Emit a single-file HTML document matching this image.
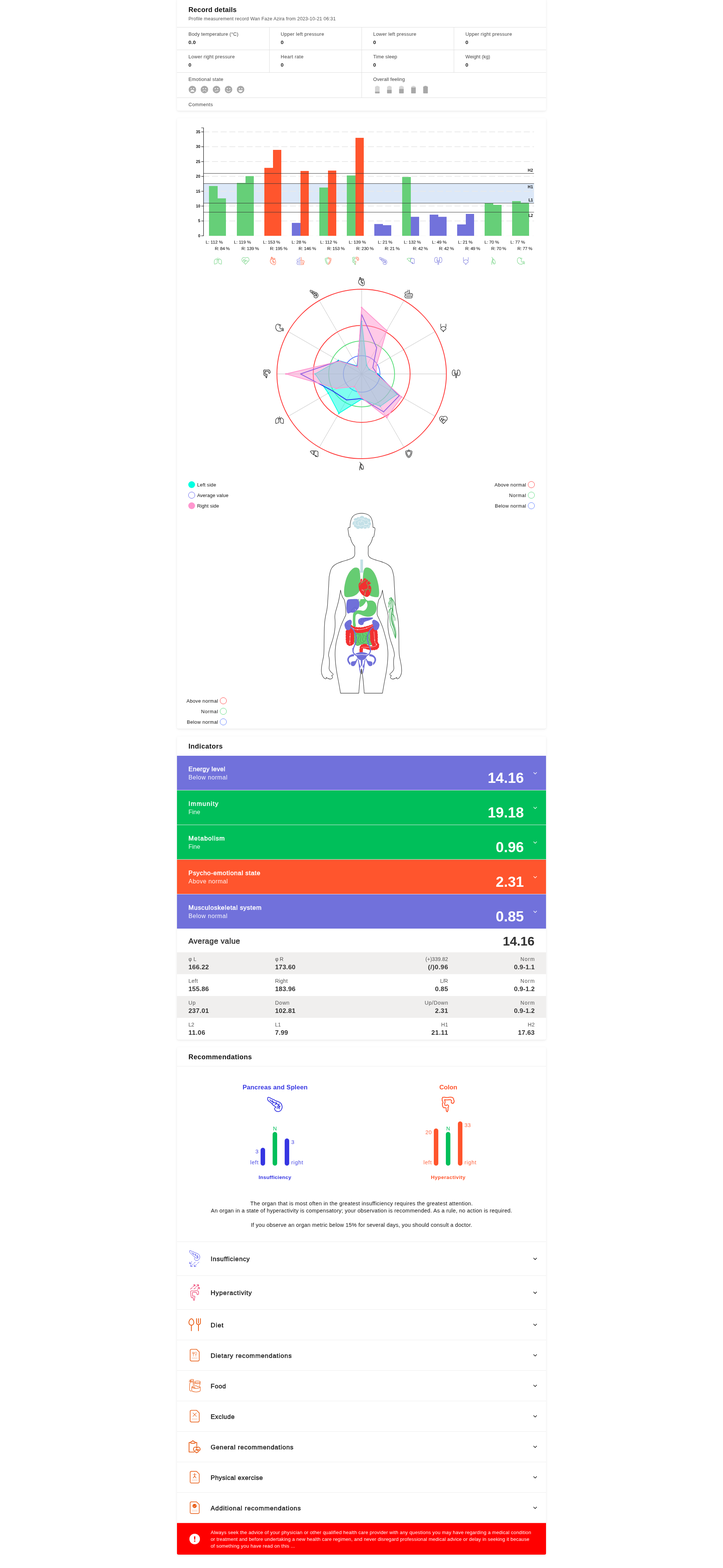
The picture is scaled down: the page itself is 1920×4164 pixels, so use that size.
<!DOCTYPE html>
<html lang="en"><head><meta charset="utf-8"><title>Record details</title>
<style>

html,body{margin:0;padding:0;background:#fff}
#page{position:relative;width:1920px;height:4164px;overflow:hidden;background:#fff;font-family:'Liberation Sans',sans-serif;color:#222}
.t{position:absolute;white-space:nowrap;line-height:1;margin:0;padding:0}
.card{position:absolute;left:470px;width:980px;background:#fff;border-radius:4px;box-shadow:0 1px 2px rgba(0,0,0,.05),0 2px 7px rgba(0,0,0,.07)}
.hl{position:absolute;left:470px;width:980px;height:1px;background:#dcdcdc}
.vl{position:absolute;width:1px;background:#dcdcdc}
.b{position:absolute}
svg{position:absolute;overflow:visible}

</style></head>
<body>
<div id="page">
<div class="card" style="top:-3px;height:296.7px"></div>
<div class="card" style="top:313.7px;height:1621.8px"></div>
<div class="card" style="top:1955.6px;height:805.1px;overflow:hidden"></div>
<div class="card" style="top:2780.6px;height:1347.9px"></div>
<div class="t" style="top:17.00px;font-size:18px;color:#111;font-weight:700;letter-spacing:0.290px;left:500.50px;">Record details</div>
<div class="t" style="top:44.00px;font-size:12.5px;color:#555;letter-spacing:0.240px;left:500.50px;">Profile measurement record Wan Faze Azira from 2023-10-21 06:31</div>
<div class="hl" style="top:72px"></div>
<div class="hl" style="top:132px"></div>
<div class="hl" style="top:192px"></div>
<div class="hl" style="top:259px"></div>
<div class="vl" style="left:714.5px;top:72px;height:120px"></div>
<div class="vl" style="left:959.5px;top:72px;height:187px"></div>
<div class="vl" style="left:1204.5px;top:72px;height:120px"></div>
<div class="t" style="top:85.00px;font-size:12.8px;color:#454545;letter-spacing:0.220px;left:500.50px;">Body temperature (°C)</div>
<div class="t" style="top:106.00px;font-size:13.6px;color:#1c1c1c;font-weight:700;letter-spacing:0.258px;left:500.50px;">0.0</div>
<div class="t" style="top:85.00px;font-size:12.8px;color:#454545;letter-spacing:0.346px;left:745.50px;">Upper left pressure</div>
<div class="t" style="top:106.00px;font-size:13.6px;color:#1c1c1c;font-weight:700;left:745.50px;">0</div>
<div class="t" style="top:85.00px;font-size:12.8px;color:#454545;letter-spacing:0.308px;left:991.00px;">Lower left pressure</div>
<div class="t" style="top:106.00px;font-size:13.6px;color:#1c1c1c;font-weight:700;left:991.00px;">0</div>
<div class="t" style="top:85.00px;font-size:12.8px;color:#454545;letter-spacing:0.361px;left:1236.00px;">Upper right pressure</div>
<div class="t" style="top:106.00px;font-size:13.6px;color:#1c1c1c;font-weight:700;left:1236.00px;">0</div>
<div class="t" style="top:145.00px;font-size:12.8px;color:#454545;letter-spacing:0.325px;left:500.50px;">Lower right pressure</div>
<div class="t" style="top:166.00px;font-size:13.6px;color:#1c1c1c;font-weight:700;left:500.50px;">0</div>
<div class="t" style="top:145.00px;font-size:12.8px;color:#454545;letter-spacing:0.391px;left:745.50px;">Heart rate</div>
<div class="t" style="top:166.00px;font-size:13.6px;color:#1c1c1c;font-weight:700;left:745.50px;">0</div>
<div class="t" style="top:145.00px;font-size:12.8px;color:#454545;letter-spacing:0.167px;left:991.00px;">Time sleep</div>
<div class="t" style="top:166.00px;font-size:13.6px;color:#1c1c1c;font-weight:700;left:991.00px;">0</div>
<div class="t" style="top:145.00px;font-size:12.8px;color:#454545;letter-spacing:0.037px;left:1236.00px;">Weight (kg)</div>
<div class="t" style="top:166.00px;font-size:13.6px;color:#1c1c1c;font-weight:700;left:1236.00px;">0</div>
<div class="t" style="top:205.00px;font-size:12.8px;color:#454545;letter-spacing:0.298px;left:500.50px;">Emotional state</div>
<div class="t" style="top:205.00px;font-size:12.8px;color:#454545;letter-spacing:0.173px;left:991.00px;">Overall feeling</div>
<div class="t" style="top:272.00px;font-size:12.8px;color:#454545;letter-spacing:0.388px;left:500.50px;">Comments</div>
<svg style="left:0;top:0" width="1920" height="300" viewBox="0 0 1920 300"><g transform="translate(510.9 237.8)"><circle r="9.9" fill="#a8a8a8"/><circle cx="-3.2" cy="-2.6" r="1.5" fill="#fff"/><circle cx="3.2" cy="-2.6" r="1.5" fill="#fff"/><path d="M-5.6 5.6C-4.6 2.2-2.4.9 0 .9S4.6 2.2 5.6 5.6Z" fill="#fff"/></g><g transform="translate(542.9 237.8)"><circle r="9.9" fill="#a8a8a8"/><circle cx="-3.2" cy="-2.6" r="1.5" fill="#fff"/><circle cx="3.2" cy="-2.6" r="1.5" fill="#fff"/><path d="M-4.6 5.3C-3.4 3.2-1.8 2.4 0 2.4S3.4 3.2 4.6 5.3" fill="none" stroke="#fff" stroke-width="1.1" stroke-linecap="round"/></g><g transform="translate(574.9 237.8)"><circle r="9.9" fill="#a8a8a8"/><circle cx="-3.2" cy="-2.6" r="1.5" fill="#fff"/><circle cx="3.2" cy="-2.6" r="1.5" fill="#fff"/><path d="M-4.2 4.6L4.6 2.6" fill="none" stroke="#fff" stroke-width="1.1" stroke-linecap="round"/></g><g transform="translate(606.9 237.8)"><circle r="9.9" fill="#a8a8a8"/><circle cx="-3.2" cy="-2.6" r="1.5" fill="#fff"/><circle cx="3.2" cy="-2.6" r="1.5" fill="#fff"/><path d="M-4.8 2.3C-3.4 4.7-1.8 5.5 0 5.5S3.4 4.7 4.8 2.3" fill="none" stroke="#fff" stroke-width="1.2" stroke-linecap="round"/></g><g transform="translate(638.9 237.8)"><circle r="9.9" fill="#a8a8a8"/><circle cx="-3.2" cy="-2.6" r="1.5" fill="#fff"/><circle cx="3.2" cy="-2.6" r="1.5" fill="#fff"/><path d="M-5.7 1.6H5.7C5 5 2.6 6.6 0 6.6S-5 5-5.7 1.6Z" fill="#fff"/></g><path d="M999 228h6v1.7h-6z" fill="#d6d6d6"/><rect x="995.9" y="229.6" width="12.2" height="18.400000000000006" rx="1.6" fill="#d6d6d6"/><path d="M995.9 243.4h12.2V246.4a1.6 1.6 0 0 1-1.6 1.6h-9a1.6 1.6 0 0 1-1.6-1.6z" fill="#a8a8a8"/><path d="M1031 228h6v1.7h-6z" fill="#d6d6d6"/><rect x="1027.9" y="229.6" width="12.2" height="18.400000000000006" rx="1.6" fill="#d6d6d6"/><path d="M1027.9 238.8h12.2V246.4a1.6 1.6 0 0 1-1.6 1.6h-9a1.6 1.6 0 0 1-1.6-1.6z" fill="#a8a8a8"/><path d="M1063 228h6v1.7h-6z" fill="#d6d6d6"/><rect x="1059.9" y="229.6" width="12.2" height="18.400000000000006" rx="1.6" fill="#d6d6d6"/><path d="M1059.9 236.2h12.2V246.4a1.6 1.6 0 0 1-1.6 1.6h-9a1.6 1.6 0 0 1-1.6-1.6z" fill="#a8a8a8"/><path d="M1095 228h6v1.7h-6z" fill="#d6d6d6"/><rect x="1091.9" y="229.6" width="12.2" height="18.400000000000006" rx="1.6" fill="#d6d6d6"/><path d="M1091.9 232.4h12.2V246.4a1.6 1.6 0 0 1-1.6 1.6h-9a1.6 1.6 0 0 1-1.6-1.6z" fill="#a8a8a8"/><path d="M1127 228h6v1.7h-6z" fill="#a8a8a8"/><rect x="1123.9" y="229.6" width="12.2" height="18.400000000000006" rx="1.6" fill="#d6d6d6"/><rect x="1123.9" y="229.6" width="12.2" height="18.400000000000006" rx="1.6" fill="#a8a8a8"/></svg>
<svg style="left:0;top:320px" width="1920" height="400" viewBox="0 320 1920 400"><rect x="541" y="487.2" width="877.2" height="51.8" fill="#dce8f8"/><path d="M540 626.2H1418.2" stroke="#fafafa" stroke-width="2" stroke-dasharray="16 7" fill="none"/><path d="M540 586.8H1418.2" stroke="#e9e9e9" stroke-width="2" stroke-dasharray="16 7" fill="none"/><path d="M540 547.3H1418.2" stroke="#e9e9e9" stroke-width="2" stroke-dasharray="16 7" fill="none"/><path d="M540 507.9H1418.2" stroke="#e9e9e9" stroke-width="2" stroke-dasharray="16 7" fill="none"/><path d="M540 468.5H1418.2" stroke="#e9e9e9" stroke-width="2" stroke-dasharray="16 7" fill="none"/><path d="M540 429.1H1418.2" stroke="#e9e9e9" stroke-width="2" stroke-dasharray="16 7" fill="none"/><path d="M540 389.6H1418.2" stroke="#e9e9e9" stroke-width="2" stroke-dasharray="16 7" fill="none"/><path d="M540 350.2H1418.2" stroke="#e9e9e9" stroke-width="2" stroke-dasharray="16 7" fill="none"/><path d="M555 626.2V493.9h23V626.2z" fill="#66cf78"/><path d="M578 626.2V526.8h22V626.2z" fill="#66cf78"/><path d="M629 626.2V485.8h23V626.2z" fill="#66cf78"/><path d="M652 626.2V467.8h22V626.2z" fill="#66cf78"/><path d="M702 626.2V445.8h23V626.2z" fill="#ff552d"/><path d="M725 626.2V398.0h22V626.2z" fill="#ff552d"/><path d="M775 626.2V591.9h23V626.2z" fill="#7272db"/><path d="M798 626.2V454.1h22V626.2z" fill="#ff552d"/><path d="M848 626.2V498.0h23V626.2z" fill="#66cf78"/><path d="M871 626.2V453.1h22V626.2z" fill="#ff552d"/><path d="M921 626.2V466.1h23V626.2z" fill="#66cf78"/><path d="M944 626.2V366.0h22V626.2z" fill="#ff552d"/><path d="M994 626.2V594.9h23V626.2z" fill="#7272db"/><path d="M1017 626.2V598.0h22V626.2z" fill="#7272db"/><path d="M1068 626.2V469.9h23V626.2z" fill="#66cf78"/><path d="M1091 626.2V575.7h22V626.2z" fill="#7272db"/><path d="M1141 626.2V569.9h23V626.2z" fill="#7272db"/><path d="M1164 626.2V575.7h22V626.2z" fill="#7272db"/><path d="M1214 626.2V596.0h23V626.2z" fill="#7272db"/><path d="M1237 626.2V567.9h22V626.2z" fill="#7272db"/><path d="M1287 626.2V539.6h23V626.2z" fill="#66cf78"/><path d="M1310 626.2V544.0h22V626.2z" fill="#66cf78"/><path d="M1360 626.2V533.9h23V626.2z" fill="#66cf78"/><path d="M1383 626.2V538.4h22V626.2z" fill="#66cf78"/><path d="M541 460.5H1418.2" stroke="#333" stroke-width="1" fill="none"/><path d="M541 487.5H1418.2" stroke="#333" stroke-width="1" fill="none"/><path d="M541 539.5H1418.2" stroke="#333" stroke-width="1" fill="none"/><path d="M541 563.5H1418.2" stroke="#333" stroke-width="1" fill="none"/><path d="M534.5 339.5H540.5V626.5" stroke="#111" stroke-width="1.2" fill="none"/><path d="M534.5 626.2H540.5" stroke="#111" stroke-width="1.2" fill="none"/><path d="M534.5 586.8H540.5" stroke="#111" stroke-width="1.2" fill="none"/><path d="M534.5 547.3H540.5" stroke="#111" stroke-width="1.2" fill="none"/><path d="M534.5 507.9H540.5" stroke="#111" stroke-width="1.2" fill="none"/><path d="M534.5 468.5H540.5" stroke="#111" stroke-width="1.2" fill="none"/><path d="M534.5 429.1H540.5" stroke="#111" stroke-width="1.2" fill="none"/><path d="M534.5 389.6H540.5" stroke="#111" stroke-width="1.2" fill="none"/><path d="M534.5 350.2H540.5" stroke="#111" stroke-width="1.2" fill="none"/><path transform="translate(578.7 692.9) scale(0.930)" d="M-4.2 -6.1C-3.6 -6.2 -2.9 -6.1 -2.7 -5.5C-2.5 -4.9 -3 -3.4 -2.9 -2.7C-2.8 -1.9 -2.1 -1.9 -2 -0.8C-1.8 0.4 -1.8 2.9 -1.9 4.2C-2 5.4 -2.3 6.2 -2.7 6.8C-3.1 7.4 -3.5 7.8 -4.2 8C-4.9 8.1 -6.3 7.8 -6.9 8C-7.5 8.1 -7.6 8.9 -8 9.1C-8.5 9.3 -9.2 9.3 -9.5 9.1C-9.9 8.8 -10.2 9.1 -10.3 7.6C-10.4 6.1 -10.6 1.8 -10.3 0C-10.1 -1.8 -9.4 -2.2 -8.8 -3C-8.2 -3.9 -7.3 -4.4 -6.5 -4.9C-5.8 -5.4 -4.9 -6 -4.2 -6.1ZM4.2 -6.1C3.6 -6.2 2.9 -6.1 2.7 -5.5C2.5 -4.9 3 -3.4 2.9 -2.7C2.8 -1.9 2.1 -1.9 2 -0.8C1.8 0.4 1.8 2.9 1.9 4.2C2 5.4 2.3 6.2 2.7 6.8C3.1 7.4 3.5 7.8 4.2 8C4.9 8.1 6.3 7.8 6.9 8C7.5 8.1 7.6 8.9 8 9.1C8.5 9.3 9.2 9.3 9.5 9.1C9.9 8.8 10.2 9.1 10.3 7.6C10.4 6.1 10.6 1.8 10.3 0C10.1 -1.8 9.4 -2.2 8.8 -3C8.2 -3.9 7.3 -4.4 6.5 -4.9C5.8 -5.4 4.9 -6 4.2 -6.1ZM0 -9.3L0 -4.5M-1.8 -2.7C-1.6 -2.8 -0.9 -3.1 -0.6 -3.4C-0.3 -3.7 -0.2 -4.5 0 -4.5C0.2 -4.5 0.4 -3.7 0.7 -3.4C1 -3.1 1.6 -2.8 1.8 -2.7" stroke="#66cf78" fill="none" stroke-width="1.08" stroke-linecap="round" stroke-linejoin="round"/><path transform="translate(651.8 692.9) scale(0.930)" d="M-9.9 -1.7C-10 -2.1 -10.4 -3.3 -10.1 -4.4C-9.9 -5.4 -9.3 -7.2 -8.4 -8.1C-7.5 -9.1 -5.8 -9.9 -4.6 -10C-3.4 -10.2 -2 -9.3 -1.2 -8.9C-0.4 -8.5 -0.3 -7.6 0.1 -7.6C0.6 -7.6 0.7 -8.5 1.4 -8.9C2.2 -9.3 3.6 -10.2 4.8 -10C6 -9.9 7.7 -9.1 8.6 -8.1C9.6 -7.2 10.2 -5.6 10.3 -4.4C10.5 -3.1 9.9 -1.2 9.8 -0.6L0.1 9.7L-7.8 1.9M-10.3 0.2L-6.1 0.2L-3.9 -5.7L-1.8 4.2L0.7 -3.4L2.2 0.2L6.4 0.2" stroke="#66cf78" fill="none" stroke-width="1.08" stroke-linecap="round" stroke-linejoin="round"/><path transform="translate(725.0 692.9) scale(0.930)" d="M-5.8 -4.7C-6.8 -4.1 -7.3 -2.8 -7.6 -1.7C-7.9 -0.5 -7.9 1.1 -7.6 2.4C-7.3 3.6 -6.8 4.8 -5.8 5.9C-4.8 7 -3.2 8.1 -1.8 8.9C-0.3 9.8 1.6 10.7 2.8 11C4 11.2 4.5 10.9 5.3 10.2C6.1 9.5 6.9 8.2 7.3 6.9C7.7 5.6 7.7 3.9 7.6 2.4C7.4 0.9 6.9 -1 6.3 -2.2C5.8 -3.3 5.1 -4.3 4.3 -4.6C3.5 -4.9 2.3 -4 1.3 -4.1C0.3 -4.2 -0.6 -5.1 -1.8 -5.2C-2.9 -5.3 -4.8 -5.3 -5.8 -4.7ZM-6.1 -4.4C-5.9 -5.4 -5.3 -9.2 -4.8 -10.3C-4.3 -11.3 -3.4 -10.9 -2.8 -10.8C-2.2 -10.6 -1.5 -9.9 -1.2 -9.1C-0.9 -8.4 -1 -6.9 -1 -6.5M-3.8 -9.7C-3.6 -9.3 -2.9 -7.4 -2.8 -7M0.3 -7C0.8 -7.1 2.9 -7.9 3.8 -7.7C4.7 -7.6 5.6 -6.7 5.8 -6.2C6 -5.7 5 -4.9 4.8 -4.6M2.3 -4.1C1.8 -3.6 -0.5 -2.1 -0.8 -1.2C-1 -0.3 0.2 0.6 0.8 1.4C1.3 2.1 2.5 2.4 2.8 3.4C3 4.4 2.4 6.8 2.3 7.4M-0.5 -0.4L-1.7 0.5M0.9 2.4L-1 4.4M2.8 2.9L4.8 4" stroke="#ff552d" fill="none" stroke-width="1.08" stroke-linecap="round" stroke-linejoin="round"/><clipPath id="ci3l"><rect x="778.125" y="672.9" width="20" height="40"/></clipPath><clipPath id="ci3r"><rect x="798.125" y="672.9" width="20" height="40"/></clipPath><g clip-path="url(#ci3l)"><path transform="translate(798.1 692.9) scale(0.930)" d="M-2 -10.7C-2 -10.2 -1.8 -7.4 -2 -6.7C-2.1 -6 -2.5 -5.7 -3.1 -5.6C-3.8 -5.4 -5.8 -5.6 -6.7 -5.4C-7.5 -5.2 -9 -4.4 -9.4 -3.9C-9.9 -3.4 -10 -2.1 -9.9 -1.4C-9.9 -0.7 -9.4 0.9 -9.2 1.4C-9 1.9 -8.3 2.3 -8.2 2.4M1.9 -10.7C1.9 -9.9 2.1 -5.8 1.9 -4.6C1.8 -3.5 1.2 -2.8 0.9 -2.4C0.6 -1.9 0.4 -1.5 -0.6 -1.4C-1.6 -1.2 -5.6 -1.3 -6.4 -1.3M-0.6 -1.4C0.4 -1.4 5.6 -1.5 7 -1.4C8.3 -1.2 9 -0.6 9.5 -0.1C10 0.4 10.4 1.7 10.4 2.4C10.4 3.1 9.9 4.7 9.5 5.2C9.1 5.7 9.6 6.3 7.5 6.5C5.4 6.6 -4.6 6.6 -6.4 6.6M-8.2 2.5L7 2.5M-8.2 2.5C-8.4 2.7 -9.4 3.4 -9.7 3.9C-10 4.5 -10.2 5.8 -10.2 6.5C-10.2 7.1 -9.8 8.5 -9.4 9C-9.1 9.5 -9.6 10.1 -7.4 10.3C-5.2 10.4 4.8 10.5 7 10.4C9.1 10.3 8.2 9.8 8.5 9.5C8.8 9.1 9 8.1 9 7.7C9 7.3 8.3 6.6 8.2 6.5" stroke="#7272db" fill="none" stroke-width="1.08" stroke-linecap="round" stroke-linejoin="round"/></g><g clip-path="url(#ci3r)"><path transform="translate(798.1 692.9) scale(0.930)" d="M-2 -10.7C-2 -10.2 -1.8 -7.4 -2 -6.7C-2.1 -6 -2.5 -5.7 -3.1 -5.6C-3.8 -5.4 -5.8 -5.6 -6.7 -5.4C-7.5 -5.2 -9 -4.4 -9.4 -3.9C-9.9 -3.4 -10 -2.1 -9.9 -1.4C-9.9 -0.7 -9.4 0.9 -9.2 1.4C-9 1.9 -8.3 2.3 -8.2 2.4M1.9 -10.7C1.9 -9.9 2.1 -5.8 1.9 -4.6C1.8 -3.5 1.2 -2.8 0.9 -2.4C0.6 -1.9 0.4 -1.5 -0.6 -1.4C-1.6 -1.2 -5.6 -1.3 -6.4 -1.3M-0.6 -1.4C0.4 -1.4 5.6 -1.5 7 -1.4C8.3 -1.2 9 -0.6 9.5 -0.1C10 0.4 10.4 1.7 10.4 2.4C10.4 3.1 9.9 4.7 9.5 5.2C9.1 5.7 9.6 6.3 7.5 6.5C5.4 6.6 -4.6 6.6 -6.4 6.6M-8.2 2.5L7 2.5M-8.2 2.5C-8.4 2.7 -9.4 3.4 -9.7 3.9C-10 4.5 -10.2 5.8 -10.2 6.5C-10.2 7.1 -9.8 8.5 -9.4 9C-9.1 9.5 -9.6 10.1 -7.4 10.3C-5.2 10.4 4.8 10.5 7 10.4C9.1 10.3 8.2 9.8 8.5 9.5C8.8 9.1 9 8.1 9 7.7C9 7.3 8.3 6.6 8.2 6.5" stroke="#ff552d" fill="none" stroke-width="1.08" stroke-linecap="round" stroke-linejoin="round"/></g><clipPath id="ci4l"><rect x="851.2750000000001" y="672.9" width="20" height="40"/></clipPath><clipPath id="ci4r"><rect x="871.2750000000001" y="672.9" width="20" height="40"/></clipPath><g clip-path="url(#ci4l)"><path transform="translate(871.3 692.9) scale(0.930)" d="M0 -10.6C0.4 -10.6 1.1 -9.4 1.6 -9.1C2.1 -8.7 3 -8.2 3.9 -8C4.8 -7.7 7.5 -7.9 8.1 -7.2C8.6 -6.5 8.5 -4.1 8.3 -2.7C8.1 -1.2 7.2 2 6.6 3.4C5.9 4.8 4.4 7 3.5 8C2.6 8.9 0.9 10.4 0 10.4C-0.9 10.4 -2.6 8.9 -3.5 8C-4.4 7 -5.9 4.8 -6.5 3.4C-7.1 2 -8 -1.2 -8.2 -2.7C-8.4 -4.1 -8.6 -6.5 -8 -7.2C-7.4 -7.9 -4.7 -7.7 -3.9 -8C-3 -8.2 -2.1 -8.7 -1.6 -9.1C-1.1 -9.4 -0.4 -10.6 0 -10.6ZM0 -7.4C0.4 -7.4 0.9 -6.4 1.6 -6.1C2.4 -5.7 5.1 -5.2 5.6 -4.5C6.1 -3.9 5.5 -2.1 5.2 -1.1C4.9 -0.1 4.2 1.9 3.5 3C2.8 4.2 0.9 7.4 0 7.4C-0.9 7.4 -2.8 4.2 -3.5 3C-4.2 1.9 -4.9 -0.1 -5.2 -1.1C-5.5 -2.1 -6 -3.9 -5.6 -4.5C-5.1 -5.2 -2.3 -5.7 -1.6 -6.1C-0.8 -6.4 -0.4 -7.4 0 -7.4Z" stroke="#66cf78" fill="none" stroke-width="1.08" stroke-linecap="round" stroke-linejoin="round"/></g><g clip-path="url(#ci4r)"><path transform="translate(871.3 692.9) scale(0.930)" d="M0 -10.6C0.4 -10.6 1.1 -9.4 1.6 -9.1C2.1 -8.7 3 -8.2 3.9 -8C4.8 -7.7 7.5 -7.9 8.1 -7.2C8.6 -6.5 8.5 -4.1 8.3 -2.7C8.1 -1.2 7.2 2 6.6 3.4C5.9 4.8 4.4 7 3.5 8C2.6 8.9 0.9 10.4 0 10.4C-0.9 10.4 -2.6 8.9 -3.5 8C-4.4 7 -5.9 4.8 -6.5 3.4C-7.1 2 -8 -1.2 -8.2 -2.7C-8.4 -4.1 -8.6 -6.5 -8 -7.2C-7.4 -7.9 -4.7 -7.7 -3.9 -8C-3 -8.2 -2.1 -8.7 -1.6 -9.1C-1.1 -9.4 -0.4 -10.6 0 -10.6ZM0 -7.4C0.4 -7.4 0.9 -6.4 1.6 -6.1C2.4 -5.7 5.1 -5.2 5.6 -4.5C6.1 -3.9 5.5 -2.1 5.2 -1.1C4.9 -0.1 4.2 1.9 3.5 3C2.8 4.2 0.9 7.4 0 7.4C-0.9 7.4 -2.8 4.2 -3.5 3C-4.2 1.9 -4.9 -0.1 -5.2 -1.1C-5.5 -2.1 -6 -3.9 -5.6 -4.5C-5.1 -5.2 -2.3 -5.7 -1.6 -6.1C-0.8 -6.4 -0.4 -7.4 0 -7.4Z" stroke="#ff552d" fill="none" stroke-width="1.08" stroke-linecap="round" stroke-linejoin="round"/></g><clipPath id="ci5l"><rect x="924.4250000000001" y="672.9" width="20" height="40"/></clipPath><clipPath id="ci5r"><rect x="944.4250000000001" y="672.9" width="20" height="40"/></clipPath><g clip-path="url(#ci5l)"><path transform="translate(944.4 692.9) scale(0.930)" d="M-8.1 -9.2C-8 -9.4 -8.3 -9.7 -8.2 -9.9C-8.2 -10.1 -8 -10.4 -7.8 -10.5C-7.6 -10.5 -7.3 -10.5 -7.1 -10.5C-6.9 -10.4 -6.7 -10.1 -6.5 -10.1C-6.3 -10.1 -6.1 -10.5 -5.9 -10.6C-5.7 -10.7 -5.5 -10.7 -5.3 -10.7C-5.1 -10.7 -4.9 -10.6 -4.7 -10.4C-4.5 -10.3 -4.4 -9.9 -4.2 -9.9C-4 -9.9 -3.7 -10.2 -3.5 -10.3C-3.3 -10.3 -3.1 -10.4 -2.9 -10.4C-2.7 -10.3 -2.6 -10.2 -2.4 -10.1C-2.2 -10 -2 -9.6 -1.8 -9.6C-1.6 -9.6 -1.4 -10 -1.2 -10.1C-1 -10.2 -0.8 -10.3 -0.6 -10.3C-0.4 -10.4 -0.2 -10.3 -0 -10.2C0.2 -10.2 0.4 -9.8 0.6 -9.9C0.8 -9.9 1 -10.3 1.2 -10.4C1.3 -10.6 1.5 -10.7 1.7 -10.7C1.9 -10.7 2.1 -10.7 2.3 -10.6C2.5 -10.5 2.8 -10.2 3 -10.2C3.2 -10.2 3.3 -10.6 3.5 -10.7C3.7 -10.8 4 -10.8 4.2 -10.8C4.4 -10.8 4.6 -10.7 4.7 -10.6C4.9 -10.4 5 -10 5.2 -10C5.4 -10 5.7 -10.2 5.9 -10.3C6.1 -10.3 6.4 -10.3 6.6 -10.2C6.8 -10.1 6.9 -9.9 7 -9.7C7.1 -9.5 7 -9.2 7.1 -9C7.2 -8.8 7.6 -8.8 7.7 -8.7C7.9 -8.6 8 -8.3 8.1 -8.1C8.1 -8 8.1 -7.7 8 -7.5C7.9 -7.3 7.6 -7 7.7 -6.8C7.7 -6.7 8.1 -6.6 8.3 -6.4C8.5 -6.3 8.6 -6.2 8.7 -6C8.8 -5.8 8.9 -5.6 8.8 -5.3C8.8 -5.1 8.5 -4.9 8.5 -4.7C8.5 -4.5 8.8 -4.3 8.9 -4.1C8.9 -3.9 8.9 -3.6 8.8 -3.4C8.7 -3.3 8.5 -3.1 8.3 -3C8.1 -2.9 7.7 -2.9 7.6 -2.8C7.5 -2.6 7.7 -2.2 7.6 -2C7.5 -1.8 7.4 -1.6 7.3 -1.4C7.1 -1.3 6.7 -1.3 6.5 -1.4C6.3 -1.5 6.3 -1.9 6.1 -2C5.9 -2.1 5.6 -1.8 5.4 -1.9C5.1 -1.9 4.9 -2 4.8 -2.2C4.6 -2.3 4.5 -2.6 4.5 -2.8C4.6 -3 4.9 -3.2 4.9 -3.4C4.9 -3.6 4.7 -3.9 4.6 -4.1C4.5 -4.3 4.5 -4.5 4.5 -4.7C4.6 -4.9 4.7 -5 4.7 -5.2C4.8 -5.4 5 -5.7 5 -5.9C4.9 -6.1 4.5 -6.1 4.3 -6.2C4.1 -6.3 3.9 -6.3 3.8 -6.4C3.6 -6.5 3.5 -6.7 3.4 -6.9C3.2 -7 3 -7.4 2.8 -7.4C2.7 -7.4 2.5 -7 2.3 -6.9C2.1 -6.8 1.9 -6.7 1.7 -6.6C1.5 -6.6 1.3 -6.6 1.1 -6.7C0.9 -6.8 0.6 -7.1 0.4 -7.1C0.2 -7 0.1 -6.7 -0.1 -6.6C-0.3 -6.5 -0.5 -6.4 -0.7 -6.4C-0.9 -6.4 -1.1 -6.5 -1.3 -6.6C-1.5 -6.7 -1.7 -7 -1.9 -7C-2.1 -7 -2.3 -6.7 -2.5 -6.6C-2.7 -6.5 -2.9 -6.4 -3.1 -6.5C-3.3 -6.5 -3.5 -6.5 -3.7 -6.7C-3.9 -6.8 -4 -7.1 -4.2 -7.2C-4.4 -7.3 -4.7 -7 -4.9 -7C-5 -7 -5 -7.1 -5 -7C-5 -6.9 -5 -6.8 -5.1 -6.6C-5.1 -6.4 -5.4 -6 -5.3 -5.8C-5.2 -5.7 -4.8 -5.6 -4.7 -5.5C-4.5 -5.3 -4.4 -5.1 -4.3 -4.9C-4.2 -4.7 -4.3 -4.5 -4.3 -4.3C-4.4 -4.1 -4.7 -3.9 -4.8 -3.7C-4.8 -3.5 -4.5 -3.3 -4.4 -3.1C-4.4 -2.8 -4.4 -2.6 -4.4 -2.4C-4.5 -2.2 -4.6 -2.1 -4.8 -1.9C-4.9 -1.8 -5.3 -1.6 -5.4 -1.4C-5.4 -1.2 -5 -1 -4.9 -0.8C-4.8 -0.6 -4.7 -0.4 -4.7 -0.2C-4.6 -0.1 -4.7 0.1 -4.7 0.4C-4.8 0.6 -5 0.9 -4.9 1.1C-4.9 1.2 -4.4 1.3 -4.2 1.3C-4 1.4 -4 1.3 -3.8 1.3C-3.6 1.3 -3.4 1.4 -3.2 1.4C-3 1.5 -2.7 1.7 -2.5 1.7C-2.3 1.6 -2.2 1.2 -2.1 1.1C-2 0.9 -1.9 0.7 -1.7 0.6C-1.6 0.5 -1.3 0.4 -1.1 0.4C-0.9 0.5 -0.9 0.8 -0.7 0.9C-0.5 1 -0.2 0.9 0 1C0.2 1 0.5 1.2 0.6 1.3C0.7 1.5 0.8 1.7 0.7 2C0.7 2.2 0.5 2.4 0.5 2.6C0.6 2.9 0.8 3 0.8 3.2C0.8 3.4 0.7 3.6 0.6 3.8C0.4 3.9 0.3 4 0.1 4.1C-0 4.3 -0.4 4.4 -0.4 4.6C-0.5 4.8 -0.1 5 -0 5.2C0.1 5.4 0.2 5.6 0.2 5.8C0.2 6 0.1 6.2 -0 6.4C-0.1 6.6 -0.5 6.8 -0.5 7C-0.5 7.2 -0.1 7.4 -0 7.6C0.1 7.8 0.1 8 0.1 8.2C0.1 8.5 -0.1 8.7 -0.2 8.8C-0.4 9 -0.8 9 -0.8 9.2C-0.9 9.4 -0.7 9.7 -0.7 9.9C-0.7 10.2 -0.8 10.4 -1 10.6C-1.1 10.7 -1.6 10.8 -1.7 10.7C-1.9 10.6 -1.7 10.2 -1.8 10C-1.9 9.8 -2.3 9.8 -2.4 9.7C-2.6 9.5 -2.7 9.3 -2.8 9.1C-2.9 8.9 -2.8 8.7 -2.8 8.5C-2.7 8.3 -2.4 8 -2.4 7.8C-2.4 7.6 -2.8 7.5 -2.9 7.3C-3 7.1 -3.1 6.9 -3.1 6.7C-3.1 6.5 -3.1 6.3 -3 6.1C-2.9 5.9 -2.6 5.6 -2.7 5.4C-2.7 5.3 -3.1 5.1 -3.3 5C-3.5 4.9 -3.6 4.9 -3.7 4.8C-3.9 4.8 -4 4.7 -4.1 4.6C-4.3 4.5 -4.6 4.3 -4.8 4.3C-5 4.3 -5.1 4.7 -5.3 4.9C-5.5 5 -5.7 5.1 -5.9 5.1C-6.1 5.1 -6.4 4.9 -6.5 4.7C-6.7 4.5 -6.5 4.1 -6.7 4C-6.8 3.8 -7.2 3.9 -7.4 3.8C-7.6 3.7 -7.7 3.5 -7.8 3.3C-7.9 3.1 -7.9 2.9 -7.9 2.6C-7.8 2.4 -7.5 2.2 -7.6 2C-7.6 1.8 -8 1.7 -8.1 1.5C-8.3 1.3 -8.4 1.1 -8.4 0.9C-8.4 0.7 -8.4 0.5 -8.3 0.3C-8.2 0.1 -7.9 -0.1 -7.9 -0.3C-7.9 -0.5 -8.3 -0.7 -8.4 -0.9C-8.4 -1.1 -8.5 -1.4 -8.4 -1.6C-8.3 -1.8 -8.1 -2 -7.9 -2.1C-7.7 -2.2 -7.3 -2.2 -7.2 -2.4C-7.1 -2.5 -7.3 -2.9 -7.4 -3.1C-7.5 -3.3 -7.6 -3.4 -7.7 -3.5C-7.7 -3.7 -7.8 -3.9 -7.8 -4.1C-7.8 -4.3 -7.7 -4.6 -7.8 -4.8C-7.9 -5 -8.3 -5 -8.4 -5.1C-8.6 -5.3 -8.7 -5.5 -8.8 -5.7C-8.8 -5.9 -8.7 -6.1 -8.7 -6.3C-8.6 -6.5 -8.2 -6.7 -8.3 -6.9C-8.3 -7.1 -8.6 -7.3 -8.7 -7.5C-8.8 -7.7 -8.9 -7.9 -8.9 -8.1C-8.9 -8.3 -8.8 -8.5 -8.7 -8.7C-8.5 -8.9 -8.2 -9 -8.1 -9.2Z" stroke="#66cf78" fill="none" stroke-width="1.08" stroke-linecap="round" stroke-linejoin="round"/></g><g clip-path="url(#ci5r)"><path transform="translate(944.4 692.9) scale(0.930)" d="M-8.1 -9.2C-8 -9.4 -8.3 -9.7 -8.2 -9.9C-8.2 -10.1 -8 -10.4 -7.8 -10.5C-7.6 -10.5 -7.3 -10.5 -7.1 -10.5C-6.9 -10.4 -6.7 -10.1 -6.5 -10.1C-6.3 -10.1 -6.1 -10.5 -5.9 -10.6C-5.7 -10.7 -5.5 -10.7 -5.3 -10.7C-5.1 -10.7 -4.9 -10.6 -4.7 -10.4C-4.5 -10.3 -4.4 -9.9 -4.2 -9.9C-4 -9.9 -3.7 -10.2 -3.5 -10.3C-3.3 -10.3 -3.1 -10.4 -2.9 -10.4C-2.7 -10.3 -2.6 -10.2 -2.4 -10.1C-2.2 -10 -2 -9.6 -1.8 -9.6C-1.6 -9.6 -1.4 -10 -1.2 -10.1C-1 -10.2 -0.8 -10.3 -0.6 -10.3C-0.4 -10.4 -0.2 -10.3 -0 -10.2C0.2 -10.2 0.4 -9.8 0.6 -9.9C0.8 -9.9 1 -10.3 1.2 -10.4C1.3 -10.6 1.5 -10.7 1.7 -10.7C1.9 -10.7 2.1 -10.7 2.3 -10.6C2.5 -10.5 2.8 -10.2 3 -10.2C3.2 -10.2 3.3 -10.6 3.5 -10.7C3.7 -10.8 4 -10.8 4.2 -10.8C4.4 -10.8 4.6 -10.7 4.7 -10.6C4.9 -10.4 5 -10 5.2 -10C5.4 -10 5.7 -10.2 5.9 -10.3C6.1 -10.3 6.4 -10.3 6.6 -10.2C6.8 -10.1 6.9 -9.9 7 -9.7C7.1 -9.5 7 -9.2 7.1 -9C7.2 -8.8 7.6 -8.8 7.7 -8.7C7.9 -8.6 8 -8.3 8.1 -8.1C8.1 -8 8.1 -7.7 8 -7.5C7.9 -7.3 7.6 -7 7.7 -6.8C7.7 -6.7 8.1 -6.6 8.3 -6.4C8.5 -6.3 8.6 -6.2 8.7 -6C8.8 -5.8 8.9 -5.6 8.8 -5.3C8.8 -5.1 8.5 -4.9 8.5 -4.7C8.5 -4.5 8.8 -4.3 8.9 -4.1C8.9 -3.9 8.9 -3.6 8.8 -3.4C8.7 -3.3 8.5 -3.1 8.3 -3C8.1 -2.9 7.7 -2.9 7.6 -2.8C7.5 -2.6 7.7 -2.2 7.6 -2C7.5 -1.8 7.4 -1.6 7.3 -1.4C7.1 -1.3 6.7 -1.3 6.5 -1.4C6.3 -1.5 6.3 -1.9 6.1 -2C5.9 -2.1 5.6 -1.8 5.4 -1.9C5.1 -1.9 4.9 -2 4.8 -2.2C4.6 -2.3 4.5 -2.6 4.5 -2.8C4.6 -3 4.9 -3.2 4.9 -3.4C4.9 -3.6 4.7 -3.9 4.6 -4.1C4.5 -4.3 4.5 -4.5 4.5 -4.7C4.6 -4.9 4.7 -5 4.7 -5.2C4.8 -5.4 5 -5.7 5 -5.9C4.9 -6.1 4.5 -6.1 4.3 -6.2C4.1 -6.3 3.9 -6.3 3.8 -6.4C3.6 -6.5 3.5 -6.7 3.4 -6.9C3.2 -7 3 -7.4 2.8 -7.4C2.7 -7.4 2.5 -7 2.3 -6.9C2.1 -6.8 1.9 -6.7 1.7 -6.6C1.5 -6.6 1.3 -6.6 1.1 -6.7C0.9 -6.8 0.6 -7.1 0.4 -7.1C0.2 -7 0.1 -6.7 -0.1 -6.6C-0.3 -6.5 -0.5 -6.4 -0.7 -6.4C-0.9 -6.4 -1.1 -6.5 -1.3 -6.6C-1.5 -6.7 -1.7 -7 -1.9 -7C-2.1 -7 -2.3 -6.7 -2.5 -6.6C-2.7 -6.5 -2.9 -6.4 -3.1 -6.5C-3.3 -6.5 -3.5 -6.5 -3.7 -6.7C-3.9 -6.8 -4 -7.1 -4.2 -7.2C-4.4 -7.3 -4.7 -7 -4.9 -7C-5 -7 -5 -7.1 -5 -7C-5 -6.9 -5 -6.8 -5.1 -6.6C-5.1 -6.4 -5.4 -6 -5.3 -5.8C-5.2 -5.7 -4.8 -5.6 -4.7 -5.5C-4.5 -5.3 -4.4 -5.1 -4.3 -4.9C-4.2 -4.7 -4.3 -4.5 -4.3 -4.3C-4.4 -4.1 -4.7 -3.9 -4.8 -3.7C-4.8 -3.5 -4.5 -3.3 -4.4 -3.1C-4.4 -2.8 -4.4 -2.6 -4.4 -2.4C-4.5 -2.2 -4.6 -2.1 -4.8 -1.9C-4.9 -1.8 -5.3 -1.6 -5.4 -1.4C-5.4 -1.2 -5 -1 -4.9 -0.8C-4.8 -0.6 -4.7 -0.4 -4.7 -0.2C-4.6 -0.1 -4.7 0.1 -4.7 0.4C-4.8 0.6 -5 0.9 -4.9 1.1C-4.9 1.2 -4.4 1.3 -4.2 1.3C-4 1.4 -4 1.3 -3.8 1.3C-3.6 1.3 -3.4 1.4 -3.2 1.4C-3 1.5 -2.7 1.7 -2.5 1.7C-2.3 1.6 -2.2 1.2 -2.1 1.1C-2 0.9 -1.9 0.7 -1.7 0.6C-1.6 0.5 -1.3 0.4 -1.1 0.4C-0.9 0.5 -0.9 0.8 -0.7 0.9C-0.5 1 -0.2 0.9 0 1C0.2 1 0.5 1.2 0.6 1.3C0.7 1.5 0.8 1.7 0.7 2C0.7 2.2 0.5 2.4 0.5 2.6C0.6 2.9 0.8 3 0.8 3.2C0.8 3.4 0.7 3.6 0.6 3.8C0.4 3.9 0.3 4 0.1 4.1C-0 4.3 -0.4 4.4 -0.4 4.6C-0.5 4.8 -0.1 5 -0 5.2C0.1 5.4 0.2 5.6 0.2 5.8C0.2 6 0.1 6.2 -0 6.4C-0.1 6.6 -0.5 6.8 -0.5 7C-0.5 7.2 -0.1 7.4 -0 7.6C0.1 7.8 0.1 8 0.1 8.2C0.1 8.5 -0.1 8.7 -0.2 8.8C-0.4 9 -0.8 9 -0.8 9.2C-0.9 9.4 -0.7 9.7 -0.7 9.9C-0.7 10.2 -0.8 10.4 -1 10.6C-1.1 10.7 -1.6 10.8 -1.7 10.7C-1.9 10.6 -1.7 10.2 -1.8 10C-1.9 9.8 -2.3 9.8 -2.4 9.7C-2.6 9.5 -2.7 9.3 -2.8 9.1C-2.9 8.9 -2.8 8.7 -2.8 8.5C-2.7 8.3 -2.4 8 -2.4 7.8C-2.4 7.6 -2.8 7.5 -2.9 7.3C-3 7.1 -3.1 6.9 -3.1 6.7C-3.1 6.5 -3.1 6.3 -3 6.1C-2.9 5.9 -2.6 5.6 -2.7 5.4C-2.7 5.3 -3.1 5.1 -3.3 5C-3.5 4.9 -3.6 4.9 -3.7 4.8C-3.9 4.8 -4 4.7 -4.1 4.6C-4.3 4.5 -4.6 4.3 -4.8 4.3C-5 4.3 -5.1 4.7 -5.3 4.9C-5.5 5 -5.7 5.1 -5.9 5.1C-6.1 5.1 -6.4 4.9 -6.5 4.7C-6.7 4.5 -6.5 4.1 -6.7 4C-6.8 3.8 -7.2 3.9 -7.4 3.8C-7.6 3.7 -7.7 3.5 -7.8 3.3C-7.9 3.1 -7.9 2.9 -7.9 2.6C-7.8 2.4 -7.5 2.2 -7.6 2C-7.6 1.8 -8 1.7 -8.1 1.5C-8.3 1.3 -8.4 1.1 -8.4 0.9C-8.4 0.7 -8.4 0.5 -8.3 0.3C-8.2 0.1 -7.9 -0.1 -7.9 -0.3C-7.9 -0.5 -8.3 -0.7 -8.4 -0.9C-8.4 -1.1 -8.5 -1.4 -8.4 -1.6C-8.3 -1.8 -8.1 -2 -7.9 -2.1C-7.7 -2.2 -7.3 -2.2 -7.2 -2.4C-7.1 -2.5 -7.3 -2.9 -7.4 -3.1C-7.5 -3.3 -7.6 -3.4 -7.7 -3.5C-7.7 -3.7 -7.8 -3.9 -7.8 -4.1C-7.8 -4.3 -7.7 -4.6 -7.8 -4.8C-7.9 -5 -8.3 -5 -8.4 -5.1C-8.6 -5.3 -8.7 -5.5 -8.8 -5.7C-8.8 -5.9 -8.7 -6.1 -8.7 -6.3C-8.6 -6.5 -8.2 -6.7 -8.3 -6.9C-8.3 -7.1 -8.6 -7.3 -8.7 -7.5C-8.8 -7.7 -8.9 -7.9 -8.9 -8.1C-8.9 -8.3 -8.8 -8.5 -8.7 -8.7C-8.5 -8.9 -8.2 -9 -8.1 -9.2Z" stroke="#ff552d" fill="none" stroke-width="1.08" stroke-linecap="round" stroke-linejoin="round"/></g><path transform="translate(1017.6 692.9) scale(0.930)" d="M-9.7 -10.4C-9.2 -10.4 -8.5 -10.3 -7.6 -9.9C-6.6 -9.4 -5 -8.4 -4 -7.9C-3 -7.4 -2.4 -7.4 -1.5 -7C-0.6 -6.5 0.5 -5.6 1.5 -5.2C2.5 -4.7 3.6 -4.6 4.6 -4.2C5.5 -3.8 6.5 -3.4 7.3 -2.8C8.1 -2.3 8.8 -1.6 9.2 -0.9C9.7 -0.1 10 0.8 10.2 1.6C10.4 2.4 10.7 3.3 10.6 4.1C10.6 4.9 10.2 5.8 9.8 6.6C9.4 7.4 9 8.2 8.4 8.8C7.8 9.4 6.9 9.8 6.2 10C5.5 10.3 4.7 10.4 4 10.3C3.3 10.2 2.4 10 1.8 9.6C1.1 9.2 0.5 8.5 0.1 7.9C-0.2 7.4 -0.4 6.8 -0.4 6.3C-0.4 5.7 -0 5 0.3 4.6C0.6 4.2 1.6 4.3 1.5 3.9C1.4 3.6 0.2 2.9 -0.4 2.4C-1 2 -1.5 1.8 -2.1 1.3C-2.6 0.9 -3.1 0.3 -3.7 -0.3C-4.3 -1 -4.9 -1.8 -5.7 -2.5C-6.4 -3.2 -7.7 -3.9 -8.4 -4.5C-9.2 -5.1 -9.7 -5.5 -10.1 -6.1C-10.4 -6.8 -10.6 -7.7 -10.6 -8.3C-10.7 -9 -10.5 -9.5 -10.3 -9.9C-10.2 -10.2 -10.1 -10.4 -9.7 -10.4ZM-7.3 -6.8C-7 -6.5 -6.1 -5.5 -5.4 -5C-4.6 -4.5 -3.7 -4.2 -2.9 -3.8C-2.1 -3.4 -1.3 -2.9 -0.4 -2.5C0.5 -2.2 1.6 -2.1 2.3 -1.7C3.1 -1.3 3.4 -0.5 4 -0.1C4.6 0.4 5.3 0.5 5.7 1C6 1.6 6.1 2.6 6.2 3.5C6.3 4.5 6.3 6.1 6.3 6.6M-3.6 -5.7L-2.9 -3.9M-3.2 -1.7L-2.3 -3.1M1.8 -3L2.6 -1.3M0.1 0.2L2.3 -0.9M6.2 -1L5.8 1M3.4 3L5.7 1.9M7.6 2.4L6.3 4.4M2.9 5.3L5.9 4.4" stroke="#7272db" fill="none" stroke-width="1.08" stroke-linecap="round" stroke-linejoin="round"/><clipPath id="ci7l"><rect x="1070.7250000000001" y="672.9" width="20" height="40"/></clipPath><clipPath id="ci7r"><rect x="1090.7250000000001" y="672.9" width="20" height="40"/></clipPath><g clip-path="url(#ci7l)"><path transform="translate(1090.7 692.9) scale(0.930)" d="M-9.8 -6.4C-9.5 -6.8 -9.1 -7.5 -8 -7.7C-6.8 -7.9 -3.7 -7.7 -1.9 -7.8C-0.1 -7.8 2.6 -7.9 4.2 -7.8C5.8 -7.6 7.8 -7.1 8.7 -6.6C9.6 -6.1 10 -5.9 10.2 -4.5C10.4 -3.2 10.1 1 10.1 2.7C10.1 4.3 10.4 5.7 10.2 6.4C10.1 7.2 9.6 7.6 9.1 7.8C8.6 7.9 7.6 7.8 6.8 7.4C6.1 6.9 5 5.3 4.2 4.7C3.3 4.2 1.9 4.2 1.1 3.8C0.3 3.4 -0.2 2.8 -1.1 2.3C-2.1 1.7 -4.3 0.9 -5.3 0C-6.3 -0.9 -6.9 -2.7 -7.6 -3.4C-8.3 -4.1 -9.7 -4.5 -10 -4.9C-10.4 -5.4 -10.2 -6 -9.8 -6.4ZM-2.1 -7.6C-1.9 -6.9 -1.3 -5.1 -1.1 -3.4C-1 -1.8 -1.1 1.3 -1.1 2.3M3.4 -7.6C2.9 -7 1 -5.8 0.4 -4.2C-0.3 -2.5 -0.4 1.2 -0.6 2.3M3.4 6.1C3.4 5.7 4.3 5.1 4.7 5.1C5.2 5.1 6.1 5.8 6.1 6.2C6.1 6.7 5.2 7.6 4.7 7.6C4.3 7.5 3.4 6.5 3.4 6.1Z" stroke="#66cf78" fill="none" stroke-width="1.08" stroke-linecap="round" stroke-linejoin="round"/></g><g clip-path="url(#ci7r)"><path transform="translate(1090.7 692.9) scale(0.930)" d="M-9.8 -6.4C-9.5 -6.8 -9.1 -7.5 -8 -7.7C-6.8 -7.9 -3.7 -7.7 -1.9 -7.8C-0.1 -7.8 2.6 -7.9 4.2 -7.8C5.8 -7.6 7.8 -7.1 8.7 -6.6C9.6 -6.1 10 -5.9 10.2 -4.5C10.4 -3.2 10.1 1 10.1 2.7C10.1 4.3 10.4 5.7 10.2 6.4C10.1 7.2 9.6 7.6 9.1 7.8C8.6 7.9 7.6 7.8 6.8 7.4C6.1 6.9 5 5.3 4.2 4.7C3.3 4.2 1.9 4.2 1.1 3.8C0.3 3.4 -0.2 2.8 -1.1 2.3C-2.1 1.7 -4.3 0.9 -5.3 0C-6.3 -0.9 -6.9 -2.7 -7.6 -3.4C-8.3 -4.1 -9.7 -4.5 -10 -4.9C-10.4 -5.4 -10.2 -6 -9.8 -6.4ZM-2.1 -7.6C-1.9 -6.9 -1.3 -5.1 -1.1 -3.4C-1 -1.8 -1.1 1.3 -1.1 2.3M3.4 -7.6C2.9 -7 1 -5.8 0.4 -4.2C-0.3 -2.5 -0.4 1.2 -0.6 2.3M3.4 6.1C3.4 5.7 4.3 5.1 4.7 5.1C5.2 5.1 6.1 5.8 6.1 6.2C6.1 6.7 5.2 7.6 4.7 7.6C4.3 7.5 3.4 6.5 3.4 6.1Z" stroke="#7272db" fill="none" stroke-width="1.08" stroke-linecap="round" stroke-linejoin="round"/></g><path transform="translate(1163.9 692.9) scale(0.930)" d="M-6 -10.4C-5.2 -10.4 -3.9 -9.8 -3.3 -9.1C-2.8 -8.4 -2.6 -7.3 -2.8 -6.4C-2.9 -5.6 -4 -4.8 -4.1 -4.2C-4.2 -3.5 -3.3 -3.2 -3.3 -2.7C-3.3 -2.1 -4.2 -1.5 -4.1 -0.8C-4 -0.1 -3 0.8 -3 1.5C-2.9 2.3 -3.2 3.2 -3.7 3.8C-4.2 4.4 -5.2 4.9 -6 4.9C-6.8 4.9 -7.9 4.5 -8.6 3.8C-9.3 3.1 -9.8 1.9 -10.2 0.8C-10.5 -0.4 -10.6 -1.7 -10.5 -3C-10.5 -4.4 -10.2 -6.1 -9.8 -7.2C-9.4 -8.3 -8.9 -8.9 -8.3 -9.5C-7.6 -10 -6.8 -10.5 -6 -10.4ZM6 -10.4C5.2 -10.4 3.9 -9.8 3.3 -9.1C2.8 -8.4 2.6 -7.3 2.8 -6.4C2.9 -5.6 4 -4.8 4.1 -4.2C4.2 -3.5 3.3 -3.2 3.3 -2.7C3.3 -2.1 4.2 -1.5 4.1 -0.8C4 -0.1 3 0.8 3 1.5C2.9 2.3 3.2 3.2 3.7 3.8C4.2 4.4 5.2 4.9 6 4.9C6.8 4.9 7.9 4.5 8.6 3.8C9.3 3.1 9.8 1.9 10.2 0.8C10.5 -0.4 10.6 -1.7 10.5 -3C10.5 -4.4 10.2 -6.1 9.8 -7.2C9.4 -8.3 8.9 -8.9 8.3 -9.5C7.6 -10 6.8 -10.5 6 -10.4ZM-3.3 -2.7C-3 -2.5 -2 -2.3 -1.6 -1.5C-1.2 -0.8 -1.1 -0.1 -1 1.9C-0.9 3.9 -1.2 9.2 -1.2 10.6M3.3 -2.7C3 -2.5 2 -2.3 1.6 -1.5C1.2 -0.8 1.1 -0.1 1 1.9C0.9 3.9 1.2 9.2 1.2 10.6" stroke="#7272db" fill="none" stroke-width="1.08" stroke-linecap="round" stroke-linejoin="round"/><path transform="translate(1237.0 692.9) scale(0.930)" d="M-6.8 -10.2C-6.9 -9.4 -7.1 -6.6 -7.1 -5.3C-7 -4 -6.8 -3 -6.5 -2.3C-6.3 -1.5 -5.7 -1 -5.6 -0.8M6.8 -10.2C6.9 -9.4 7.1 -6.6 7.1 -5.3C7 -4 6.8 -3 6.5 -2.3C6.3 -1.5 5.7 -1 5.6 -0.8M-5.6 -0.8C-4.9 -1.5 -3.6 -2.5 -2.7 -2.8C-1.9 -3.2 -0.8 -3.1 0 -3.1C0.8 -3.1 1.9 -3.2 2.8 -2.8C3.6 -2.5 5 -1.5 5.6 -0.8C6.2 -0 6.9 1.1 6.9 1.9C7 2.7 6.5 3.9 6 4.5C5.5 5.2 4.4 5.7 3.7 6.1C3 6.4 1.7 6.6 1.4 7.1C1 7.7 1.4 9.4 1.2 9.8C1 10.3 0.4 10.3 0 10.3C-0.4 10.3 -1 10.3 -1.2 9.8C-1.4 9.4 -1 7.7 -1.4 7.1C-1.7 6.6 -3 6.4 -3.7 6.1C-4.4 5.7 -5.5 5.2 -5.9 4.5C-6.4 3.9 -7 2.7 -6.9 1.9C-6.8 1.1 -6.2 -0 -5.6 -0.8Z" stroke="#7272db" fill="none" stroke-width="1.08" stroke-linecap="round" stroke-linejoin="round"/><path transform="translate(1310.2 692.9) scale(0.930)" d="M-4.7 -10.6C-4.4 -10.3 -2.8 -9.6 -2.5 -8.5C-2.1 -7.4 -2.2 -5.6 -2.5 -4C-2.7 -2.4 -3.5 -0.8 -4 0.9C-4.5 2.7 -5.2 5 -5.3 6.6C-5.4 8.2 -4.5 9.9 -4.4 10.6M-2.3 -7C-1.7 -6.6 0.3 -5.4 1.3 -4.4C2.4 -3.3 3.3 -2.5 4 -0.9C4.7 0.6 5.4 3.2 5.5 4.7C5.6 6.3 5.2 7.4 4.7 8.1C4.2 8.8 3.3 9 2.5 8.9C1.6 8.8 0.2 8.1 -0.6 7.4C-1.4 6.6 -2.1 5.5 -2.3 4.4C-2.5 3.2 -2.1 1.9 -1.7 0.6C-1.4 -0.8 -0.4 -2.9 -0.2 -3.6M-0.9 2.5C-0.8 2.9 -0.4 4.4 0.2 5.1C0.8 5.8 2.4 6.4 2.8 6.6M-2.3 -3.6C-1.9 -3.5 -0.5 -3.3 -0.2 -3.2" stroke="#66cf78" fill="none" stroke-width="1.08" stroke-linecap="round" stroke-linejoin="round"/><path transform="translate(1383.3 692.9) scale(0.930)" d="M1.1 -8.6C0.9 -8.3 0.8 -7.5 0.3 -7.1C-0.2 -6.6 -1.6 -6 -2 -5.8M-0.1 -6.9C-0.4 -7.2 -1.1 -8.3 -2 -8.8C-2.8 -9.2 -4 -9.7 -5 -9.5C-6 -9.4 -7.2 -8.9 -8 -8C-8.9 -7.1 -9.7 -5.8 -10 -4.2C-10.3 -2.7 -10.4 -0.6 -10.1 1.1C-9.8 2.7 -8.9 4.3 -8 5.6C-7.1 6.9 -5.9 8 -4.6 8.6C-3.4 9.3 -1.8 9.5 -0.5 9.6C0.9 9.6 2.6 9.6 3.7 9C4.8 8.5 5.4 7.2 6 6.4C6.6 5.5 7.2 4.1 7.5 4.1C7.8 4.1 8 5.5 8.1 6.4C8.1 7.2 7.9 8.6 7.9 9M3.3 -7.8C3.1 -7.4 2.2 -6.1 1.8 -5C1.4 -3.9 0.9 -2.5 0.9 -1.2C0.9 0.1 1.3 1.8 1.8 2.6C2.3 3.4 3.1 3.6 3.7 3.5C4.3 3.5 5 2.6 5.6 2.2C6.2 1.8 6.9 1.1 7.5 1.1C8.1 1 8.9 1.4 9.4 2C9.9 2.6 10.2 3.4 10.3 4.5C10.5 5.6 10.2 7.9 10.2 8.6" stroke="#66cf78" fill="none" stroke-width="1.08" stroke-linecap="round" stroke-linejoin="round"/></svg>
<div class="t" style="top:622.00px;font-size:10px;color:#111;font-weight:700;right:1388.20px;">0</div>
<div class="t" style="top:582.00px;font-size:10px;color:#111;font-weight:700;right:1388.20px;">5</div>
<div class="t" style="top:543.00px;font-size:10px;color:#111;font-weight:700;letter-spacing:0.312px;right:1387.89px;">10</div>
<div class="t" style="top:504.00px;font-size:10px;color:#111;font-weight:700;letter-spacing:0.312px;right:1387.89px;">15</div>
<div class="t" style="top:464.00px;font-size:10px;color:#111;font-weight:700;letter-spacing:0.312px;right:1387.89px;">20</div>
<div class="t" style="top:425.00px;font-size:10px;color:#111;font-weight:700;letter-spacing:0.312px;right:1387.89px;">25</div>
<div class="t" style="top:385.00px;font-size:10px;color:#111;font-weight:700;letter-spacing:0.312px;right:1387.89px;">30</div>
<div class="t" style="top:346.00px;font-size:10px;color:#111;font-weight:700;letter-spacing:0.312px;right:1387.89px;">35</div>
<div class="t" style="top:448.00px;font-size:10.4px;color:#111;font-weight:700;letter-spacing:0.609px;right:504.09px;">H2</div>
<div class="t" style="top:492.00px;font-size:10.4px;color:#111;font-weight:700;letter-spacing:0.609px;right:504.09px;">H1</div>
<div class="t" style="top:527.00px;font-size:10.4px;color:#111;font-weight:700;letter-spacing:-0.328px;right:505.03px;">L1</div>
<div class="t" style="top:568.00px;font-size:10.4px;color:#111;font-weight:700;letter-spacing:-0.328px;right:505.03px;">L2</div>
<div class="t" style="top:638.00px;font-size:11.8px;color:#000;letter-spacing:-0.047px;left:546.30px;">L: 112 %</div>
<div class="t" style="top:655.00px;font-size:11.8px;color:#000;letter-spacing:-0.367px;right:1310.07px;">R: 84 %</div>
<div class="t" style="top:638.00px;font-size:11.8px;color:#000;letter-spacing:-0.047px;left:621.20px;">L: 119 %</div>
<div class="t" style="top:655.00px;font-size:11.8px;color:#000;letter-spacing:-0.290px;right:1232.59px;">R: 139 %</div>
<div class="t" style="top:638.00px;font-size:11.8px;color:#000;letter-spacing:-0.172px;left:698.60px;">L: 153 %</div>
<div class="t" style="top:655.00px;font-size:11.8px;color:#000;letter-spacing:-0.290px;right:1156.79px;">R: 195 %</div>
<div class="t" style="top:638.00px;font-size:11.8px;color:#000;letter-spacing:-0.229px;left:774.40px;">L: 28 %</div>
<div class="t" style="top:655.00px;font-size:11.8px;color:#000;letter-spacing:-0.290px;right:1080.69px;">R: 146 %</div>
<div class="t" style="top:638.00px;font-size:11.8px;color:#000;letter-spacing:-0.047px;left:850.20px;">L: 112 %</div>
<div class="t" style="top:655.00px;font-size:11.8px;color:#000;letter-spacing:-0.290px;right:1004.89px;">R: 153 %</div>
<div class="t" style="top:638.00px;font-size:11.8px;color:#000;letter-spacing:-0.172px;left:926.30px;">L: 139 %</div>
<div class="t" style="top:655.00px;font-size:11.8px;color:#000;letter-spacing:-0.290px;right:927.89px;">R: 230 %</div>
<div class="t" style="top:638.00px;font-size:11.8px;color:#000;letter-spacing:-0.229px;left:1003.40px;">L: 21 %</div>
<div class="t" style="top:655.00px;font-size:11.8px;color:#000;letter-spacing:-0.367px;right:858.97px;">R: 21 %</div>
<div class="t" style="top:638.00px;font-size:11.8px;color:#000;letter-spacing:-0.172px;left:1072.40px;">L: 132 %</div>
<div class="t" style="top:655.00px;font-size:11.8px;color:#000;letter-spacing:-0.367px;right:784.07px;">R: 42 %</div>
<div class="t" style="top:638.00px;font-size:11.8px;color:#000;letter-spacing:-0.229px;left:1147.30px;">L: 49 %</div>
<div class="t" style="top:655.00px;font-size:11.8px;color:#000;letter-spacing:-0.367px;right:714.97px;">R: 42 %</div>
<div class="t" style="top:638.00px;font-size:11.8px;color:#000;letter-spacing:-0.229px;left:1216.30px;">L: 21 %</div>
<div class="t" style="top:655.00px;font-size:11.8px;color:#000;letter-spacing:-0.367px;right:645.17px;">R: 49 %</div>
<div class="t" style="top:638.00px;font-size:11.8px;color:#000;letter-spacing:-0.229px;left:1286.60px;">L: 70 %</div>
<div class="t" style="top:655.00px;font-size:11.8px;color:#000;letter-spacing:-0.367px;right:576.07px;">R: 70 %</div>
<div class="t" style="top:638.00px;font-size:11.8px;color:#000;letter-spacing:-0.229px;left:1355.60px;">L: 77 %</div>
<div class="t" style="top:655.00px;font-size:11.8px;color:#000;letter-spacing:-0.367px;right:506.67px;">R: 77 %</div>
<svg style="left:0;top:730px" width="1920" height="1220" viewBox="0 730 1920 1220"><path d="M960.4 993.0L960.4 768.0" stroke="#dcdcdc" stroke-width="2" fill="none"/><path d="M960.4 993.0L1072.9 798.1" stroke="#b4b4b4" stroke-width="0.9" fill="none"/><path d="M960.4 993.0L1155.3 880.5" stroke="#b4b4b4" stroke-width="0.9" fill="none"/><path d="M960.4 993.0L1185.4 993.0" stroke="#dcdcdc" stroke-width="2" fill="none"/><path d="M960.4 993.0L1155.3 1105.5" stroke="#b4b4b4" stroke-width="0.9" fill="none"/><path d="M960.4 993.0L1072.9 1187.9" stroke="#b4b4b4" stroke-width="0.9" fill="none"/><path d="M960.4 993.0L960.4 1218.0" stroke="#dcdcdc" stroke-width="2" fill="none"/><path d="M960.4 993.0L847.9 1187.9" stroke="#b4b4b4" stroke-width="0.9" fill="none"/><path d="M960.4 993.0L765.5 1105.5" stroke="#b4b4b4" stroke-width="0.9" fill="none"/><path d="M960.4 993.0L735.4 993.0" stroke="#dcdcdc" stroke-width="2" fill="none"/><path d="M960.4 993.0L765.5 880.5" stroke="#b4b4b4" stroke-width="0.9" fill="none"/><path d="M960.4 993.0L847.9 798.1" stroke="#b4b4b4" stroke-width="0.9" fill="none"/><circle cx="960.4" cy="993.0" r="48.5" fill="none" stroke="#5577ff" stroke-width="2"/><circle cx="960.4" cy="993.0" r="87.4" fill="none" stroke="#55dd77" stroke-width="2"/><circle cx="960.4" cy="993.0" r="128.7" fill="none" stroke="#ff3333" stroke-width="2"/><circle cx="960.4" cy="993.0" r="225" fill="none" stroke="#ff3333" stroke-width="2"/><path d="M960.4 853.6L973.7 970.0L980.6 981.3L1003.9 993.0L1054.4 1047.2L1010.0 1078.8L960.4 1059.9L900.0 1097.6L871.8 1044.1L836.7 993.0L898.6 957.3L948.3 972.0Z" fill="rgba(0,255,225,.5)" stroke="#00ffe1" stroke-width="2" stroke-linejoin="round"/><circle cx="960.4" cy="853.6" r="2.2" fill="#00ffe1"/><circle cx="973.7" cy="970.0" r="2.2" fill="#00ffe1"/><circle cx="980.6" cy="981.3" r="2.2" fill="#00ffe1"/><circle cx="1003.9" cy="993.0" r="2.2" fill="#00ffe1"/><circle cx="1054.4" cy="1047.2" r="2.2" fill="#00ffe1"/><circle cx="1010.0" cy="1078.8" r="2.2" fill="#00ffe1"/><circle cx="960.4" cy="1059.9" r="2.2" fill="#00ffe1"/><circle cx="900.0" cy="1097.6" r="2.2" fill="#00ffe1"/><circle cx="871.8" cy="1044.1" r="2.2" fill="#00ffe1"/><circle cx="836.7" cy="993.0" r="2.2" fill="#00ffe1"/><circle cx="898.6" cy="957.3" r="2.2" fill="#00ffe1"/><circle cx="948.3" cy="972.0" r="2.2" fill="#00ffe1"/><path d="M960.4 835.1L1000.3 923.9L990.0 975.9L1001.7 993.0L1060.4 1050.7L1018.6 1093.8L960.4 1058.2L920.4 1062.2L882.9 1037.8L798.0 993.0L900.1 958.2L948.9 973.1Z" fill="none" stroke="#2323f0" stroke-width="2" stroke-linejoin="round"/><path d="M960.4 816.6L1026.9 877.8L999.4 970.5L999.4 993.0L1066.4 1054.2L1027.3 1108.9L960.4 1056.5L940.9 1026.8L893.9 1031.4L759.3 993.0L901.7 959.1L949.5 974.1Z" fill="rgba(255,150,207,.5)" stroke="#ff96cf" stroke-width="2" stroke-linejoin="round"/><circle cx="960.4" cy="816.6" r="2.2" fill="#ff96cf"/><circle cx="1026.9" cy="877.8" r="2.2" fill="#ff96cf"/><circle cx="999.4" cy="970.5" r="2.2" fill="#ff96cf"/><circle cx="999.4" cy="993.0" r="2.2" fill="#ff96cf"/><circle cx="1066.4" cy="1054.2" r="2.2" fill="#ff96cf"/><circle cx="1027.3" cy="1108.9" r="2.2" fill="#ff96cf"/><circle cx="960.4" cy="1056.5" r="2.2" fill="#ff96cf"/><circle cx="940.9" cy="1026.8" r="2.2" fill="#ff96cf"/><circle cx="893.9" cy="1031.4" r="2.2" fill="#ff96cf"/><circle cx="759.3" cy="993.0" r="2.2" fill="#ff96cf"/><circle cx="901.7" cy="959.1" r="2.2" fill="#ff96cf"/><circle cx="949.5" cy="974.1" r="2.2" fill="#ff96cf"/><path transform="translate(960.0 747.9) scale(1.000)" d="M-5.8 -4.7C-6.8 -4.1 -7.3 -2.8 -7.6 -1.7C-7.9 -0.5 -7.9 1.1 -7.6 2.4C-7.3 3.6 -6.8 4.8 -5.8 5.9C-4.8 7 -3.2 8.1 -1.8 8.9C-0.3 9.8 1.6 10.7 2.8 11C4 11.2 4.5 10.9 5.3 10.2C6.1 9.5 6.9 8.2 7.3 6.9C7.7 5.6 7.7 3.9 7.6 2.4C7.4 0.9 6.9 -1 6.3 -2.2C5.8 -3.3 5.1 -4.3 4.3 -4.6C3.5 -4.9 2.3 -4 1.3 -4.1C0.3 -4.2 -0.6 -5.1 -1.8 -5.2C-2.9 -5.3 -4.8 -5.3 -5.8 -4.7ZM-6.1 -4.4C-5.9 -5.4 -5.3 -9.2 -4.8 -10.3C-4.3 -11.3 -3.4 -10.9 -2.8 -10.8C-2.2 -10.6 -1.5 -9.9 -1.2 -9.1C-0.9 -8.4 -1 -6.9 -1 -6.5M-3.8 -9.7C-3.6 -9.3 -2.9 -7.4 -2.8 -7M0.3 -7C0.8 -7.1 2.9 -7.9 3.8 -7.7C4.7 -7.6 5.6 -6.7 5.8 -6.2C6 -5.7 5 -4.9 4.8 -4.6M2.3 -4.1C1.8 -3.6 -0.5 -2.1 -0.8 -1.2C-1 -0.3 0.2 0.6 0.8 1.4C1.3 2.1 2.5 2.4 2.8 3.4C3 4.4 2.4 6.8 2.3 7.4M-0.5 -0.4L-1.7 0.5M0.9 2.4L-1 4.4M2.8 2.9L4.8 4" stroke="#000" fill="none" stroke-width="1.15" stroke-linecap="round" stroke-linejoin="round"/><path transform="translate(1085.4 780.8) scale(1.000)" d="M-2 -10.7C-2 -10.2 -1.8 -7.4 -2 -6.7C-2.1 -6 -2.5 -5.7 -3.1 -5.6C-3.8 -5.4 -5.8 -5.6 -6.7 -5.4C-7.5 -5.2 -9 -4.4 -9.4 -3.9C-9.9 -3.4 -10 -2.1 -9.9 -1.4C-9.9 -0.7 -9.4 0.9 -9.2 1.4C-9 1.9 -8.3 2.3 -8.2 2.4M1.9 -10.7C1.9 -9.9 2.1 -5.8 1.9 -4.6C1.8 -3.5 1.2 -2.8 0.9 -2.4C0.6 -1.9 0.4 -1.5 -0.6 -1.4C-1.6 -1.2 -5.6 -1.3 -6.4 -1.3M-0.6 -1.4C0.4 -1.4 5.6 -1.5 7 -1.4C8.3 -1.2 9 -0.6 9.5 -0.1C10 0.4 10.4 1.7 10.4 2.4C10.4 3.1 9.9 4.7 9.5 5.2C9.1 5.7 9.6 6.3 7.5 6.5C5.4 6.6 -4.6 6.6 -6.4 6.6M-8.2 2.5L7 2.5M-8.2 2.5C-8.4 2.7 -9.4 3.4 -9.7 3.9C-10 4.5 -10.2 5.8 -10.2 6.5C-10.2 7.1 -9.8 8.5 -9.4 9C-9.1 9.5 -9.6 10.1 -7.4 10.3C-5.2 10.4 4.8 10.5 7 10.4C9.1 10.3 8.2 9.8 8.5 9.5C8.8 9.1 9 8.1 9 7.7C9 7.3 8.3 6.6 8.2 6.5" stroke="#000" fill="none" stroke-width="1.15" stroke-linecap="round" stroke-linejoin="round"/><path transform="translate(1177.4 870.5) scale(1.000)" d="M-6.8 -10.2C-6.9 -9.4 -7.1 -6.6 -7.1 -5.3C-7 -4 -6.8 -3 -6.5 -2.3C-6.3 -1.5 -5.7 -1 -5.6 -0.8M6.8 -10.2C6.9 -9.4 7.1 -6.6 7.1 -5.3C7 -4 6.8 -3 6.5 -2.3C6.3 -1.5 5.7 -1 5.6 -0.8M-5.6 -0.8C-4.9 -1.5 -3.6 -2.5 -2.7 -2.8C-1.9 -3.2 -0.8 -3.1 0 -3.1C0.8 -3.1 1.9 -3.2 2.8 -2.8C3.6 -2.5 5 -1.5 5.6 -0.8C6.2 -0 6.9 1.1 6.9 1.9C7 2.7 6.5 3.9 6 4.5C5.5 5.2 4.4 5.7 3.7 6.1C3 6.4 1.7 6.6 1.4 7.1C1 7.7 1.4 9.4 1.2 9.8C1 10.3 0.4 10.3 0 10.3C-0.4 10.3 -1 10.3 -1.2 9.8C-1.4 9.4 -1 7.7 -1.4 7.1C-1.7 6.6 -3 6.4 -3.7 6.1C-4.4 5.7 -5.5 5.2 -5.9 4.5C-6.4 3.9 -7 2.7 -6.9 1.9C-6.8 1.1 -6.2 -0 -5.6 -0.8Z" stroke="#000" fill="none" stroke-width="1.15" stroke-linecap="round" stroke-linejoin="round"/><path transform="translate(1211.3 992.8) scale(1.000)" d="M-6 -10.4C-5.2 -10.4 -3.9 -9.8 -3.3 -9.1C-2.8 -8.4 -2.6 -7.3 -2.8 -6.4C-2.9 -5.6 -4 -4.8 -4.1 -4.2C-4.2 -3.5 -3.3 -3.2 -3.3 -2.7C-3.3 -2.1 -4.2 -1.5 -4.1 -0.8C-4 -0.1 -3 0.8 -3 1.5C-2.9 2.3 -3.2 3.2 -3.7 3.8C-4.2 4.4 -5.2 4.9 -6 4.9C-6.8 4.9 -7.9 4.5 -8.6 3.8C-9.3 3.1 -9.8 1.9 -10.2 0.8C-10.5 -0.4 -10.6 -1.7 -10.5 -3C-10.5 -4.4 -10.2 -6.1 -9.8 -7.2C-9.4 -8.3 -8.9 -8.9 -8.3 -9.5C-7.6 -10 -6.8 -10.5 -6 -10.4ZM6 -10.4C5.2 -10.4 3.9 -9.8 3.3 -9.1C2.8 -8.4 2.6 -7.3 2.8 -6.4C2.9 -5.6 4 -4.8 4.1 -4.2C4.2 -3.5 3.3 -3.2 3.3 -2.7C3.3 -2.1 4.2 -1.5 4.1 -0.8C4 -0.1 3 0.8 3 1.5C2.9 2.3 3.2 3.2 3.7 3.8C4.2 4.4 5.2 4.9 6 4.9C6.8 4.9 7.9 4.5 8.6 3.8C9.3 3.1 9.8 1.9 10.2 0.8C10.5 -0.4 10.6 -1.7 10.5 -3C10.5 -4.4 10.2 -6.1 9.8 -7.2C9.4 -8.3 8.9 -8.9 8.3 -9.5C7.6 -10 6.8 -10.5 6 -10.4ZM-3.3 -2.7C-3 -2.5 -2 -2.3 -1.6 -1.5C-1.2 -0.8 -1.1 -0.1 -1 1.9C-0.9 3.9 -1.2 9.2 -1.2 10.6M3.3 -2.7C3 -2.5 2 -2.3 1.6 -1.5C1.2 -0.8 1.1 -0.1 1 1.9C0.9 3.9 1.2 9.2 1.2 10.6" stroke="#000" fill="none" stroke-width="1.15" stroke-linecap="round" stroke-linejoin="round"/><path transform="translate(1177.4 1115.3) scale(1.000)" d="M-9.9 -1.7C-10 -2.1 -10.4 -3.3 -10.1 -4.4C-9.9 -5.4 -9.3 -7.2 -8.4 -8.1C-7.5 -9.1 -5.8 -9.9 -4.6 -10C-3.4 -10.2 -2 -9.3 -1.2 -8.9C-0.4 -8.5 -0.3 -7.6 0.1 -7.6C0.6 -7.6 0.7 -8.5 1.4 -8.9C2.2 -9.3 3.6 -10.2 4.8 -10C6 -9.9 7.7 -9.1 8.6 -8.1C9.6 -7.2 10.2 -5.6 10.3 -4.4C10.5 -3.1 9.9 -1.2 9.8 -0.6L0.1 9.7L-7.8 1.9M-10.3 0.2L-6.1 0.2L-3.9 -5.7L-1.8 4.2L0.7 -3.4L2.2 0.2L6.4 0.2" stroke="#000" fill="none" stroke-width="1.15" stroke-linecap="round" stroke-linejoin="round"/><path transform="translate(1085.6 1205.1) scale(1.000)" d="M0 -10.6C0.4 -10.6 1.1 -9.4 1.6 -9.1C2.1 -8.7 3 -8.2 3.9 -8C4.8 -7.7 7.5 -7.9 8.1 -7.2C8.6 -6.5 8.5 -4.1 8.3 -2.7C8.1 -1.2 7.2 2 6.6 3.4C5.9 4.8 4.4 7 3.5 8C2.6 8.9 0.9 10.4 0 10.4C-0.9 10.4 -2.6 8.9 -3.5 8C-4.4 7 -5.9 4.8 -6.5 3.4C-7.1 2 -8 -1.2 -8.2 -2.7C-8.4 -4.1 -8.6 -6.5 -8 -7.2C-7.4 -7.9 -4.7 -7.7 -3.9 -8C-3 -8.2 -2.1 -8.7 -1.6 -9.1C-1.1 -9.4 -0.4 -10.6 0 -10.6ZM0 -7.4C0.4 -7.4 0.9 -6.4 1.6 -6.1C2.4 -5.7 5.1 -5.2 5.6 -4.5C6.1 -3.9 5.5 -2.1 5.2 -1.1C4.9 -0.1 4.2 1.9 3.5 3C2.8 4.2 0.9 7.4 0 7.4C-0.9 7.4 -2.8 4.2 -3.5 3C-4.2 1.9 -4.9 -0.1 -5.2 -1.1C-5.5 -2.1 -6 -3.9 -5.6 -4.5C-5.1 -5.2 -2.3 -5.7 -1.6 -6.1C-0.8 -6.4 -0.4 -7.4 0 -7.4Z" stroke="#000" fill="none" stroke-width="1.15" stroke-linecap="round" stroke-linejoin="round"/><path transform="translate(959.9 1237.9) scale(1.000)" d="M-4.7 -10.6C-4.4 -10.3 -2.8 -9.6 -2.5 -8.5C-2.1 -7.4 -2.2 -5.6 -2.5 -4C-2.7 -2.4 -3.5 -0.8 -4 0.9C-4.5 2.7 -5.2 5 -5.3 6.6C-5.4 8.2 -4.5 9.9 -4.4 10.6M-2.3 -7C-1.7 -6.6 0.3 -5.4 1.3 -4.4C2.4 -3.3 3.3 -2.5 4 -0.9C4.7 0.6 5.4 3.2 5.5 4.7C5.6 6.3 5.2 7.4 4.7 8.1C4.2 8.8 3.3 9 2.5 8.9C1.6 8.8 0.2 8.1 -0.6 7.4C-1.4 6.6 -2.1 5.5 -2.3 4.4C-2.5 3.2 -2.1 1.9 -1.7 0.6C-1.4 -0.8 -0.4 -2.9 -0.2 -3.6M-0.9 2.5C-0.8 2.9 -0.4 4.4 0.2 5.1C0.8 5.8 2.4 6.4 2.8 6.6M-2.3 -3.6C-1.9 -3.5 -0.5 -3.3 -0.2 -3.2" stroke="#000" fill="none" stroke-width="1.15" stroke-linecap="round" stroke-linejoin="round"/><path transform="translate(834.3 1205.1) scale(1.000)" d="M-9.8 -6.4C-9.5 -6.8 -9.1 -7.5 -8 -7.7C-6.8 -7.9 -3.7 -7.7 -1.9 -7.8C-0.1 -7.8 2.6 -7.9 4.2 -7.8C5.8 -7.6 7.8 -7.1 8.7 -6.6C9.6 -6.1 10 -5.9 10.2 -4.5C10.4 -3.2 10.1 1 10.1 2.7C10.1 4.3 10.4 5.7 10.2 6.4C10.1 7.2 9.6 7.6 9.1 7.8C8.6 7.9 7.6 7.8 6.8 7.4C6.1 6.9 5 5.3 4.2 4.7C3.3 4.2 1.9 4.2 1.1 3.8C0.3 3.4 -0.2 2.8 -1.1 2.3C-2.1 1.7 -4.3 0.9 -5.3 0C-6.3 -0.9 -6.9 -2.7 -7.6 -3.4C-8.3 -4.1 -9.7 -4.5 -10 -4.9C-10.4 -5.4 -10.2 -6 -9.8 -6.4ZM-2.1 -7.6C-1.9 -6.9 -1.3 -5.1 -1.1 -3.4C-1 -1.8 -1.1 1.3 -1.1 2.3M3.4 -7.6C2.9 -7 1 -5.8 0.4 -4.2C-0.3 -2.5 -0.4 1.2 -0.6 2.3M3.4 6.1C3.4 5.7 4.3 5.1 4.7 5.1C5.2 5.1 6.1 5.8 6.1 6.2C6.1 6.7 5.2 7.6 4.7 7.6C4.3 7.5 3.4 6.5 3.4 6.1Z" stroke="#000" fill="none" stroke-width="1.15" stroke-linecap="round" stroke-linejoin="round"/><path transform="translate(742.4 1115.5) scale(1.000)" d="M-4.2 -6.1C-3.6 -6.2 -2.9 -6.1 -2.7 -5.5C-2.5 -4.9 -3 -3.4 -2.9 -2.7C-2.8 -1.9 -2.1 -1.9 -2 -0.8C-1.8 0.4 -1.8 2.9 -1.9 4.2C-2 5.4 -2.3 6.2 -2.7 6.8C-3.1 7.4 -3.5 7.8 -4.2 8C-4.9 8.1 -6.3 7.8 -6.9 8C-7.5 8.1 -7.6 8.9 -8 9.1C-8.5 9.3 -9.2 9.3 -9.5 9.1C-9.9 8.8 -10.2 9.1 -10.3 7.6C-10.4 6.1 -10.6 1.8 -10.3 0C-10.1 -1.8 -9.4 -2.2 -8.8 -3C-8.2 -3.9 -7.3 -4.4 -6.5 -4.9C-5.8 -5.4 -4.9 -6 -4.2 -6.1ZM4.2 -6.1C3.6 -6.2 2.9 -6.1 2.7 -5.5C2.5 -4.9 3 -3.4 2.9 -2.7C2.8 -1.9 2.1 -1.9 2 -0.8C1.8 0.4 1.8 2.9 1.9 4.2C2 5.4 2.3 6.2 2.7 6.8C3.1 7.4 3.5 7.8 4.2 8C4.9 8.1 6.3 7.8 6.9 8C7.5 8.1 7.6 8.9 8 9.1C8.5 9.3 9.2 9.3 9.5 9.1C9.9 8.8 10.2 9.1 10.3 7.6C10.4 6.1 10.6 1.8 10.3 0C10.1 -1.8 9.4 -2.2 8.8 -3C8.2 -3.9 7.3 -4.4 6.5 -4.9C5.8 -5.4 4.9 -6 4.2 -6.1ZM0 -9.3L0 -4.5M-1.8 -2.7C-1.6 -2.8 -0.9 -3.1 -0.6 -3.4C-0.3 -3.7 -0.2 -4.5 0 -4.5C0.2 -4.5 0.4 -3.7 0.7 -3.4C1 -3.1 1.6 -2.8 1.8 -2.7" stroke="#000" fill="none" stroke-width="1.15" stroke-linecap="round" stroke-linejoin="round"/><path transform="translate(708.8 992.9) scale(1.000)" d="M-8.1 -9.2C-8 -9.4 -8.3 -9.7 -8.2 -9.9C-8.2 -10.1 -8 -10.4 -7.8 -10.5C-7.6 -10.5 -7.3 -10.5 -7.1 -10.5C-6.9 -10.4 -6.7 -10.1 -6.5 -10.1C-6.3 -10.1 -6.1 -10.5 -5.9 -10.6C-5.7 -10.7 -5.5 -10.7 -5.3 -10.7C-5.1 -10.7 -4.9 -10.6 -4.7 -10.4C-4.5 -10.3 -4.4 -9.9 -4.2 -9.9C-4 -9.9 -3.7 -10.2 -3.5 -10.3C-3.3 -10.3 -3.1 -10.4 -2.9 -10.4C-2.7 -10.3 -2.6 -10.2 -2.4 -10.1C-2.2 -10 -2 -9.6 -1.8 -9.6C-1.6 -9.6 -1.4 -10 -1.2 -10.1C-1 -10.2 -0.8 -10.3 -0.6 -10.3C-0.4 -10.4 -0.2 -10.3 -0 -10.2C0.2 -10.2 0.4 -9.8 0.6 -9.9C0.8 -9.9 1 -10.3 1.2 -10.4C1.3 -10.6 1.5 -10.7 1.7 -10.7C1.9 -10.7 2.1 -10.7 2.3 -10.6C2.5 -10.5 2.8 -10.2 3 -10.2C3.2 -10.2 3.3 -10.6 3.5 -10.7C3.7 -10.8 4 -10.8 4.2 -10.8C4.4 -10.8 4.6 -10.7 4.7 -10.6C4.9 -10.4 5 -10 5.2 -10C5.4 -10 5.7 -10.2 5.9 -10.3C6.1 -10.3 6.4 -10.3 6.6 -10.2C6.8 -10.1 6.9 -9.9 7 -9.7C7.1 -9.5 7 -9.2 7.1 -9C7.2 -8.8 7.6 -8.8 7.7 -8.7C7.9 -8.6 8 -8.3 8.1 -8.1C8.1 -8 8.1 -7.7 8 -7.5C7.9 -7.3 7.6 -7 7.7 -6.8C7.7 -6.7 8.1 -6.6 8.3 -6.4C8.5 -6.3 8.6 -6.2 8.7 -6C8.8 -5.8 8.9 -5.6 8.8 -5.3C8.8 -5.1 8.5 -4.9 8.5 -4.7C8.5 -4.5 8.8 -4.3 8.9 -4.1C8.9 -3.9 8.9 -3.6 8.8 -3.4C8.7 -3.3 8.5 -3.1 8.3 -3C8.1 -2.9 7.7 -2.9 7.6 -2.8C7.5 -2.6 7.7 -2.2 7.6 -2C7.5 -1.8 7.4 -1.6 7.3 -1.4C7.1 -1.3 6.7 -1.3 6.5 -1.4C6.3 -1.5 6.3 -1.9 6.1 -2C5.9 -2.1 5.6 -1.8 5.4 -1.9C5.1 -1.9 4.9 -2 4.8 -2.2C4.6 -2.3 4.5 -2.6 4.5 -2.8C4.6 -3 4.9 -3.2 4.9 -3.4C4.9 -3.6 4.7 -3.9 4.6 -4.1C4.5 -4.3 4.5 -4.5 4.5 -4.7C4.6 -4.9 4.7 -5 4.7 -5.2C4.8 -5.4 5 -5.7 5 -5.9C4.9 -6.1 4.5 -6.1 4.3 -6.2C4.1 -6.3 3.9 -6.3 3.8 -6.4C3.6 -6.5 3.5 -6.7 3.4 -6.9C3.2 -7 3 -7.4 2.8 -7.4C2.7 -7.4 2.5 -7 2.3 -6.9C2.1 -6.8 1.9 -6.7 1.7 -6.6C1.5 -6.6 1.3 -6.6 1.1 -6.7C0.9 -6.8 0.6 -7.1 0.4 -7.1C0.2 -7 0.1 -6.7 -0.1 -6.6C-0.3 -6.5 -0.5 -6.4 -0.7 -6.4C-0.9 -6.4 -1.1 -6.5 -1.3 -6.6C-1.5 -6.7 -1.7 -7 -1.9 -7C-2.1 -7 -2.3 -6.7 -2.5 -6.6C-2.7 -6.5 -2.9 -6.4 -3.1 -6.5C-3.3 -6.5 -3.5 -6.5 -3.7 -6.7C-3.9 -6.8 -4 -7.1 -4.2 -7.2C-4.4 -7.3 -4.7 -7 -4.9 -7C-5 -7 -5 -7.1 -5 -7C-5 -6.9 -5 -6.8 -5.1 -6.6C-5.1 -6.4 -5.4 -6 -5.3 -5.8C-5.2 -5.7 -4.8 -5.6 -4.7 -5.5C-4.5 -5.3 -4.4 -5.1 -4.3 -4.9C-4.2 -4.7 -4.3 -4.5 -4.3 -4.3C-4.4 -4.1 -4.7 -3.9 -4.8 -3.7C-4.8 -3.5 -4.5 -3.3 -4.4 -3.1C-4.4 -2.8 -4.4 -2.6 -4.4 -2.4C-4.5 -2.2 -4.6 -2.1 -4.8 -1.9C-4.9 -1.8 -5.3 -1.6 -5.4 -1.4C-5.4 -1.2 -5 -1 -4.9 -0.8C-4.8 -0.6 -4.7 -0.4 -4.7 -0.2C-4.6 -0.1 -4.7 0.1 -4.7 0.4C-4.8 0.6 -5 0.9 -4.9 1.1C-4.9 1.2 -4.4 1.3 -4.2 1.3C-4 1.4 -4 1.3 -3.8 1.3C-3.6 1.3 -3.4 1.4 -3.2 1.4C-3 1.5 -2.7 1.7 -2.5 1.7C-2.3 1.6 -2.2 1.2 -2.1 1.1C-2 0.9 -1.9 0.7 -1.7 0.6C-1.6 0.5 -1.3 0.4 -1.1 0.4C-0.9 0.5 -0.9 0.8 -0.7 0.9C-0.5 1 -0.2 0.9 0 1C0.2 1 0.5 1.2 0.6 1.3C0.7 1.5 0.8 1.7 0.7 2C0.7 2.2 0.5 2.4 0.5 2.6C0.6 2.9 0.8 3 0.8 3.2C0.8 3.4 0.7 3.6 0.6 3.8C0.4 3.9 0.3 4 0.1 4.1C-0 4.3 -0.4 4.4 -0.4 4.6C-0.5 4.8 -0.1 5 -0 5.2C0.1 5.4 0.2 5.6 0.2 5.8C0.2 6 0.1 6.2 -0 6.4C-0.1 6.6 -0.5 6.8 -0.5 7C-0.5 7.2 -0.1 7.4 -0 7.6C0.1 7.8 0.1 8 0.1 8.2C0.1 8.5 -0.1 8.7 -0.2 8.8C-0.4 9 -0.8 9 -0.8 9.2C-0.9 9.4 -0.7 9.7 -0.7 9.9C-0.7 10.2 -0.8 10.4 -1 10.6C-1.1 10.7 -1.6 10.8 -1.7 10.7C-1.9 10.6 -1.7 10.2 -1.8 10C-1.9 9.8 -2.3 9.8 -2.4 9.7C-2.6 9.5 -2.7 9.3 -2.8 9.1C-2.9 8.9 -2.8 8.7 -2.8 8.5C-2.7 8.3 -2.4 8 -2.4 7.8C-2.4 7.6 -2.8 7.5 -2.9 7.3C-3 7.1 -3.1 6.9 -3.1 6.7C-3.1 6.5 -3.1 6.3 -3 6.1C-2.9 5.9 -2.6 5.6 -2.7 5.4C-2.7 5.3 -3.1 5.1 -3.3 5C-3.5 4.9 -3.6 4.9 -3.7 4.8C-3.9 4.8 -4 4.7 -4.1 4.6C-4.3 4.5 -4.6 4.3 -4.8 4.3C-5 4.3 -5.1 4.7 -5.3 4.9C-5.5 5 -5.7 5.1 -5.9 5.1C-6.1 5.1 -6.4 4.9 -6.5 4.7C-6.7 4.5 -6.5 4.1 -6.7 4C-6.8 3.8 -7.2 3.9 -7.4 3.8C-7.6 3.7 -7.7 3.5 -7.8 3.3C-7.9 3.1 -7.9 2.9 -7.9 2.6C-7.8 2.4 -7.5 2.2 -7.6 2C-7.6 1.8 -8 1.7 -8.1 1.5C-8.3 1.3 -8.4 1.1 -8.4 0.9C-8.4 0.7 -8.4 0.5 -8.3 0.3C-8.2 0.1 -7.9 -0.1 -7.9 -0.3C-7.9 -0.5 -8.3 -0.7 -8.4 -0.9C-8.4 -1.1 -8.5 -1.4 -8.4 -1.6C-8.3 -1.8 -8.1 -2 -7.9 -2.1C-7.7 -2.2 -7.3 -2.2 -7.2 -2.4C-7.1 -2.5 -7.3 -2.9 -7.4 -3.1C-7.5 -3.3 -7.6 -3.4 -7.7 -3.5C-7.7 -3.7 -7.8 -3.9 -7.8 -4.1C-7.8 -4.3 -7.7 -4.6 -7.8 -4.8C-7.9 -5 -8.3 -5 -8.4 -5.1C-8.6 -5.3 -8.7 -5.5 -8.8 -5.7C-8.8 -5.9 -8.7 -6.1 -8.7 -6.3C-8.6 -6.5 -8.2 -6.7 -8.3 -6.9C-8.3 -7.1 -8.6 -7.3 -8.7 -7.5C-8.8 -7.7 -8.9 -7.9 -8.9 -8.1C-8.9 -8.3 -8.8 -8.5 -8.7 -8.7C-8.5 -8.9 -8.2 -9 -8.1 -9.2Z" stroke="#000" fill="none" stroke-width="1.15" stroke-linecap="round" stroke-linejoin="round"/><path transform="translate(742.4 870.2) scale(1.000)" d="M1.1 -8.6C0.9 -8.3 0.8 -7.5 0.3 -7.1C-0.2 -6.6 -1.6 -6 -2 -5.8M-0.1 -6.9C-0.4 -7.2 -1.1 -8.3 -2 -8.8C-2.8 -9.2 -4 -9.7 -5 -9.5C-6 -9.4 -7.2 -8.9 -8 -8C-8.9 -7.1 -9.7 -5.8 -10 -4.2C-10.3 -2.7 -10.4 -0.6 -10.1 1.1C-9.8 2.7 -8.9 4.3 -8 5.6C-7.1 6.9 -5.9 8 -4.6 8.6C-3.4 9.3 -1.8 9.5 -0.5 9.6C0.9 9.6 2.6 9.6 3.7 9C4.8 8.5 5.4 7.2 6 6.4C6.6 5.5 7.2 4.1 7.5 4.1C7.8 4.1 8 5.5 8.1 6.4C8.1 7.2 7.9 8.6 7.9 9M3.3 -7.8C3.1 -7.4 2.2 -6.1 1.8 -5C1.4 -3.9 0.9 -2.5 0.9 -1.2C0.9 0.1 1.3 1.8 1.8 2.6C2.3 3.4 3.1 3.6 3.7 3.5C4.3 3.5 5 2.6 5.6 2.2C6.2 1.8 6.9 1.1 7.5 1.1C8.1 1 8.9 1.4 9.4 2C9.9 2.6 10.2 3.4 10.3 4.5C10.5 5.6 10.2 7.9 10.2 8.6" stroke="#000" fill="none" stroke-width="1.15" stroke-linecap="round" stroke-linejoin="round"/><path transform="translate(834.1 780.9) scale(1.000)" d="M-9.7 -10.4C-9.2 -10.4 -8.5 -10.3 -7.6 -9.9C-6.6 -9.4 -5 -8.4 -4 -7.9C-3 -7.4 -2.4 -7.4 -1.5 -7C-0.6 -6.5 0.5 -5.6 1.5 -5.2C2.5 -4.7 3.6 -4.6 4.6 -4.2C5.5 -3.8 6.5 -3.4 7.3 -2.8C8.1 -2.3 8.8 -1.6 9.2 -0.9C9.7 -0.1 10 0.8 10.2 1.6C10.4 2.4 10.7 3.3 10.6 4.1C10.6 4.9 10.2 5.8 9.8 6.6C9.4 7.4 9 8.2 8.4 8.8C7.8 9.4 6.9 9.8 6.2 10C5.5 10.3 4.7 10.4 4 10.3C3.3 10.2 2.4 10 1.8 9.6C1.1 9.2 0.5 8.5 0.1 7.9C-0.2 7.4 -0.4 6.8 -0.4 6.3C-0.4 5.7 -0 5 0.3 4.6C0.6 4.2 1.6 4.3 1.5 3.9C1.4 3.6 0.2 2.9 -0.4 2.4C-1 2 -1.5 1.8 -2.1 1.3C-2.6 0.9 -3.1 0.3 -3.7 -0.3C-4.3 -1 -4.9 -1.8 -5.7 -2.5C-6.4 -3.2 -7.7 -3.9 -8.4 -4.5C-9.2 -5.1 -9.7 -5.5 -10.1 -6.1C-10.4 -6.8 -10.6 -7.7 -10.6 -8.3C-10.7 -9 -10.5 -9.5 -10.3 -9.9C-10.2 -10.2 -10.1 -10.4 -9.7 -10.4ZM-7.3 -6.8C-7 -6.5 -6.1 -5.5 -5.4 -5C-4.6 -4.5 -3.7 -4.2 -2.9 -3.8C-2.1 -3.4 -1.3 -2.9 -0.4 -2.5C0.5 -2.2 1.6 -2.1 2.3 -1.7C3.1 -1.3 3.4 -0.5 4 -0.1C4.6 0.4 5.3 0.5 5.7 1C6 1.6 6.1 2.6 6.2 3.5C6.3 4.5 6.3 6.1 6.3 6.6M-3.6 -5.7L-2.9 -3.9M-3.2 -1.7L-2.3 -3.1M1.8 -3L2.6 -1.3M0.1 0.2L2.3 -0.9M6.2 -1L5.8 1M3.4 3L5.7 1.9M7.6 2.4L6.3 4.4M2.9 5.3L5.9 4.4" stroke="#000" fill="none" stroke-width="1.15" stroke-linecap="round" stroke-linejoin="round"/><circle cx="509" cy="1287" r="9" fill="#00ffe1"/><circle cx="509" cy="1315" r="8.5" fill="#fff" stroke="#5555ee" stroke-width="1"/><circle cx="509" cy="1343" r="9" fill="#ff96cf"/><circle cx="1411" cy="1287" r="8.5" fill="#fff" stroke="#ff3b3b" stroke-width="1"/><circle cx="593" cy="1861" r="8.5" fill="#fff" stroke="#ff3b3b" stroke-width="1"/><circle cx="1411" cy="1315" r="8.5" fill="#fff" stroke="#55d97a" stroke-width="1"/><circle cx="593" cy="1889" r="8.5" fill="#fff" stroke="#55d97a" stroke-width="1"/><circle cx="1411" cy="1343" r="8.5" fill="#fff" stroke="#5577ff" stroke-width="1"/><circle cx="593" cy="1917" r="8.5" fill="#fff" stroke="#5577ff" stroke-width="1"/></svg>
<div class="t" style="top:1282.00px;font-size:12.8px;color:#111;letter-spacing:0.252px;left:523.40px;">Left side</div>
<div class="t" style="top:1310.00px;font-size:12.8px;color:#111;letter-spacing:0.138px;left:523.40px;">Average value</div>
<div class="t" style="top:1338.00px;font-size:12.8px;color:#111;letter-spacing:0.139px;left:523.40px;">Right side</div>
<div class="t" style="top:1282.00px;font-size:12.8px;color:#111;letter-spacing:0.412px;right:522.79px;">Above normal</div>
<div class="t" style="top:1856.00px;font-size:12.8px;color:#111;letter-spacing:0.412px;right:1340.79px;">Above normal</div>
<div class="t" style="top:1310.00px;font-size:12.8px;color:#111;letter-spacing:0.703px;right:522.50px;">Normal</div>
<div class="t" style="top:1884.00px;font-size:12.8px;color:#111;letter-spacing:0.703px;right:1340.50px;">Normal</div>
<div class="t" style="top:1338.00px;font-size:12.8px;color:#111;letter-spacing:0.460px;right:522.74px;">Below normal</div>
<div class="t" style="top:1912.00px;font-size:12.8px;color:#111;letter-spacing:0.460px;right:1340.74px;">Below normal</div>
<svg style="left:0;top:1340px" width="1920" height="520" viewBox="0 1340 1920 520"><path d="M960 1363C961.7 1363.2 966.8 1363.4 970 1364.2C973.2 1365 976.8 1366.3 979.4 1368.1C982 1369.9 984 1372.5 985.5 1375C987 1377.5 987.8 1380.5 988.5 1383.3C989.2 1386.1 989.7 1389.1 990 1392C990.3 1394.9 990.4 1399.1 990.5 1400.5M990.5 1400.5C991.2 1400.6 993.6 1400.6 994.5 1401.3C995.4 1402 995.9 1403 996 1404.5C996.1 1406 995.5 1408.2 995.3 1410C995 1411.8 994.8 1413.8 994.5 1415.6C994.2 1417.4 993.9 1419.3 993.5 1421C993.1 1422.7 993 1424.5 992.3 1425.5C991.6 1426.5 990 1426.5 989.5 1426.7M989.5 1426.7C989.3 1427.7 988.8 1430.7 988.3 1432.5C987.8 1434.3 987.2 1436.1 986.5 1437.8C985.8 1439.5 985.1 1441 984.2 1442.5C983.4 1444 982.5 1445.4 981.4 1446.9C980.3 1448.4 978.4 1450.8 977.8 1451.6M977.8 1451.6C977.8 1453.2 977.9 1457.7 977.9 1461C977.9 1464.3 977.5 1468.5 977.8 1471.2C978 1473.9 978.4 1475.5 979.4 1477.2C980.4 1478.9 981.8 1480 983.5 1481.2C985.2 1482.4 986.8 1483.2 989.5 1484.3C992.2 1485.4 996.3 1486.6 1000 1487.8C1003.7 1489 1008.1 1490.2 1011.7 1491.4C1015.3 1492.6 1018.5 1493.7 1021.5 1495C1024.5 1496.3 1027.7 1498 1029.9 1499.4C1032.2 1500.8 1033.5 1502 1035 1503.5C1036.5 1505 1037.8 1506.6 1039 1508.5C1040.2 1510.4 1041.2 1512.6 1042 1515C1042.8 1517.4 1043.5 1520.4 1044 1522.7C1044.5 1525 1045 1527 1045.3 1529C1045.6 1531 1045.6 1526.6 1046.1 1534.8C1046.6 1543 1047.9 1568.4 1048.5 1578.2C1049.1 1587.9 1049.2 1588.3 1049.5 1593.3C1049.8 1598.4 1050 1603.6 1050.5 1608.5C1051 1613.4 1051.7 1617.9 1052.5 1622.6C1053.4 1627.3 1054.7 1632.1 1055.6 1636.8C1056.4 1641.5 1057.1 1646 1057.6 1650.9C1058.1 1655.8 1058.3 1660.2 1058.6 1666.1C1058.8 1672 1059 1679.5 1059.1 1686.3C1059.2 1693 1059.3 1699.7 1059.4 1706.5C1059.5 1713.2 1059.4 1720.8 1059.6 1726.7C1059.8 1732.6 1059.9 1736.8 1060.6 1741.8C1061.3 1746.9 1062.7 1751.9 1063.6 1757C1064.6 1762 1065.7 1767.6 1066.2 1772.1C1066.6 1776.7 1066.7 1780.9 1066.5 1784.2C1066.2 1787.6 1065.6 1789.8 1064.6 1792.3C1063.7 1794.8 1062 1797.7 1060.6 1799.4C1059.3 1801.1 1057.7 1802.1 1056.6 1802.6C1055.5 1803.1 1054.5 1802.5 1054 1802.4M1054 1802.4C1054 1802.2 1053.5 1801.5 1053.5 1800.9C1053.5 1800.3 1054 1799.2 1054 1798.9M1054 1798.9C1053.1 1799.4 1050.3 1801.2 1048.5 1801.9C1046.7 1802.7 1045 1803.4 1043.4 1803.4C1041.8 1803.4 1040 1802.6 1038.9 1801.9C1037.8 1801.2 1037.1 1800.2 1036.9 1799.4C1036.6 1798.6 1037 1797.7 1037.4 1796.9C1037.8 1796 1039.1 1794.8 1039.4 1794.3M1039.4 1794.3C1038.8 1794 1036.5 1793.1 1035.9 1792.3C1035.2 1791.6 1035.4 1790.2 1035.4 1789.8M1035.4 1789.8C1036.2 1789 1038.9 1786.9 1040.4 1785.3C1041.9 1783.7 1043.5 1781.9 1044.4 1780.2C1045.4 1778.5 1045.8 1777.3 1046 1775.2C1046.1 1773 1045.6 1770.1 1045.5 1767.1C1045.3 1764 1045.1 1760.3 1045.2 1757C1045.2 1753.6 1045.6 1749.6 1046 1746.9C1046.3 1744.2 1047.4 1743.3 1047.5 1740.8C1047.6 1738.3 1047.1 1735.3 1046.5 1731.7C1045.8 1728.2 1044.6 1723.6 1043.4 1719.6C1042.3 1715.6 1040.7 1711.7 1039.4 1707.5C1038 1703.3 1036.5 1698.7 1035.4 1694.3C1034.2 1690 1033.2 1685.9 1032.3 1681.2C1031.5 1676.5 1030.7 1671.1 1030.3 1666.1C1029.9 1661 1030 1655.8 1030.1 1650.9C1030.2 1646 1030.9 1640.8 1030.8 1636.8C1030.7 1632.7 1030.2 1630.7 1029.3 1626.7C1028.4 1622.6 1026.6 1617.4 1025.3 1612.5C1023.9 1607.6 1022.5 1602.8 1021.2 1597.4C1019.9 1592 1018.6 1585.3 1017.7 1580.2C1016.8 1575.2 1016 1569.3 1015.7 1567.1M1015.7 1567.1C1015.2 1568.9 1014.1 1575 1013.1 1578.2C1012.2 1581.4 1011.3 1583.9 1010.1 1586.3C1008.9 1588.6 1007.2 1589.6 1006.1 1592.3C1005 1595 1004.2 1598.4 1003.5 1602.4C1002.9 1606.5 1002.4 1611.9 1002 1616.6C1001.7 1621.3 1001.4 1627.7 1001.5 1630.7C1001.6 1633.7 1001.3 1631.7 1002.5 1634.7C1003.8 1637.8 1006.8 1643.7 1009.1 1648.9C1011.4 1654.1 1014 1659.8 1016.2 1666.1C1018.4 1672.3 1020.4 1679.5 1022.2 1686.3C1024.1 1693 1026 1699.7 1027.3 1706.5C1028.5 1713.2 1029.3 1720.8 1029.8 1726.7C1030.3 1732.6 1030.3 1735.9 1030.1 1741.8C1029.9 1747.7 1029.6 1754.4 1028.8 1762C1028 1769.6 1026.7 1778.5 1025.3 1787.3C1023.8 1796 1021.8 1805.6 1020.2 1814.5C1018.6 1823.5 1016.4 1836.4 1015.6 1840.8M967.3 1840.8C967.1 1838.7 966.7 1832.9 966.3 1828C965.9 1823.1 965.4 1816.6 964.9 1811.4C964.4 1806.2 963.8 1801.7 963.2 1797C962.6 1792.3 961.9 1786.6 961.4 1783.1C960.9 1779.6 960.2 1777.2 960 1776M960 1363C958.3 1363.2 953.2 1363.4 950 1364.2C946.8 1365 943.2 1366.3 940.6 1368.1C938 1369.9 936 1372.5 934.5 1375C933 1377.5 932.2 1380.5 931.5 1383.3C930.8 1386.1 930.3 1389.1 930 1392C929.7 1394.9 929.6 1399.1 929.5 1400.5M929.5 1400.5C928.8 1400.6 926.4 1400.6 925.5 1401.3C924.6 1402 924.1 1403 924 1404.5C923.9 1406 924.5 1408.2 924.7 1410C925 1411.8 925.2 1413.8 925.5 1415.6C925.8 1417.4 926.1 1419.3 926.5 1421C926.9 1422.7 927 1424.5 927.7 1425.5C928.4 1426.5 930 1426.5 930.5 1426.7M930.5 1426.7C930.7 1427.7 931.2 1430.7 931.7 1432.5C932.2 1434.3 932.8 1436.1 933.5 1437.8C934.2 1439.5 934.9 1441 935.8 1442.5C936.6 1444 937.5 1445.4 938.6 1446.9C939.7 1448.4 941.6 1450.8 942.2 1451.6M942.2 1451.6C942.2 1453.2 942.1 1457.7 942.1 1461C942.1 1464.3 942.5 1468.5 942.2 1471.2C942 1473.9 941.6 1475.5 940.6 1477.2C939.6 1478.9 938.2 1480 936.5 1481.2C934.8 1482.4 933.2 1483.2 930.5 1484.3C927.8 1485.4 923.7 1486.6 920 1487.8C916.3 1489 911.9 1490.2 908.3 1491.4C904.7 1492.6 901.5 1493.7 898.5 1495C895.5 1496.3 892.3 1498 890.1 1499.4C887.8 1500.8 886.5 1502 885 1503.5C883.5 1505 882.2 1506.6 881 1508.5C879.8 1510.4 878.8 1512.6 878 1515C877.2 1517.4 876.5 1520.4 876 1522.7C875.5 1525 875.1 1527 874.7 1529C874.4 1531 874.4 1526.6 873.9 1534.8C873.4 1543 872.1 1568.4 871.5 1578.2C870.9 1587.9 870.8 1588.3 870.5 1593.3C870.2 1598.4 870 1603.6 869.5 1608.5C869 1613.4 868.3 1617.9 867.5 1622.6C866.6 1627.3 865.3 1632.1 864.4 1636.8C863.6 1641.5 862.9 1646 862.4 1650.9C861.9 1655.8 861.7 1660.2 861.4 1666.1C861.2 1672 861 1679.5 860.9 1686.3C860.8 1693 860.7 1699.7 860.6 1706.5C860.5 1713.2 860.6 1720.8 860.4 1726.7C860.2 1732.6 860.1 1736.8 859.4 1741.8C858.7 1746.9 857.3 1751.9 856.4 1757C855.4 1762 854.3 1767.6 853.8 1772.1C853.4 1776.7 853.3 1780.9 853.5 1784.2C853.8 1787.6 854.4 1789.8 855.4 1792.3C856.3 1794.8 858 1797.7 859.4 1799.4C860.7 1801.1 862.3 1802.1 863.4 1802.6C864.5 1803.1 865.5 1802.5 866 1802.4M866 1802.4C866 1802.2 866.5 1801.5 866.5 1800.9C866.5 1800.3 866 1799.2 866 1798.9M866 1798.9C866.9 1799.4 869.7 1801.2 871.5 1801.9C873.3 1802.7 875 1803.4 876.6 1803.4C878.2 1803.4 880 1802.6 881.1 1801.9C882.2 1801.2 882.9 1800.2 883.1 1799.4C883.4 1798.6 883 1797.7 882.6 1796.9C882.2 1796 880.9 1794.8 880.6 1794.3M880.6 1794.3C881.2 1794 883.5 1793.1 884.1 1792.3C884.8 1791.6 884.6 1790.2 884.6 1789.8M884.6 1789.8C883.8 1789 881.1 1786.9 879.6 1785.3C878.1 1783.7 876.5 1781.9 875.6 1780.2C874.6 1778.5 874.2 1777.3 874 1775.2C873.9 1773 874.4 1770.1 874.5 1767.1C874.7 1764 874.9 1760.3 874.8 1757C874.8 1753.6 874.4 1749.6 874 1746.9C873.7 1744.2 872.6 1743.3 872.5 1740.8C872.4 1738.3 872.9 1735.3 873.5 1731.7C874.2 1728.2 875.4 1723.6 876.6 1719.6C877.7 1715.6 879.3 1711.7 880.6 1707.5C882 1703.3 883.5 1698.7 884.6 1694.3C885.8 1690 886.8 1685.9 887.7 1681.2C888.5 1676.5 889.3 1671.1 889.7 1666.1C890.1 1661 890 1655.8 889.9 1650.9C889.8 1646 889.1 1640.8 889.2 1636.8C889.3 1632.7 889.8 1630.7 890.7 1626.7C891.6 1622.6 893.4 1617.4 894.7 1612.5C896.1 1607.6 897.5 1602.8 898.8 1597.4C900.1 1592 901.4 1585.3 902.3 1580.2C903.2 1575.2 904 1569.3 904.3 1567.1M904.3 1567.1C904.8 1568.9 905.9 1575 906.9 1578.2C907.8 1581.4 908.7 1583.9 909.9 1586.3C911.1 1588.6 912.8 1589.6 913.9 1592.3C915 1595 915.8 1598.4 916.5 1602.4C917.1 1606.5 917.6 1611.9 918 1616.6C918.3 1621.3 918.6 1627.7 918.5 1630.7C918.4 1633.7 918.7 1631.7 917.5 1634.7C916.2 1637.8 913.2 1643.7 910.9 1648.9C908.6 1654.1 906 1659.8 903.8 1666.1C901.6 1672.3 899.6 1679.5 897.8 1686.3C895.9 1693 894 1699.7 892.7 1706.5C891.5 1713.2 890.7 1720.8 890.2 1726.7C889.7 1732.6 889.7 1735.9 889.9 1741.8C890.1 1747.7 890.4 1754.4 891.2 1762C892 1769.6 893.3 1778.5 894.7 1787.3C896.2 1796 898.2 1805.6 899.8 1814.5C901.4 1823.5 903.6 1836.4 904.4 1840.8M952.7 1840.8C952.9 1838.7 953.3 1832.9 953.7 1828C954.1 1823.1 954.6 1816.6 955.1 1811.4C955.6 1806.2 956.2 1801.7 956.8 1797C957.4 1792.3 958.1 1786.6 958.6 1783.1C959.1 1779.6 959.8 1777.2 960 1776M904.4 1840.8H952.7M967.3 1840.8H1015.6" fill="none" stroke="#2b2b2b" stroke-width="1.15" stroke-linejoin="round" stroke-linecap="round"/><path d="M940 1378.9C940.5 1378.1 941.5 1376.7 942.7 1376.2C943.8 1375.7 945.6 1376.4 946.8 1375.9C948 1375.4 948.7 1373.6 949.7 1373.3C950.8 1372.9 952.4 1373.7 953.3 1373.8C954.2 1374 954.4 1374.6 955.1 1374.1C955.7 1373.7 956.3 1371.9 957.4 1371.2C958.5 1370.5 960.2 1370.1 961.5 1370.1C962.9 1370.2 964.6 1370.7 965.7 1371.5C966.7 1372.3 966.7 1374.3 967.7 1374.7C968.7 1375.2 970.3 1374 971.6 1374.1C972.8 1374.3 974.3 1375.1 975.1 1375.6C975.9 1376.1 975.4 1376.8 976.3 1377.1C977.2 1377.4 979.2 1376.9 980.4 1377.4C981.6 1377.9 982.7 1379 983.3 1380C983.9 1381.1 984 1382.6 983.9 1383.6C983.8 1384.6 982.6 1385 982.7 1385.9C982.9 1386.8 984.8 1387.7 985.1 1388.9C985.4 1390.1 985.3 1391.8 984.8 1393C984.4 1394.2 982.9 1394.9 982.5 1395.9C982 1397 982.6 1398.4 982.2 1399.5C981.7 1400.6 980.8 1401.9 979.8 1402.4C978.8 1402.9 977.2 1402.5 976.3 1402.4C975.3 1402.3 974.7 1401.6 973.9 1401.8C973.1 1402.1 972.6 1403.6 971.6 1403.9C970.5 1404.2 968.5 1404.2 967.4 1403.9C966.3 1403.6 965.9 1402.2 965.1 1402.1C964.3 1402.1 963.7 1403.3 962.7 1403.6C961.7 1403.9 960.4 1404.1 959.2 1403.9C958 1403.7 956.7 1402.3 955.6 1402.4C954.6 1402.5 953.8 1404.1 952.7 1404.5C951.6 1404.8 950.2 1404.8 949.2 1404.5C948.1 1404.1 946.8 1403 946.2 1402.4C945.6 1401.8 946.3 1401.3 945.6 1401C944.9 1400.6 943 1400.7 942.1 1400.1C941.2 1399.4 940.4 1398 940 1397.1C939.7 1396.2 940.5 1395.4 940 1394.8C939.5 1394.2 937.7 1394.4 937.1 1393.6C936.4 1392.8 936.2 1391.2 936.2 1390.1C936.2 1388.9 936.5 1387.5 937.1 1386.5C937.7 1385.5 939.1 1384.8 939.7 1384.2C940.4 1383.5 940.9 1383.3 940.9 1382.7C940.9 1382.1 939.9 1381.3 939.7 1380.6C939.6 1380 939.5 1379.6 940 1378.9Z" fill="#c3e0e7"/><path d="M940.3 1382.7C941 1382.6 942.9 1382.6 944.4 1382.4C946 1382.2 948.6 1382.2 949.7 1381.5C950.9 1380.8 950.7 1379 951.5 1378.3C952.3 1377.5 953.4 1377.2 954.5 1377.1C955.5 1377 956.8 1377.7 958 1377.7C959.2 1377.6 960.2 1376.8 961.5 1376.8C962.9 1376.8 965.3 1377.2 966.2 1377.7C967.2 1378.1 967.2 1379.2 967.4 1379.4M943.3 1383.6C943.2 1384.4 942.6 1386.9 942.7 1388.3C942.8 1389.7 943.2 1390.7 943.9 1391.8C944.5 1392.9 945.5 1394.1 946.8 1394.8C948.1 1395.5 950.4 1395.8 951.5 1395.9C952.6 1396 953 1395.5 953.3 1395.4M951.2 1388.3C951.3 1387.2 951.6 1386 952.1 1385.3C952.6 1384.7 953.6 1384.1 954.5 1384.5C955.3 1384.8 956.3 1387.5 957.1 1387.7C957.9 1387.8 958.2 1385.9 959.2 1385.3C960.1 1384.7 961.5 1384 962.7 1384.2C963.9 1384.4 965.4 1385.4 966.2 1386.5C967.1 1387.6 967.8 1389.3 968 1390.6C968.2 1392 967.9 1393.8 967.4 1394.8C966.9 1395.7 966 1396.2 965.1 1396.2C964.1 1396.2 962.7 1394.7 961.8 1394.8C960.9 1394.9 960.7 1396.4 959.8 1396.8C958.8 1397.2 957.3 1397.4 956.2 1397.1C955.2 1396.9 954.1 1396.2 953.3 1395.4C952.5 1394.5 951.9 1393 951.5 1391.8C951.2 1390.6 951.1 1389.4 951.2 1388.3ZM958.9 1384.7C959 1384.2 959 1382 959.8 1381.2C960.5 1380.4 962 1379.9 963.3 1379.7C964.6 1379.6 966.3 1380 967.4 1380.3C968.5 1380.6 968.8 1381.5 969.8 1381.5C970.8 1381.6 972.1 1380.3 973.3 1380.6C974.5 1381 976.1 1382.4 976.9 1383.6C977.6 1384.7 977.8 1386.4 977.7 1387.7C977.6 1389 977.1 1390.4 976.3 1391.2C975.4 1392.1 974 1392.6 972.7 1392.7C971.5 1392.9 969.3 1392.2 968.6 1392.1M978 1387.7C978.6 1387.6 980.7 1387.4 981.6 1387.1C982.5 1386.8 983 1386.1 983.3 1385.9M968.6 1392.4C969.2 1392.6 970.8 1393.6 972.1 1393.6C973.5 1393.5 975.6 1392.1 976.9 1392.1C978.1 1392.2 978.9 1393.1 979.5 1393.9C980.1 1394.6 980.6 1395.6 980.4 1396.5C980.1 1397.5 979 1398.8 978 1399.5C977.1 1400.1 975.6 1400.5 974.5 1400.4C973.4 1400.3 972.2 1399.2 971.6 1398.9C970.9 1398.5 971.3 1398.2 970.4 1398.3C969.5 1398.4 967 1399 966.2 1399.5C965.5 1400 965.8 1401 965.7 1401.2M939.4 1393.6C939.9 1393.2 941.6 1391.6 942.1 1391.2" fill="none" stroke="#fff" stroke-width="0.8" stroke-linecap="round"/><path d="M945.5 1507.4C947.5 1507.3 949.1 1507.9 950.5 1508.7C951.9 1509.5 952.9 1510.1 953.7 1512C954.6 1514 955.1 1516.4 955.6 1520.3C956 1524.2 956.4 1530.4 956.6 1535.5C956.7 1540.5 956.6 1546.4 956.6 1550.6C956.5 1554.8 956.4 1557.7 956.1 1560.7C955.7 1563.7 955.8 1566.1 954.5 1568.8C953.3 1571.5 951.2 1574.5 948.5 1576.9C945.8 1579.2 942.3 1581.5 938.4 1582.9C934.5 1584.4 928.6 1585.1 925.3 1585.5C921.9 1585.8 919.9 1585.7 918.2 1584.9C916.5 1584.2 915.7 1583.3 914.9 1580.9C914.2 1578.6 913.9 1575 913.9 1570.8C914 1566.6 914.1 1561.5 915.2 1555.7C916.2 1549.8 918 1541.5 920.2 1535.5C922.4 1529.4 925.3 1523.7 928.3 1519.3C931.3 1514.9 935.5 1511.2 938.4 1509.2C941.2 1507.2 943.4 1507.5 945.5 1507.4Z" fill="#66cc72" stroke="#4e9e58" stroke-width="0.3"/><path d="M974.7 1507.2C972.4 1506.9 970.9 1507.9 969.7 1508.7C968.5 1509.4 968.2 1509.8 967.5 1511.7C966.7 1513.7 965.8 1516.3 965.2 1520.3C964.5 1524.3 964.1 1530.4 963.8 1535.5C963.6 1540.5 963.5 1546.1 963.6 1550.6C963.8 1555.2 963.5 1558.9 964.6 1562.7C965.8 1566.6 967.8 1570.8 970.7 1573.8C973.6 1576.9 978.5 1579.1 981.8 1580.9C985.2 1582.7 987.7 1583.7 990.9 1584.4C994.1 1585.2 998.7 1585.7 1001 1585.6C1003.4 1585.4 1004.1 1585.4 1005.1 1583.4C1006 1581.5 1006.6 1578.5 1006.6 1573.8C1006.6 1569.2 1006.1 1562.1 1005.1 1555.7C1004 1549.3 1002 1541.3 1000 1535.5C998 1529.6 995.6 1524.5 992.9 1520.3C990.2 1516.1 986.9 1512.4 983.8 1510.2C980.8 1508 977.1 1507.4 974.7 1507.2Z" fill="#66cc72" stroke="#4e9e58" stroke-width="0.3"/><path d="M957.4 1486.3L963.6 1486.3L963.6 1512.7C963.8 1516.3 965.2 1517.8 966.3 1518.8L964.6 1521.3C963.1 1520.3 961.6 1519.9 960.5 1520.3C959.4 1519.9 957.6 1520.5 956.1 1521.5L954.5 1519.1C956.1 1517.8 957.2 1516.3 957.4 1512.7Z" fill="#c3e0e7" stroke="#a9c9d2" stroke-width="0.4"/><path d="M965.7 1583.4C966.4 1583.9 968.9 1589 970.7 1591C972.6 1593 974.6 1594.9 976.8 1595.6C979 1596.2 981.5 1594.9 983.8 1595.1C986.2 1595.2 988.7 1595.1 990.9 1596.3C993.1 1597.4 995.5 1599.3 997 1602.1C998.5 1604.9 999.9 1609.4 1000 1613.2C1000.1 1617.1 999.2 1621.9 997.5 1625.4C995.8 1628.8 993 1631.9 989.9 1633.9C986.8 1636 982.7 1637.2 978.8 1637.5C974.9 1637.8 970.4 1636.6 966.7 1635.7C963 1634.7 959.4 1632.6 956.6 1631.6C953.7 1630.7 951.4 1629.6 949.5 1629.9C947.6 1630.2 945.9 1631.8 944.9 1633.4C944 1635.1 943.9 1637 943.6 1640C943.4 1643 943.3 1647.7 943.4 1651.6C943.6 1655.6 945.3 1661.7 944.4 1663.7C943.6 1665.8 939.8 1665.8 938.6 1663.7C937.4 1661.7 937.6 1655.6 937.4 1651.6C937.2 1647.7 937.3 1643.4 937.4 1640C937.5 1636.6 937.4 1633.9 937.9 1631.4C938.4 1629 938.8 1627 940.4 1625.4C942 1623.7 944.8 1622.2 947.5 1621.5C950.2 1620.8 953.7 1621 956.6 1621.1C959.4 1621.2 962.3 1622.6 964.6 1622.3C967 1622 969.1 1620.8 970.7 1619.3C972.4 1617.8 973.7 1615.4 974.5 1613.2C975.4 1611 976 1608.5 976 1606.2C975.9 1603.8 975.2 1601.3 974.2 1599.1C973.3 1596.9 971.5 1594.9 970.2 1593C968.9 1591.2 966.9 1589.6 966.2 1588C965.4 1586.4 964.9 1582.9 965.7 1583.4Z" fill="#66cc72" stroke="#4e9e58" stroke-width="0.3"/><path d="M951.3 1591C952.3 1590.4 958 1591.2 960.6 1591.2C963.2 1591.3 969.1 1590.8 970.7 1591.4C972.3 1592 972.5 1594.3 972.3 1595.6C972.2 1596.8 970.7 1599.6 969.7 1601.1C968.7 1602.7 966 1605.9 964.6 1607.2C963.3 1608.4 960.9 1609.8 959.6 1610.4C958.3 1611 955.7 1613.1 955.1 1611.8C954.4 1610.6 954.7 1603.3 954.5 1601.1C954.3 1598.9 954 1596.9 953.5 1595.6C953.1 1594.2 950.4 1591.6 951.3 1591Z" fill="#66cc72"/><path d="M953.3 1591L955.2 1596.9L957.2 1591" fill="#fff" stroke="#fff" stroke-width="0.6"/><path d="M924.2 1592.2C926.7 1590.9 931.3 1591.2 935.4 1591C939.4 1590.8 945.7 1590.4 948.5 1591C951.3 1591.6 951 1592.9 952 1594.5C953 1596.2 954.1 1598.3 954.3 1601.1C954.6 1603.9 954.4 1608.5 953.7 1611.2C953.1 1613.9 951.9 1615.4 950.5 1617.3C949.1 1619.1 947.1 1620.9 945.5 1622.3C943.8 1623.8 942.4 1625.2 940.4 1625.9C938.4 1626.6 935.4 1626.2 933.3 1626.6C931.3 1626.9 929.7 1627.4 928.3 1627.9C926.9 1628.3 925.8 1629.4 924.7 1629.2C923.7 1628.9 922.5 1628 921.7 1626.4C921 1624.7 920.5 1621.8 920.2 1619.3C919.9 1616.8 919.6 1614.6 919.7 1611.2C919.8 1607.8 919.9 1602.3 920.7 1599.1C921.5 1595.9 921.8 1593.6 924.2 1592.2Z" fill="#7070d9"/><path d="M933.3 1621.3C933.8 1619.6 935.9 1617.7 937.4 1616.3C938.9 1614.8 941 1613.1 942.4 1612.7C943.9 1612.3 945.3 1613 946 1613.7C946.7 1614.5 947.1 1615.8 946.7 1617.3C946.2 1618.7 944.8 1620.8 943.4 1622.3C942.1 1623.8 939.9 1625.5 938.4 1626.2C936.9 1626.8 935.2 1627.2 934.3 1626.4C933.5 1625.6 932.8 1623 933.3 1621.3Z" fill="#7070d9" stroke="#4545a8" stroke-width="0.35"/><path d="M942.9 1619.8L944.9 1617.8L944.4 1620.8Z" fill="#fff"/><path d="M957.6 1538.5C958 1537.4 959 1537.2 959.6 1537.1C960.2 1536.9 961.2 1536.9 961.6 1537.7C962 1538.5 961.8 1542.6 962.4 1542.5C963 1542.5 964.7 1538.5 965.7 1537.5C966.6 1536.4 967.7 1535.5 968.7 1535.5C969.7 1535.5 971 1536.7 972.2 1537.5C973.4 1538.2 975.9 1539.6 976.8 1540.5C977.7 1541.4 977.4 1543.1 978.3 1543.5C979.1 1544 981.9 1543.1 982.3 1543.5C982.7 1544 980.4 1545.9 980.8 1546.6C981.2 1547.2 984.6 1547 984.8 1547.8C985.1 1548.5 983.1 1550.9 982.3 1551.6C981.6 1552.3 979.5 1551.9 979.8 1552.6C980.1 1553.4 983.4 1555.2 984.3 1556.7C985.3 1558.2 985.8 1560.6 985.9 1562.7C986 1564.8 985.7 1568.2 985.1 1570.8C984.4 1573.5 982.7 1578.3 981.3 1580.4C979.9 1582.5 977.5 1584.4 975.8 1584.9C974 1585.5 971.8 1585.1 969.7 1584.1C967.6 1583.2 963.8 1581 961.6 1578.9C959.4 1576.7 956.4 1572.7 955.1 1569.8C953.7 1566.9 953.1 1562.4 952.7 1559.7C952.3 1557 952.2 1553.4 952.5 1551.6C952.9 1549.8 954.4 1548.6 955.1 1547.6C955.7 1546.5 956.7 1545.9 957.1 1544.5C957.4 1543.2 957.2 1539.6 957.6 1538.5Z" fill="#f23030"/><path d="M954.5 1554.6C955.1 1553.8 956.2 1550.9 957.6 1549.6C958.9 1548.2 960.8 1547.9 962.6 1546.6C964.5 1545.2 967 1542.7 968.7 1541.5C970.4 1540.3 972.1 1539.8 972.7 1539.5M977.8 1543.5C977.2 1544 974.9 1545.6 974.2 1546.6C973.6 1547.6 973.3 1548.4 973.7 1549.6C974.2 1550.8 976.2 1551.8 976.8 1553.6C977.4 1555.5 977.6 1558.9 977.3 1560.7C976.9 1562.6 975.8 1563.1 974.7 1564.7C973.7 1566.4 971.6 1568.6 970.7 1570.8C969.8 1573 969.5 1575.9 969.2 1577.9C968.9 1579.9 968.8 1582.1 968.7 1582.9M976.8 1554.6C977.3 1554.5 979.3 1553.8 979.8 1553.6M975.8 1562.7C976.4 1563.2 978.8 1565.1 979.8 1565.8C980.8 1566.4 981.4 1565.8 981.8 1566.8C982.2 1567.8 982 1571 982 1571.8M981.8 1566.8C982.2 1566.5 983.5 1565.5 983.8 1565.3M974.7 1564.7C973.9 1564.9 971.2 1565.3 969.7 1565.8C968.2 1566.3 966.3 1567.4 965.7 1567.8" fill="none" stroke="#5cc46a" stroke-width="1.25" stroke-linecap="round"/><path d="M960.6 1565.3L964.6 1567.3L960.6 1568.3M964.6 1567.3L965.5 1571.3M957.6 1545.1L961.6 1545.8L961.4 1541M969.5 1574.8L969 1579.4" fill="none" stroke="#f4dada" stroke-width="0.7" stroke-linecap="round"/><path d="M940.4 1677.5C943.2 1676.5 955.4 1679.6 960.6 1679.5C965.9 1679.4 976.8 1675.5 979.8 1676.5C982.8 1677.4 982.7 1683.3 983.3 1686.6C983.9 1689.8 983.8 1697.5 984.3 1700.7C984.8 1703.9 987.1 1709.2 987.1 1710.8C987 1712.5 986 1713.2 983.8 1713C981.7 1712.9 973.8 1710.1 970.7 1709.8C967.6 1709.5 963.3 1710 960.6 1710.6C957.9 1711.2 952.7 1714.3 950.5 1714.4C948.4 1714.6 945.9 1713.6 944.4 1711.8C943 1710 940.3 1704.1 939.6 1700.7C938.9 1697.3 939.3 1689.7 939.4 1686.6C939.5 1683.5 937.6 1678.4 940.4 1677.5Z" fill="#66cc72" stroke="#256e31" stroke-width="0.8"/><path d="M945.5 1684.5C946.6 1684.4 951.2 1682.5 952.5 1683.5C953.9 1684.5 953.9 1688.1 953.5 1690.6C953.2 1693.1 950.7 1696 950.5 1698.7C950.3 1701.4 951.5 1705.3 952.5 1706.8C953.5 1708.3 955.9 1707.6 956.6 1707.8M956.6 1684.5C956.9 1685.9 958.6 1689.9 958.6 1692.6C958.6 1695.3 956.2 1698.4 956.6 1700.7C956.9 1703.1 958.9 1706.1 960.6 1706.8C962.3 1707.4 965.7 1705.1 966.7 1704.7M962.6 1682.5C963 1683.9 964.6 1687.9 964.6 1690.6C964.6 1693.3 962.5 1696.7 962.6 1698.7C962.8 1700.7 964.3 1702.4 965.7 1702.7C967 1703.1 970 1702.4 970.7 1700.7C971.4 1699 969.9 1694 969.7 1692.6M970.7 1681.5C971.4 1682.4 974.4 1684.4 974.7 1686.6C975.1 1688.8 972.4 1692.3 972.7 1694.6C973.1 1697 975.4 1698.7 976.8 1700.7C978.1 1702.7 980.1 1705.8 980.8 1706.8M947.5 1692.6C947 1694 944.4 1698.2 944.4 1700.7C944.4 1703.2 947 1706.6 947.5 1707.8M966.7 1686.6C967.3 1687.1 969 1689.3 970.7 1689.6C972.4 1689.9 975.8 1688.8 976.8 1688.6M976.8 1692.6C977.4 1693.1 980 1694 980.8 1695.7C981.6 1697.3 981.6 1701.5 981.8 1702.7" fill="none" stroke="#338a40" stroke-width="0.75" stroke-linecap="round"/><path d="M931.3 1659.7C931.7 1659.5 932.5 1659.6 933 1659.7C933.5 1659.9 934.1 1660.2 934.6 1660.5C935.1 1660.8 935.5 1661.2 935.9 1661.6C936.3 1662.1 936.6 1662.8 937.1 1663.1C937.6 1663.3 938.3 1663.2 938.9 1663.4C939.5 1663.5 940 1663.6 940.6 1663.8C941.1 1664 941.6 1664.3 942.1 1664.5C942.7 1664.8 943.1 1665.3 943.7 1665.5C944.3 1665.6 944.9 1665.3 945.5 1665.2C946.1 1665.2 946.7 1665.1 947.3 1665.2C947.8 1665.2 948.4 1665.4 949 1665.5C949.5 1665.7 950.1 1666.2 950.7 1666.2C951.2 1666.2 951.8 1665.9 952.4 1665.8C953 1665.7 953.6 1665.6 954.2 1665.6C954.7 1665.6 955.3 1665.8 955.9 1665.9C956.5 1666 957 1666.5 957.6 1666.5C958.2 1666.5 958.8 1666 959.3 1665.9C959.9 1665.7 960.5 1665.6 961 1665.5C961.6 1665.5 962.2 1665.5 962.8 1665.5C963.4 1665.5 964 1665.8 964.6 1665.7C965.1 1665.6 965.6 1665.1 966.2 1664.8C966.7 1664.6 967.2 1664.3 967.8 1664.2C968.4 1664.1 969 1664 969.5 1664C970.1 1664 970.8 1664.2 971.4 1664.1C971.9 1664 972.4 1663.4 972.9 1663.1C973.4 1662.9 974 1662.6 974.5 1662.5C975.1 1662.3 975.7 1662.3 976.3 1662.2C976.8 1662.2 977.5 1662.4 978.1 1662.2C978.6 1662 979 1661.5 979.5 1661.2C980.1 1660.9 980.6 1660.6 981.1 1660.4C981.7 1660.2 982.2 1660.1 982.8 1660C983.4 1659.9 984.1 1660.1 984.6 1659.9C985.2 1659.7 985.6 1659.2 986.1 1658.9C986.6 1658.6 987.1 1658.3 987.7 1658.1C988.2 1657.9 988.8 1657.8 989.4 1657.7C990 1657.7 990.5 1657.9 991.1 1658C991.7 1658 992.3 1658 992.8 1658.2C993.3 1658.4 993.8 1658.8 994.2 1659.2C994.6 1659.6 995 1660.1 995.2 1660.7C995.5 1661.2 995.5 1661.9 995.9 1662.4C996.2 1662.8 996.9 1663.1 997.3 1663.5C997.7 1663.9 998 1664.4 998.3 1664.9C998.6 1665.4 998.8 1666 998.9 1666.6C999 1667.2 998.9 1667.9 999.1 1668.4C999.4 1668.9 1000 1669.3 1000.3 1669.8C1000.6 1670.3 1000.9 1670.8 1001.1 1671.4C1001.3 1671.9 1001.3 1672.5 1001.3 1673.1C1001.4 1673.7 1001.1 1674.4 1001.2 1674.9C1001.3 1675.5 1001.8 1676 1002 1676.5C1002.2 1677.1 1002.4 1677.7 1002.5 1678.2C1002.6 1678.8 1002.5 1679.4 1002.5 1680C1002.4 1680.6 1002.1 1681.2 1002.2 1681.8C1002.3 1682.3 1002.7 1682.9 1002.9 1683.4C1003.1 1684 1003.2 1684.6 1003.3 1685.1C1003.3 1685.7 1003.3 1686.3 1003.2 1686.9C1003.1 1687.5 1002.7 1688.1 1002.7 1688.7C1002.7 1689.2 1003.1 1689.8 1003.3 1690.4C1003.4 1691 1003.5 1691.5 1003.5 1692.1C1003.5 1692.7 1003.4 1693.3 1003.3 1693.9C1003.1 1694.4 1002.7 1695 1002.7 1695.6C1002.7 1696.2 1003.1 1696.7 1003.2 1697.3C1003.3 1697.9 1003.4 1698.5 1003.4 1699.1C1003.4 1699.6 1003.3 1700.2 1003.2 1700.8C1003.1 1701.4 1002.7 1702 1002.7 1702.5C1002.7 1703.1 1003.1 1703.7 1003.3 1704.2C1003.5 1704.8 1003.7 1705.3 1003.9 1705.8C1004.1 1706.4 1004.3 1706.9 1004.5 1707.4C1004.7 1707.9 1004.8 1708.6 1005.1 1709.1C1005.5 1709.6 1006.2 1709.7 1006.5 1710.2C1006.9 1710.7 1007 1711.4 1007.1 1711.9C1007.2 1712.5 1007.1 1713.1 1006.9 1713.7C1006.8 1714.3 1006.4 1714.8 1006.3 1715.4C1006.3 1716 1006.6 1716.6 1006.7 1717.2C1006.7 1717.8 1006.6 1718.4 1006.4 1719C1006.2 1719.5 1005.8 1720 1005.4 1720.5C1005 1720.9 1004.3 1721.1 1003.9 1721.5C1003.5 1722 1003.4 1722.6 1003.1 1723.1C1002.8 1723.6 1002.3 1724.1 1001.8 1724.4C1001.3 1724.7 1000.7 1724.9 1000.1 1725C999.5 1725.1 998.9 1724.8 998.3 1725C997.8 1725.1 997.3 1725.6 996.7 1725.9C996.2 1726.1 995.6 1726.3 995.1 1726.4C994.5 1726.5 993.9 1726.5 993.3 1726.4C992.7 1726.4 992.1 1726 991.5 1726C991 1726.1 990.4 1726.5 989.8 1726.6C989.2 1726.8 988.7 1726.8 988.1 1726.8C987.5 1726.8 986.9 1726.6 986.3 1726.5C985.8 1726.3 985.2 1725.8 984.7 1725.8C984.1 1725.7 983.5 1726.1 982.9 1726.2C982.3 1726.2 981.7 1726.3 981.1 1726.2C980.6 1726.1 980 1725.9 979.4 1725.7C978.9 1725.5 978.4 1725 977.8 1724.9C977.3 1724.7 976.6 1724.9 976 1724.9C975.4 1724.8 974.9 1724.7 974.3 1724.5C973.8 1724.3 973.3 1724.1 972.8 1723.7C972.2 1723.4 971.8 1722.8 971.3 1722.7C970.7 1722.5 970 1722.8 969.4 1722.8C968.8 1722.8 968.3 1722.7 967.7 1722.6C967.1 1722.5 966.7 1722.2 966.1 1722.1C965.5 1722 964.5 1721.8 964.1 1722.1C963.8 1722.4 964 1723.3 964 1723.9C963.9 1724.5 964 1725.1 964 1725.7C963.9 1726.2 963.7 1726.8 963.6 1727.4C963.4 1727.9 963.2 1728.6 963.2 1729.1C963.2 1729.7 963.9 1730.3 963.8 1730.8C963.6 1731.3 962.9 1731.9 962.4 1732.2C961.9 1732.4 961.2 1732.3 960.6 1732.3C960 1732.2 959.4 1731.9 958.9 1731.9C958.3 1731.9 957.7 1732.4 957.1 1732.4C956.5 1732.5 955.7 1732.5 955.3 1732.2C954.9 1731.9 954.6 1731 954.5 1730.4C954.5 1729.8 955 1729.2 955 1728.7C955 1728.1 954.6 1727.5 954.5 1726.9C954.5 1726.3 954.4 1725.7 954.5 1725.1C954.5 1724.6 954.7 1724 954.9 1723.4C955.1 1722.9 955.6 1722.4 955.6 1721.8C955.7 1721.2 955.3 1720.6 955.3 1720C955.2 1719.4 955.2 1718.8 955.3 1718.2C955.5 1717.6 955.7 1717 956.1 1716.6C956.4 1716.1 957 1715.8 957.4 1715.3C957.7 1714.9 957.7 1714.2 958 1713.7C958.4 1713.2 958.8 1712.7 959.3 1712.3C959.7 1712 960.4 1711.8 960.9 1711.7C961.5 1711.6 962.2 1711.8 962.8 1711.7C963.3 1711.5 963.7 1710.9 964.3 1710.6C964.8 1710.4 965.3 1710.1 965.9 1710C966.5 1709.9 967.1 1709.9 967.7 1709.9C968.3 1710 968.8 1710.3 969.4 1710.3C970 1710.3 970.6 1709.9 971.2 1710C971.8 1710 972.4 1710.2 972.9 1710.5C973.4 1710.8 973.9 1711.2 974.3 1711.6C974.7 1712 975 1712.7 975.5 1713C975.9 1713.3 976.6 1713.3 977.2 1713.5C977.7 1713.7 978.3 1714 978.7 1714.3C979.2 1714.6 979.6 1715 980.1 1715.4C980.6 1715.7 981 1716.3 981.6 1716.5C982.1 1716.6 982.8 1716.3 983.4 1716.2C984 1716.2 984.5 1716.1 985.1 1716.1C985.7 1716.1 986.2 1716.2 986.8 1716.1C987.4 1716 988.3 1715.8 988.5 1715.4C988.7 1715 988.1 1714.2 987.9 1713.6C987.7 1713.1 987.5 1712.6 987.3 1712C987.2 1711.5 987.1 1710.9 987.1 1710.3C987 1709.7 987.2 1709 987 1708.5C986.7 1707.9 986.1 1707.6 985.7 1707.1C985.4 1706.6 985 1706.2 984.8 1705.7C984.5 1705.1 984.3 1704.6 984.2 1704C984.1 1703.4 984.3 1702.7 984.1 1702.2C983.9 1701.6 983.4 1701.2 983.2 1700.6C982.9 1700.1 982.8 1699.5 982.7 1698.9C982.7 1698.3 982.8 1697.7 982.9 1697.2C983 1696.6 983.4 1696 983.3 1695.4C983.3 1694.8 982.9 1694.3 982.8 1693.7C982.6 1693.1 982.5 1692.5 982.5 1692C982.5 1691.4 982.6 1690.8 982.7 1690.2C982.9 1689.6 983.3 1689 983.3 1688.5C983.2 1687.9 982.8 1687.3 982.7 1686.7C982.5 1686.2 982.4 1685.6 982.4 1685C982.4 1684.4 982.5 1683.9 982.6 1683.3C982.7 1682.7 983.1 1682.1 983.1 1681.5C983.1 1680.9 982.7 1680.4 982.5 1679.8C982.3 1679.2 982.3 1678.7 982.1 1678.1C982 1677.6 982 1677 981.6 1676.7C981.3 1676.3 980.5 1676.1 980 1676.1C979.4 1676.1 978.9 1676.7 978.3 1676.9C977.8 1677.1 977.3 1677.4 976.7 1677.5C976.1 1677.7 975.6 1677.7 975 1677.7C974.4 1677.8 973.7 1677.5 973.1 1677.7C972.6 1677.8 972.1 1678.4 971.6 1678.6C971.1 1678.9 970.5 1679.1 970 1679.3C969.4 1679.4 968.8 1679.5 968.2 1679.5C967.6 1679.5 967 1679.2 966.4 1679.4C965.9 1679.5 965.4 1680 964.9 1680.3C964.3 1680.5 963.7 1680.7 963.2 1680.8C962.6 1680.9 962 1680.9 961.4 1680.8C960.8 1680.7 960.2 1680.3 959.6 1680.4C959.1 1680.4 958.5 1680.8 957.9 1681C957.3 1681.1 956.8 1681.2 956.2 1681.2C955.6 1681.2 955 1681.1 954.4 1681C953.9 1680.9 953.3 1680.5 952.7 1680.4C952.1 1680.4 951.6 1680.8 951 1680.9C950.4 1681 949.8 1681.1 949.2 1681.1C948.6 1681 948 1680.9 947.5 1680.7C947 1680.4 946.5 1679.9 946 1679.7C945.5 1679.5 944.8 1679.5 944.2 1679.4C943.7 1679.2 943.1 1678.9 942.6 1678.6C942.1 1678.3 941.7 1677.7 941.2 1677.6C940.8 1677.5 939.9 1677.7 939.7 1678.1C939.5 1678.5 940 1679.3 940.1 1679.9C940.3 1680.5 940.4 1681 940.5 1681.6C940.5 1682.2 940.5 1682.8 940.4 1683.4C940.3 1683.9 939.9 1684.6 940 1685.1C940 1685.7 940.4 1686.3 940.6 1686.8C940.7 1687.4 940.8 1688 940.8 1688.6C940.8 1689.1 940.8 1689.7 940.7 1690.3C940.5 1690.9 940.2 1691.5 940.2 1692.1C940.2 1692.6 940.6 1693.2 940.8 1693.8C940.9 1694.4 941 1694.9 941 1695.5C941 1696.1 940.9 1696.7 940.8 1697.3C940.7 1697.8 940.3 1698.4 940.3 1699C940.3 1699.6 940.7 1700.2 940.8 1700.7C940.9 1701.3 940.9 1701.9 940.9 1702.5C940.8 1703.1 940.7 1703.6 940.5 1704.2C940.4 1704.8 939.9 1705.3 939.8 1705.9C939.7 1706.5 940.1 1707.1 940.1 1707.7C940.1 1708.3 940 1708.9 939.8 1709.4C939.5 1710 939.1 1710.5 938.6 1710.9C938.1 1711.2 937.4 1711.2 936.9 1711.6C936.5 1711.9 936.2 1712.5 935.8 1712.9C935.4 1713.3 934.9 1713.7 934.3 1713.9C933.8 1714.2 933.2 1714.4 932.6 1714.5C932.1 1714.6 931.4 1714.4 930.8 1714.5C930.3 1714.7 929.8 1715.1 929.2 1715.3C928.7 1715.4 928 1715.4 927.4 1715.3C926.9 1715.1 926.3 1714.9 925.8 1714.6C925.3 1714.2 925 1713.7 924.4 1713.4C923.9 1713.1 923.3 1713.1 922.7 1712.8C922.2 1712.5 921.8 1712.1 921.4 1711.6C921.1 1711.2 920.8 1710.6 920.6 1710C920.4 1709.5 920.5 1708.8 920.3 1708.3C920 1707.7 919.4 1707.4 919.1 1706.9C918.8 1706.3 918.6 1705.8 918.5 1705.2C918.4 1704.6 918.4 1704 918.5 1703.4C918.6 1702.8 918.9 1702.2 918.9 1701.6C918.8 1701.1 918.4 1700.5 918.2 1700C918.1 1699.4 918 1698.8 917.9 1698.2C917.9 1697.6 918 1697.1 918.1 1696.5C918.2 1695.9 918.6 1695.3 918.6 1694.7C918.6 1694.2 918.2 1693.6 918 1693C917.9 1692.4 917.8 1691.8 917.8 1691.3C917.8 1690.7 917.9 1690.1 918 1689.5C918.1 1689 918.5 1688.4 918.5 1687.8C918.5 1687.2 918.1 1686.6 918 1686.1C917.8 1685.5 917.7 1684.9 917.7 1684.3C917.7 1683.7 917.8 1683.2 918 1682.6C918.1 1682 918.5 1681.4 918.5 1680.9C918.5 1680.3 918.1 1679.7 918 1679.1C917.9 1678.5 917.9 1677.9 917.9 1677.3C918 1676.8 918.1 1676.2 918.4 1675.6C918.6 1675.1 919.1 1674.7 919.3 1674.2C919.6 1673.7 919.7 1673 920.1 1672.6C920.4 1672.2 921 1671.8 921.5 1671.6C922.1 1671.3 922.7 1671.3 923.3 1671.2C923.9 1671.1 924.6 1671.2 925.1 1671C925.6 1670.7 925.8 1669.9 926.2 1669.4C926.5 1669 926.9 1668.5 927.3 1668.1C927.7 1667.8 928.2 1667.4 928.7 1667.1C929.2 1666.8 930 1666.6 930.3 1666.1C930.5 1665.6 930.4 1664.9 930.4 1664.3C930.4 1663.7 930.3 1663.1 930.3 1662.6C930.3 1662 930.4 1661.3 930.6 1660.8C930.7 1660.4 930.9 1659.9 931.3 1659.7Z" fill="#f23030"/><path d="M933.3 1664.8C934.5 1665.8 937.7 1669.2 940.4 1670.4C943.1 1671.6 946.1 1671.8 949.5 1671.9C952.9 1672.1 956.7 1672 960.6 1671.4C964.5 1670.8 968.9 1669.6 972.7 1668.4C976.6 1667.1 980.8 1665.2 983.8 1663.8C986.9 1662.5 989.7 1660.9 990.9 1660.3M930.3 1681.5C930.2 1683 930 1687.7 929.8 1690.6C929.6 1693.5 929.5 1696.2 929.3 1698.7C929.1 1701.2 928.7 1703.7 928.8 1705.8C928.9 1707.8 929.6 1710 929.8 1710.8M992.9 1677.5C993.1 1679 993.6 1682.9 993.9 1686.6C994.3 1690.3 994.6 1696.3 994.9 1699.7C995.3 1703.1 995.1 1704.9 996 1706.8C996.8 1708.6 999.8 1709.3 1000 1710.8C1000.2 1712.3 1000.2 1714.5 997 1715.9C993.8 1717.2 986 1718.4 980.8 1718.9C975.6 1719.4 969.2 1718.7 965.7 1718.9C962.1 1719.1 960.6 1719.7 959.6 1719.9" fill="none" stroke="#fdeaea" stroke-width="0.9" stroke-linecap="round"/><path d="M947.9 1671.9L949.5 1670.9L951.1 1671.9L949.5 1673.5Z" fill="#fff"/><path d="M927.7 1702.7L929.3 1701.7L930.9 1702.7L929.3 1704.3Z" fill="#fff"/><path d="M993.3 1699.7L994.9 1698.7L996.5 1699.7L994.9 1701.3Z" fill="#fff"/><path d="M997.9 1711.3L999.5 1710.3L1001.1 1711.3L999.5 1712.9Z" fill="#fff"/><path d="M972.1 1667.9L973.7 1666.9L975.3 1667.9L973.7 1669.5Z" fill="#fff"/><path d="M936.8 1669.9L938.4 1668.9L940.0 1669.9L938.4 1671.5Z" fill="#fff"/><path d="M927.7 1690.6L929.3 1689.6L930.9 1690.6L929.3 1692.2Z" fill="#fff"/><path d="M952.5 1645.2C953.7 1643.8 955.9 1642.1 958.6 1641.3C961.3 1640.6 966.2 1640.3 970.7 1640.1C975.3 1639.9 986 1639.5 988.9 1639.9C991.7 1640.3 990.9 1641.8 989.7 1642.9C988.5 1644 983.7 1646.1 980.8 1647.2C978 1648.3 972.9 1649.3 970.7 1650.2C968.5 1651.1 967.1 1652 966.2 1653.2C965.3 1654.4 965.8 1657.3 964.6 1658.3C963.5 1659.3 960.4 1660.2 958.6 1659.9C956.8 1659.6 953.9 1657.9 952.7 1656.5C951.6 1655 951 1651.9 951 1650.2C951 1648.5 951.4 1646.5 952.5 1645.2Z" fill="#7070d9"/><path d="M956.6 1652.2C957.2 1651.2 958.2 1647.5 960.6 1646.2C963 1644.8 966.7 1644.7 970.7 1644.1C974.7 1643.6 982.5 1642.9 984.8 1642.6M960.6 1646.2L958.6 1643.1M964.6 1645.2L966.7 1648.7M970.7 1644.1L969.7 1641.9M974.7 1643.6L976.8 1646.7M958.1 1649.7L961.6 1653.2" fill="none" stroke="#4a4aae" stroke-width="0.5" stroke-linecap="round"/><path d="M929.3 1645.7C931.6 1645.5 933.1 1647.4 933.8 1649.2C934.5 1651 934 1653.9 933.5 1656.3C933.1 1658.6 931.6 1661 931.1 1663.3C930.6 1665.7 931.3 1668.7 930.3 1670.4C929.3 1672.1 927.1 1673.3 925.3 1673.4C923.4 1673.6 920.8 1672.9 919.2 1671.4C917.6 1669.9 916.3 1666.7 915.7 1664.3C915 1662 914.4 1659.6 915.2 1657.3C915.9 1654.9 917.8 1652.1 920.2 1650.2C922.6 1648.3 927 1645.8 929.3 1645.7Z" fill="#7070d9"/><path d="M993.3 1645.7C991.1 1645.5 989.5 1647.4 988.8 1649.2C988.1 1651 988.6 1653.9 989.1 1656.3C989.5 1658.6 991 1661 991.5 1663.3C992.1 1665.7 991.3 1668.7 992.3 1670.4C993.3 1672.1 995.5 1673.3 997.4 1673.4C999.2 1673.6 1001.8 1672.9 1003.4 1671.4C1005 1669.9 1006.3 1666.7 1007 1664.3C1007.6 1662 1008.2 1659.6 1007.5 1657.3C1006.7 1654.9 1004.8 1652.1 1002.4 1650.2C1000.1 1648.3 995.6 1645.8 993.3 1645.7Z" fill="#7070d9"/><path d="M916.2 1656.8C917.3 1657.7 920.5 1661.2 923.2 1662.3C925.9 1663.4 930.8 1663.2 932.3 1663.3M1006.5 1656.8C1005.3 1657.7 1002.1 1661.2 999.4 1662.3C996.7 1663.4 991.8 1663.2 990.3 1663.3" fill="none" stroke="#5a5ac4" stroke-width="0.4"/><path d="M931.5 1665.4C933 1667 938.1 1671.2 940.4 1675.5C942.7 1679.7 944.8 1685.6 945.5 1690.6C946.1 1695.7 945.5 1700.7 944.4 1705.8C943.4 1710.8 940 1717 938.9 1720.9C937.7 1724.8 937.8 1727.6 937.6 1729M990.1 1665.4C988.6 1667 983.5 1671.2 981.2 1675.5C978.9 1679.7 976.8 1685.6 976.2 1690.6C975.5 1695.7 976.1 1700.7 977.2 1705.8C978.3 1710.8 981.6 1717 982.7 1720.9C983.9 1724.8 983.8 1727.6 984 1729" fill="none" stroke="#7070d9" stroke-width="2.8" stroke-linecap="round"/><path d="M937.1 1722C937.2 1723.5 937.1 1728.7 937.7 1731.1C938.3 1733.5 939.5 1734.8 940.8 1736.4C942 1737.9 944 1739.3 945.3 1740.2C946.6 1741 948.1 1741.3 948.7 1741.5M983.8 1722C983.7 1723.5 983.8 1728.7 983.2 1731.1C982.6 1733.5 981.4 1734.8 980.2 1736.4C978.9 1737.9 976.9 1739.3 975.6 1740.2C974.3 1741 972.8 1741.3 972.2 1741.5" fill="none" stroke="#7070d9" stroke-width="2.8" stroke-linecap="round"/><path d="M943.9 1736.1C944.1 1735.6 947.1 1734.5 948.3 1734.1C949.5 1733.6 951.3 1733.1 952.9 1732.7C954.5 1732.4 958.4 1731.7 960.5 1731.7C962.5 1731.7 966.4 1732.4 968 1732.7C969.6 1733.1 971.4 1733.6 972.6 1734.1C973.8 1734.5 976.8 1735.6 977 1736.1C977.2 1736.5 975.3 1737.5 974.1 1737.7C972.9 1738 969.8 1738.1 968 1738C966.2 1738 962.5 1737.6 960.5 1737.6C958.4 1737.6 954.7 1738 952.9 1738C951.1 1738.1 948 1738 946.8 1737.7C945.6 1737.5 943.7 1736.5 943.9 1736.1Z" fill="#7070d9"/><path d="M948 1740.2C949 1739.6 952.5 1739.4 954.4 1739.2C956.3 1739.1 958.6 1738.9 960.5 1738.9C962.3 1738.9 964.6 1739.1 966.5 1739.2C968.4 1739.4 971.9 1739.6 973 1740.2C974 1740.7 973.7 1742 973.5 1743.2C973.2 1744.3 972.2 1746.5 971.2 1747.7C970.2 1749 968.3 1750.7 966.7 1751.5C965.1 1752.3 962.3 1753.2 960.5 1753.2C958.6 1753.2 955.9 1752.3 954.2 1751.5C952.6 1750.7 950.7 1749 949.7 1747.7C948.7 1746.5 947.7 1744.3 947.4 1743.2C947.2 1742 946.9 1740.7 948 1740.2Z" fill="#7070d9" stroke="#5c5cc0" stroke-width="0.4"/><path d="M948.3 1742C949.3 1742.7 952.4 1745 954.4 1745.8C956.4 1746.7 958.4 1747 960.5 1747C962.5 1747 964.5 1746.7 966.5 1745.8C968.5 1745 971.6 1742.7 972.6 1742" fill="none" stroke="#5c5cc0" stroke-width="0.4"/><path d="M940 1737.5C939.2 1736.9 935.7 1737.3 933.9 1737.9C932.2 1738.4 928.6 1740.4 927.1 1741.7C925.7 1743 923.6 1746.2 923 1747.7C922.3 1749.2 922 1751.5 922.2 1753C922.3 1754.5 923.4 1757.7 924.1 1759.1C924.7 1760.5 926.4 1762.7 927.1 1763.6C927.9 1764.5 929.4 1766.3 929.8 1765.9C930.2 1765.5 930.5 1761.8 930.2 1760.6C929.8 1759.4 928 1757.9 927.5 1756.8C927 1755.7 926.4 1753.5 926.4 1752.3C926.4 1751.1 926.9 1748.7 927.5 1747.7C928.1 1746.7 929.8 1745.3 930.9 1744.7C932 1744.1 934.3 1743.5 935.5 1743.2C936.6 1742.9 939 1743.3 939.6 1742.6C940.2 1741.8 940.8 1738.1 940 1737.5Z" fill="#7070d9"/><path d="M980.9 1737.5C981.7 1736.9 985.3 1737.3 987 1737.9C988.7 1738.4 992.3 1740.4 993.8 1741.7C995.3 1743 997.3 1746.2 998 1747.7C998.6 1749.2 998.9 1751.5 998.7 1753C998.6 1754.5 997.5 1757.7 996.8 1759.1C996.2 1760.5 994.5 1762.7 993.8 1763.6C993 1764.5 991.5 1766.3 991.1 1765.9C990.7 1765.5 990.5 1761.8 990.8 1760.6C991.1 1759.4 992.9 1757.9 993.4 1756.8C993.9 1755.7 994.5 1753.5 994.5 1752.3C994.5 1751.1 994 1748.7 993.4 1747.7C992.8 1746.7 991.1 1745.3 990 1744.7C988.9 1744.1 986.6 1743.5 985.5 1743.2C984.3 1742.9 981.9 1743.3 981.3 1742.6C980.7 1741.8 980.2 1738.1 980.9 1737.5Z" fill="#7070d9"/><path d="M931.7 1761.4C931.8 1760.1 932.9 1757.9 933.9 1757.2C934.9 1756.5 937.9 1756.3 939.2 1756.1C940.6 1755.8 942.9 1755.8 943.8 1755.3C944.7 1754.8 945.5 1753.2 946.1 1752.3C946.7 1751.4 947.9 1748.8 948.3 1748.5C948.8 1748.2 949.6 1749.1 949.5 1750C949.5 1750.9 948.3 1753.8 947.7 1755.3C947.2 1756.8 946.1 1759.7 945.3 1761.4C944.5 1763 942.6 1766.4 941.5 1767.4C940.4 1768.5 938.2 1769.2 937 1769.1C935.8 1769 933.3 1767.8 932.6 1766.8C931.9 1765.8 931.5 1762.6 931.7 1761.4Z" fill="#7070d9"/><path d="M989.2 1761.4C989.1 1760.1 988 1757.9 987 1757.2C986 1756.5 983 1756.3 981.7 1756.1C980.4 1755.8 978 1755.8 977.1 1755.3C976.2 1754.8 975.5 1753.2 974.8 1752.3C974.2 1751.4 973 1748.8 972.6 1748.5C972.1 1748.2 971.3 1749.1 971.4 1750C971.4 1750.9 972.6 1753.8 973.2 1755.3C973.7 1756.8 974.8 1759.7 975.6 1761.4C976.4 1763 978.3 1766.4 979.4 1767.4C980.5 1768.5 982.7 1769.2 983.9 1769.1C985.1 1769 987.6 1767.8 988.3 1766.8C989 1765.8 989.4 1762.6 989.2 1761.4Z" fill="#7070d9"/><path d="M950.2 1750C950.5 1750 952.3 1752.3 952.9 1753.8C953.4 1755.3 953.8 1759.5 954.4 1761.4C954.9 1763.2 956.6 1766 957 1767.4C957.5 1768.8 958 1771.2 957.8 1772C957.6 1772.8 955.4 1772.7 955.3 1773.5C955.2 1774.3 956.8 1776.2 957 1778C957.3 1779.9 957.5 1786 957.4 1787.3C957.3 1788.5 956.7 1788.8 956.3 1787.6C955.9 1786.3 954.8 1780.1 954.4 1778C954 1775.9 953.6 1774.2 953.3 1772C953 1769.7 952.5 1763.8 952.1 1761.4C951.8 1758.9 950.9 1755.3 950.6 1753.8C950.4 1752.3 949.9 1750 950.2 1750Z" fill="#7070d9"/><path d="M970.7 1750C970.4 1750 968.6 1752.3 968 1753.8C967.5 1755.3 967.1 1759.5 966.5 1761.4C966 1763.2 964.3 1766 963.9 1767.4C963.4 1768.8 962.9 1771.2 963.1 1772C963.3 1772.8 965.5 1772.7 965.6 1773.5C965.7 1774.3 964.1 1776.2 963.9 1778C963.6 1779.9 963.4 1786 963.5 1787.3C963.6 1788.5 964.2 1788.8 964.6 1787.6C965 1786.3 966.1 1780.1 966.5 1778C966.9 1775.9 967.3 1774.2 967.7 1772C968 1769.7 968.4 1763.8 968.8 1761.4C969.1 1758.9 970.1 1755.3 970.3 1753.8C970.6 1752.3 971 1750 970.7 1750Z" fill="#7070d9"/><path d="M958.2 1752.9C958.6 1752 962.3 1752 962.7 1752.9C963.2 1753.7 962.5 1759.8 962.4 1761.4C962.3 1762.9 962 1767.6 961.7 1768.3C961.3 1769 959.6 1769 959.2 1768.3C958.9 1767.6 958.6 1762.9 958.5 1761.4C958.4 1759.8 957.8 1753.7 958.2 1752.9Z" fill="#7070d9"/><path d="M960.3 1777.3L959.8 1790M960.5 1777.3L960.9 1790" fill="none" stroke="#222" stroke-width="0.8"/><path d="M1038.4 1587.3C1038.2 1589.5 1037.6 1595.7 1037.4 1600.4C1037.1 1605.1 1037.2 1610.5 1036.9 1615.6C1036.5 1620.6 1035.6 1625.7 1035.4 1630.7C1035.1 1635.8 1035 1641.1 1035.4 1645.9C1035.7 1650.6 1036.2 1654.8 1037.4 1659C1038.6 1663.2 1040.9 1666.9 1042.4 1671.1C1043.9 1675.3 1045.1 1680.2 1046.5 1684.2C1047.8 1688.3 1049.8 1693.5 1050.5 1695.4M1039.9 1587.8C1040 1590.2 1040.2 1597.6 1040.4 1602.4C1040.7 1607.2 1041.6 1611.9 1041.4 1616.6C1041.2 1621.3 1039.8 1626.2 1039.4 1630.7C1039 1635.3 1038.6 1639.6 1038.9 1643.8C1039.2 1648 1040.3 1652.1 1041.4 1656C1042.5 1659.8 1044.3 1663.2 1045.5 1667.1C1046.6 1670.9 1047.6 1674.6 1048.5 1679.2C1049.3 1683.7 1050.2 1691.8 1050.5 1694.3M1041.4 1590.3C1041.8 1592.5 1043.6 1599.1 1043.9 1603.4C1044.3 1607.8 1043.4 1612 1043.4 1616.6C1043.5 1621.1 1044.4 1626.2 1044.4 1630.7C1044.4 1635.3 1043.3 1639.6 1043.4 1643.8C1043.6 1648 1044.4 1651.8 1045.5 1656C1046.5 1660.2 1048.5 1664.9 1049.5 1669.1C1050.5 1673.3 1051.3 1677.2 1051.5 1681.2C1051.8 1685.3 1051.1 1691.3 1051 1693.3M1040.4 1589.3C1041.1 1590.1 1043.3 1592.3 1044.4 1594.3C1045.6 1596.4 1046.7 1599.2 1047.5 1601.4C1048.2 1603.6 1048.7 1606.5 1049 1607.5M1034.8 1589.3C1034.9 1590.3 1035.8 1593.5 1035.4 1595.4C1034.9 1597.2 1032.9 1598.9 1032.3 1600.4C1031.7 1601.9 1031.9 1603.8 1031.8 1604.4M1035.4 1600.4C1034.9 1601.8 1033.3 1606.5 1032.8 1608.5C1032.4 1610.5 1032.6 1611.9 1032.5 1612.5M1040.4 1615.1C1039.6 1615.5 1036.6 1616.3 1035.4 1617.6C1034.1 1618.8 1033.3 1621.1 1032.8 1622.6C1032.3 1624.1 1032.4 1626 1032.3 1626.7M1040.4 1629.7C1041.2 1630.4 1044.1 1631.9 1045.5 1633.7C1046.8 1635.6 1047.9 1638.5 1048.5 1640.8C1049 1643.2 1048.7 1646.7 1048.7 1647.9M1033.8 1589.3C1034.8 1588.9 1038.5 1587.2 1039.4 1586.8M1042.4 1616.6C1042.2 1618.9 1041.2 1626.2 1040.9 1630.7C1040.6 1635.3 1040 1639.5 1040.4 1643.8C1040.8 1648.2 1042.3 1652.4 1043.4 1657C1044.6 1661.5 1046.4 1666.2 1047.5 1671.1C1048.6 1676 1049.6 1683.7 1050 1686.3" fill="none" stroke="#45ad5b" stroke-width="1.45" stroke-linecap="round"/></svg>
<div class="t" style="top:1973.00px;font-size:18px;color:#111;font-weight:700;letter-spacing:0.540px;left:500.50px;">Indicators</div>
<div class="b" style="left:470px;top:2007px;width:980px;height:91px;background:#7171db"></div>
<div class="b" style="left:470px;top:2098px;width:980px;height:1px;background:#f0eaf0"></div>
<div class="t" style="top:2035.00px;font-size:16.8px;color:#fff;letter-spacing:0.477px;left:500.50px;-webkit-text-stroke:0.6px #fff;">Energy level</div>
<div class="t" style="top:2057.00px;font-size:16px;color:#fff;letter-spacing:0.575px;left:500.50px;opacity:.93;">Below normal</div>
<div class="t" style="top:2047.00px;font-size:38.4px;color:#fff;font-weight:700;letter-spacing:-0.035px;right:528.84px;">14.16</div>
<div class="b" style="left:470px;top:2099px;width:980px;height:91px;background:#00bf5a"></div>
<div class="b" style="left:470px;top:2190px;width:980px;height:1px;background:#f0eaf0"></div>
<div class="t" style="top:2127.00px;font-size:16.8px;color:#fff;letter-spacing:1.569px;left:500.50px;-webkit-text-stroke:0.6px #fff;">Immunity</div>
<div class="t" style="top:2149.00px;font-size:16px;color:#fff;letter-spacing:-0.010px;left:500.50px;opacity:.93;">Fine</div>
<div class="t" style="top:2139.00px;font-size:38.4px;color:#fff;font-weight:700;letter-spacing:-0.035px;right:528.84px;">19.18</div>
<div class="b" style="left:470px;top:2191px;width:980px;height:91px;background:#00bf5a"></div>
<div class="b" style="left:470px;top:2282px;width:980px;height:1px;background:#f0eaf0"></div>
<div class="t" style="top:2219.00px;font-size:16.8px;color:#fff;letter-spacing:1.142px;left:500.50px;-webkit-text-stroke:0.6px #fff;">Metabolism</div>
<div class="t" style="top:2241.00px;font-size:16px;color:#fff;letter-spacing:-0.010px;left:500.50px;opacity:.93;">Fine</div>
<div class="t" style="top:2231.00px;font-size:38.4px;color:#fff;font-weight:700;letter-spacing:-0.036px;right:528.84px;">0.96</div>
<div class="b" style="left:470px;top:2283px;width:980px;height:91px;background:#ff552d"></div>
<div class="b" style="left:470px;top:2374px;width:980px;height:1px;background:#f0eaf0"></div>
<div class="t" style="top:2311.00px;font-size:16.8px;color:#fff;letter-spacing:0.769px;left:500.50px;-webkit-text-stroke:0.6px #fff;">Psycho-emotional state</div>
<div class="t" style="top:2333.00px;font-size:16px;color:#fff;letter-spacing:0.516px;left:500.50px;opacity:.93;">Above normal</div>
<div class="t" style="top:2323.00px;font-size:38.4px;color:#fff;font-weight:700;letter-spacing:-0.036px;right:528.84px;">2.31</div>
<div class="b" style="left:470px;top:2375px;width:980px;height:91px;background:#7171db"></div>
<div class="t" style="top:2403.00px;font-size:16.8px;color:#fff;letter-spacing:0.789px;left:500.50px;-webkit-text-stroke:0.6px #fff;">Musculoskeletal system</div>
<div class="t" style="top:2425.00px;font-size:16px;color:#fff;letter-spacing:0.575px;left:500.50px;opacity:.93;">Below normal</div>
<div class="t" style="top:2415.00px;font-size:38.4px;color:#fff;font-weight:700;letter-spacing:-0.036px;right:528.84px;">0.85</div>
<svg style="left:0;top:2000px" width="1920" height="480" viewBox="0 2000 1920 480"><path d="M1417.4 2051.5L1421.2 2055.5L1425.0 2051.5" fill="none" stroke="#fff" stroke-width="1.4" stroke-linecap="square"/><path d="M1417.4 2143.5L1421.2 2147.5L1425.0 2143.5" fill="none" stroke="#fff" stroke-width="1.4" stroke-linecap="square"/><path d="M1417.4 2235.5L1421.2 2239.5L1425.0 2235.5" fill="none" stroke="#fff" stroke-width="1.4" stroke-linecap="square"/><path d="M1417.4 2327.5L1421.2 2331.5L1425.0 2327.5" fill="none" stroke="#fff" stroke-width="1.4" stroke-linecap="square"/><path d="M1417.4 2419.5L1421.2 2423.5L1425.0 2419.5" fill="none" stroke="#fff" stroke-width="1.4" stroke-linecap="square"/></svg>
<div class="t" style="top:2489.00px;font-size:20.2px;color:#333;letter-spacing:0.677px;left:500.50px;-webkit-text-stroke:0.7px #333;">Average value</div>
<div class="t" style="top:2483.00px;font-size:33.8px;color:#333;font-weight:700;letter-spacing:-0.051px;right:500.45px;">14.16</div>
<div class="b" style="left:470px;top:2529px;width:980px;height:58px;background:#f0efee"></div>
<div class="t" style="top:2540.00px;font-size:14px;color:#555;letter-spacing:0.109px;left:500.50px;">φ L</div>
<div class="t" style="top:2560.00px;font-size:17.2px;color:#333;font-weight:700;letter-spacing:0.294px;left:500.50px;">166.22</div>
<div class="t" style="top:2540.00px;font-size:14px;color:#555;letter-spacing:-0.383px;left:730.50px;">φ R</div>
<div class="t" style="top:2560.00px;font-size:17.2px;color:#333;font-weight:700;letter-spacing:0.294px;left:730.50px;">173.60</div>
<div class="t" style="top:2540.00px;font-size:14px;color:#555;letter-spacing:-0.045px;right:730.34px;">(+)339.82</div>
<div class="t" style="top:2560.00px;font-size:17.2px;color:#333;font-weight:700;letter-spacing:0.576px;right:729.72px;">(/)0.96</div>
<div class="t" style="top:2540.00px;font-size:14px;color:#555;letter-spacing:1.141px;right:499.16px;">Norm</div>
<div class="t" style="top:2560.00px;font-size:17.2px;color:#333;font-weight:700;letter-spacing:0.190px;right:500.11px;">0.9-1.1</div>
<div class="t" style="top:2598.00px;font-size:14px;color:#555;letter-spacing:0.505px;left:500.50px;">Left</div>
<div class="t" style="top:2618.00px;font-size:17.2px;color:#333;font-weight:700;letter-spacing:0.294px;left:500.50px;">155.86</div>
<div class="t" style="top:2598.00px;font-size:14px;color:#555;letter-spacing:0.168px;left:730.50px;">Right</div>
<div class="t" style="top:2618.00px;font-size:17.2px;color:#333;font-weight:700;letter-spacing:0.294px;left:730.50px;">183.96</div>
<div class="t" style="top:2598.00px;font-size:14px;color:#555;letter-spacing:-0.352px;right:730.65px;">L/R</div>
<div class="t" style="top:2618.00px;font-size:17.2px;color:#333;font-weight:700;letter-spacing:0.312px;right:729.99px;">0.85</div>
<div class="t" style="top:2598.00px;font-size:14px;color:#555;letter-spacing:1.141px;right:499.16px;">Norm</div>
<div class="t" style="top:2618.00px;font-size:17.2px;color:#333;font-weight:700;letter-spacing:0.190px;right:500.11px;">0.9-1.2</div>
<div class="b" style="left:470px;top:2645px;width:980px;height:58px;background:#f0efee"></div>
<div class="t" style="top:2656.00px;font-size:14px;color:#555;letter-spacing:0.875px;left:500.50px;">Up</div>
<div class="t" style="top:2676.00px;font-size:17.2px;color:#333;font-weight:700;letter-spacing:0.294px;left:500.50px;">237.01</div>
<div class="t" style="top:2656.00px;font-size:14px;color:#555;letter-spacing:0.740px;left:730.50px;">Down</div>
<div class="t" style="top:2676.00px;font-size:17.2px;color:#333;font-weight:700;letter-spacing:0.294px;left:730.50px;">102.81</div>
<div class="t" style="top:2656.00px;font-size:14px;color:#555;letter-spacing:0.721px;right:729.58px;">Up/Down</div>
<div class="t" style="top:2676.00px;font-size:17.2px;color:#333;font-weight:700;letter-spacing:0.312px;right:729.99px;">2.31</div>
<div class="t" style="top:2656.00px;font-size:14px;color:#555;letter-spacing:1.141px;right:499.16px;">Norm</div>
<div class="t" style="top:2676.00px;font-size:17.2px;color:#333;font-weight:700;letter-spacing:0.190px;right:500.11px;">0.9-1.2</div>
<div class="t" style="top:2714.00px;font-size:14px;color:#555;letter-spacing:-0.266px;left:500.50px;">L2</div>
<div class="t" style="top:2734.00px;font-size:17.2px;color:#333;font-weight:700;letter-spacing:0.539px;left:500.50px;">11.06</div>
<div class="t" style="top:2714.00px;font-size:14px;color:#555;letter-spacing:-0.266px;left:730.50px;">L1</div>
<div class="t" style="top:2734.00px;font-size:17.2px;color:#333;font-weight:700;letter-spacing:0.312px;left:730.50px;">7.99</div>
<div class="t" style="top:2714.00px;font-size:14px;color:#555;letter-spacing:0.422px;right:729.88px;">H1</div>
<div class="t" style="top:2734.00px;font-size:17.2px;color:#333;font-weight:700;letter-spacing:0.539px;right:729.76px;">21.11</div>
<div class="t" style="top:2714.00px;font-size:14px;color:#555;letter-spacing:0.422px;right:499.88px;">H2</div>
<div class="t" style="top:2734.00px;font-size:17.2px;color:#333;font-weight:700;letter-spacing:0.301px;right:500.00px;">17.63</div>
<div class="t" style="top:2798.00px;font-size:18px;color:#111;font-weight:700;letter-spacing:0.513px;left:500.50px;">Recommendations</div>
<div class="hl" style="top:2831px;background:#ececec"></div>
<div class="t" style="top:2880.00px;font-size:16.8px;color:#3636e2;font-weight:700;letter-spacing:0.215px;left:130.61px;width:1200px;text-align:center;">Pancreas and Spleen</div>
<div class="t" style="top:2990.00px;font-size:14px;color:#00bf5a;left:130.00px;width:1200px;text-align:center;">N</div>
<div class="t" style="top:3051.00px;font-size:14.4px;color:#3636e2;right:1233.80px;opacity:.9;">3</div>
<div class="t" style="top:3026.00px;font-size:14.4px;color:#3636e2;left:773.50px;opacity:.9;">3</div>
<div class="t" style="top:3080.00px;font-size:14.4px;color:#3636e2;letter-spacing:0.828px;right:1232.97px;opacity:.9;">left</div>
<div class="t" style="top:3080.00px;font-size:14.4px;color:#3636e2;letter-spacing:0.824px;left:773.50px;opacity:.9;">right</div>
<div class="t" style="top:3120.00px;font-size:13.6px;color:#3636e2;font-weight:700;letter-spacing:0.293px;left:130.15px;width:1200px;text-align:center;">Insufficiency</div>
<div class="t" style="top:2880.00px;font-size:16.8px;color:#ff552d;font-weight:700;letter-spacing:0.020px;left:590.51px;width:1200px;text-align:center;">Colon</div>
<div class="t" style="top:2990.00px;font-size:14px;color:#00bf5a;left:590.00px;width:1200px;text-align:center;">N</div>
<div class="t" style="top:3000.00px;font-size:14.4px;color:#ff552d;letter-spacing:0.453px;right:773.35px;opacity:.9;">20</div>
<div class="t" style="top:2981.00px;font-size:14.4px;color:#ff552d;letter-spacing:0.453px;left:1233.50px;opacity:.9;">33</div>
<div class="t" style="top:3080.00px;font-size:14.4px;color:#ff552d;letter-spacing:0.828px;right:772.97px;opacity:.9;">left</div>
<div class="t" style="top:3080.00px;font-size:14.4px;color:#ff552d;letter-spacing:0.824px;left:1233.50px;opacity:.9;">right</div>
<div class="t" style="top:3120.00px;font-size:13.6px;color:#ff552d;font-weight:700;letter-spacing:0.527px;left:590.26px;width:1200px;text-align:center;">Hyperactivity</div>
<div class="t" style="top:3189.00px;font-size:14.4px;color:#111;letter-spacing:0.385px;left:360.19px;width:1200px;text-align:center;">The organ that is most often in the greatest insufficiency requires the greatest attention.</div>
<div class="t" style="top:3208.00px;font-size:14.4px;color:#111;letter-spacing:0.335px;left:360.17px;width:1200px;text-align:center;">An organ in a state of hyperactivity is compensatory; your observation is recommended. As a rule, no action is required.</div>
<div class="t" style="top:3246.00px;font-size:14.4px;color:#111;letter-spacing:0.310px;left:360.15px;width:1200px;text-align:center;">If you observe an organ metric below 15% for several days, you should consult a doctor.</div>
<div class="hl" style="top:3297px;background:#ececec"></div>
<div class="t" style="top:3336.00px;font-size:16.8px;color:#1d1d1d;letter-spacing:0.948px;left:559.50px;-webkit-text-stroke:0.62px #1d1d1d;">Insufficiency</div>
<div class="hl" style="top:3387px;background:#ececec"></div>
<div class="t" style="top:3426.00px;font-size:16.8px;color:#1d1d1d;letter-spacing:1.078px;left:559.50px;-webkit-text-stroke:0.62px #1d1d1d;">Hyperactivity</div>
<div class="hl" style="top:3477px;background:#ececec"></div>
<div class="t" style="top:3512.00px;font-size:16.8px;color:#1d1d1d;letter-spacing:1.292px;left:559.50px;-webkit-text-stroke:0.62px #1d1d1d;">Diet</div>
<div class="hl" style="top:3558px;background:#ececec"></div>
<div class="t" style="top:3593.00px;font-size:16.8px;color:#1d1d1d;letter-spacing:1.072px;left:559.50px;-webkit-text-stroke:0.62px #1d1d1d;">Dietary recommendations</div>
<div class="hl" style="top:3639px;background:#ececec"></div>
<div class="t" style="top:3674.00px;font-size:16.8px;color:#1d1d1d;letter-spacing:0.719px;left:559.50px;-webkit-text-stroke:0.62px #1d1d1d;">Food</div>
<div class="hl" style="top:3720px;background:#ececec"></div>
<div class="t" style="top:3755.00px;font-size:16.8px;color:#1d1d1d;letter-spacing:0.586px;left:559.50px;-webkit-text-stroke:0.62px #1d1d1d;">Exclude</div>
<div class="hl" style="top:3801px;background:#ececec"></div>
<div class="t" style="top:3836.00px;font-size:16.8px;color:#1d1d1d;letter-spacing:0.986px;left:559.50px;-webkit-text-stroke:0.62px #1d1d1d;">General recommendations</div>
<div class="hl" style="top:3882px;background:#ececec"></div>
<div class="t" style="top:3917.00px;font-size:16.8px;color:#1d1d1d;letter-spacing:0.546px;left:559.50px;-webkit-text-stroke:0.62px #1d1d1d;">Physical exercise</div>
<div class="hl" style="top:3963px;background:#ececec"></div>
<div class="t" style="top:3998.00px;font-size:16.8px;color:#1d1d1d;letter-spacing:1.096px;left:559.50px;-webkit-text-stroke:0.62px #1d1d1d;">Additional recommendations</div>
<svg style="left:0;top:2840px" width="1920" height="1300" viewBox="0 2840 1920 1300"><path transform="translate(730.0 2933.0) scale(1.830)" d="M-9.7 -10.4C-9.2 -10.4 -8.5 -10.3 -7.6 -9.9C-6.6 -9.4 -5 -8.4 -4 -7.9C-3 -7.4 -2.4 -7.4 -1.5 -7C-0.6 -6.5 0.5 -5.6 1.5 -5.2C2.5 -4.7 3.6 -4.6 4.6 -4.2C5.5 -3.8 6.5 -3.4 7.3 -2.8C8.1 -2.3 8.8 -1.6 9.2 -0.9C9.7 -0.1 10 0.8 10.2 1.6C10.4 2.4 10.7 3.3 10.6 4.1C10.6 4.9 10.2 5.8 9.8 6.6C9.4 7.4 9 8.2 8.4 8.8C7.8 9.4 6.9 9.8 6.2 10C5.5 10.3 4.7 10.4 4 10.3C3.3 10.2 2.4 10 1.8 9.6C1.1 9.2 0.5 8.5 0.1 7.9C-0.2 7.4 -0.4 6.8 -0.4 6.3C-0.4 5.7 -0 5 0.3 4.6C0.6 4.2 1.6 4.3 1.5 3.9C1.4 3.6 0.2 2.9 -0.4 2.4C-1 2 -1.5 1.8 -2.1 1.3C-2.6 0.9 -3.1 0.3 -3.7 -0.3C-4.3 -1 -4.9 -1.8 -5.7 -2.5C-6.4 -3.2 -7.7 -3.9 -8.4 -4.5C-9.2 -5.1 -9.7 -5.5 -10.1 -6.1C-10.4 -6.8 -10.6 -7.7 -10.6 -8.3C-10.7 -9 -10.5 -9.5 -10.3 -9.9C-10.2 -10.2 -10.1 -10.4 -9.7 -10.4ZM-7.3 -6.8C-7 -6.5 -6.1 -5.5 -5.4 -5C-4.6 -4.5 -3.7 -4.2 -2.9 -3.8C-2.1 -3.4 -1.3 -2.9 -0.4 -2.5C0.5 -2.2 1.6 -2.1 2.3 -1.7C3.1 -1.3 3.4 -0.5 4 -0.1C4.6 0.4 5.3 0.5 5.7 1C6 1.6 6.1 2.6 6.2 3.5C6.3 4.5 6.3 6.1 6.3 6.6M-3.6 -5.7L-2.9 -3.9M-3.2 -1.7L-2.3 -3.1M1.8 -3L2.6 -1.3M0.1 0.2L2.3 -0.9M6.2 -1L5.8 1M3.4 3L5.7 1.9M7.6 2.4L6.3 4.4M2.9 5.3L5.9 4.4" stroke="#3636e2" fill="none" stroke-width="1.09" stroke-linecap="round" stroke-linejoin="round"/><rect x="692" y="3048.1" width="12" height="47.5" rx="6" fill="#3636e2"/><rect x="724" y="3006.0" width="12" height="89.6" rx="6" fill="#00bf5a"/><rect x="756" y="3023.2" width="12" height="72.4" rx="6" fill="#3636e2"/><path transform="translate(1190.0 2933.0) scale(1.830)" d="M-8.1 -9.2C-8 -9.4 -8.3 -9.7 -8.2 -9.9C-8.2 -10.1 -8 -10.4 -7.8 -10.5C-7.6 -10.5 -7.3 -10.5 -7.1 -10.5C-6.9 -10.4 -6.7 -10.1 -6.5 -10.1C-6.3 -10.1 -6.1 -10.5 -5.9 -10.6C-5.7 -10.7 -5.5 -10.7 -5.3 -10.7C-5.1 -10.7 -4.9 -10.6 -4.7 -10.4C-4.5 -10.3 -4.4 -9.9 -4.2 -9.9C-4 -9.9 -3.7 -10.2 -3.5 -10.3C-3.3 -10.3 -3.1 -10.4 -2.9 -10.4C-2.7 -10.3 -2.6 -10.2 -2.4 -10.1C-2.2 -10 -2 -9.6 -1.8 -9.6C-1.6 -9.6 -1.4 -10 -1.2 -10.1C-1 -10.2 -0.8 -10.3 -0.6 -10.3C-0.4 -10.4 -0.2 -10.3 -0 -10.2C0.2 -10.2 0.4 -9.8 0.6 -9.9C0.8 -9.9 1 -10.3 1.2 -10.4C1.3 -10.6 1.5 -10.7 1.7 -10.7C1.9 -10.7 2.1 -10.7 2.3 -10.6C2.5 -10.5 2.8 -10.2 3 -10.2C3.2 -10.2 3.3 -10.6 3.5 -10.7C3.7 -10.8 4 -10.8 4.2 -10.8C4.4 -10.8 4.6 -10.7 4.7 -10.6C4.9 -10.4 5 -10 5.2 -10C5.4 -10 5.7 -10.2 5.9 -10.3C6.1 -10.3 6.4 -10.3 6.6 -10.2C6.8 -10.1 6.9 -9.9 7 -9.7C7.1 -9.5 7 -9.2 7.1 -9C7.2 -8.8 7.6 -8.8 7.7 -8.7C7.9 -8.6 8 -8.3 8.1 -8.1C8.1 -8 8.1 -7.7 8 -7.5C7.9 -7.3 7.6 -7 7.7 -6.8C7.7 -6.7 8.1 -6.6 8.3 -6.4C8.5 -6.3 8.6 -6.2 8.7 -6C8.8 -5.8 8.9 -5.6 8.8 -5.3C8.8 -5.1 8.5 -4.9 8.5 -4.7C8.5 -4.5 8.8 -4.3 8.9 -4.1C8.9 -3.9 8.9 -3.6 8.8 -3.4C8.7 -3.3 8.5 -3.1 8.3 -3C8.1 -2.9 7.7 -2.9 7.6 -2.8C7.5 -2.6 7.7 -2.2 7.6 -2C7.5 -1.8 7.4 -1.6 7.3 -1.4C7.1 -1.3 6.7 -1.3 6.5 -1.4C6.3 -1.5 6.3 -1.9 6.1 -2C5.9 -2.1 5.6 -1.8 5.4 -1.9C5.1 -1.9 4.9 -2 4.8 -2.2C4.6 -2.3 4.5 -2.6 4.5 -2.8C4.6 -3 4.9 -3.2 4.9 -3.4C4.9 -3.6 4.7 -3.9 4.6 -4.1C4.5 -4.3 4.5 -4.5 4.5 -4.7C4.6 -4.9 4.7 -5 4.7 -5.2C4.8 -5.4 5 -5.7 5 -5.9C4.9 -6.1 4.5 -6.1 4.3 -6.2C4.1 -6.3 3.9 -6.3 3.8 -6.4C3.6 -6.5 3.5 -6.7 3.4 -6.9C3.2 -7 3 -7.4 2.8 -7.4C2.7 -7.4 2.5 -7 2.3 -6.9C2.1 -6.8 1.9 -6.7 1.7 -6.6C1.5 -6.6 1.3 -6.6 1.1 -6.7C0.9 -6.8 0.6 -7.1 0.4 -7.1C0.2 -7 0.1 -6.7 -0.1 -6.6C-0.3 -6.5 -0.5 -6.4 -0.7 -6.4C-0.9 -6.4 -1.1 -6.5 -1.3 -6.6C-1.5 -6.7 -1.7 -7 -1.9 -7C-2.1 -7 -2.3 -6.7 -2.5 -6.6C-2.7 -6.5 -2.9 -6.4 -3.1 -6.5C-3.3 -6.5 -3.5 -6.5 -3.7 -6.7C-3.9 -6.8 -4 -7.1 -4.2 -7.2C-4.4 -7.3 -4.7 -7 -4.9 -7C-5 -7 -5 -7.1 -5 -7C-5 -6.9 -5 -6.8 -5.1 -6.6C-5.1 -6.4 -5.4 -6 -5.3 -5.8C-5.2 -5.7 -4.8 -5.6 -4.7 -5.5C-4.5 -5.3 -4.4 -5.1 -4.3 -4.9C-4.2 -4.7 -4.3 -4.5 -4.3 -4.3C-4.4 -4.1 -4.7 -3.9 -4.8 -3.7C-4.8 -3.5 -4.5 -3.3 -4.4 -3.1C-4.4 -2.8 -4.4 -2.6 -4.4 -2.4C-4.5 -2.2 -4.6 -2.1 -4.8 -1.9C-4.9 -1.8 -5.3 -1.6 -5.4 -1.4C-5.4 -1.2 -5 -1 -4.9 -0.8C-4.8 -0.6 -4.7 -0.4 -4.7 -0.2C-4.6 -0.1 -4.7 0.1 -4.7 0.4C-4.8 0.6 -5 0.9 -4.9 1.1C-4.9 1.2 -4.4 1.3 -4.2 1.3C-4 1.4 -4 1.3 -3.8 1.3C-3.6 1.3 -3.4 1.4 -3.2 1.4C-3 1.5 -2.7 1.7 -2.5 1.7C-2.3 1.6 -2.2 1.2 -2.1 1.1C-2 0.9 -1.9 0.7 -1.7 0.6C-1.6 0.5 -1.3 0.4 -1.1 0.4C-0.9 0.5 -0.9 0.8 -0.7 0.9C-0.5 1 -0.2 0.9 0 1C0.2 1 0.5 1.2 0.6 1.3C0.7 1.5 0.8 1.7 0.7 2C0.7 2.2 0.5 2.4 0.5 2.6C0.6 2.9 0.8 3 0.8 3.2C0.8 3.4 0.7 3.6 0.6 3.8C0.4 3.9 0.3 4 0.1 4.1C-0 4.3 -0.4 4.4 -0.4 4.6C-0.5 4.8 -0.1 5 -0 5.2C0.1 5.4 0.2 5.6 0.2 5.8C0.2 6 0.1 6.2 -0 6.4C-0.1 6.6 -0.5 6.8 -0.5 7C-0.5 7.2 -0.1 7.4 -0 7.6C0.1 7.8 0.1 8 0.1 8.2C0.1 8.5 -0.1 8.7 -0.2 8.8C-0.4 9 -0.8 9 -0.8 9.2C-0.9 9.4 -0.7 9.7 -0.7 9.9C-0.7 10.2 -0.8 10.4 -1 10.6C-1.1 10.7 -1.6 10.8 -1.7 10.7C-1.9 10.6 -1.7 10.2 -1.8 10C-1.9 9.8 -2.3 9.8 -2.4 9.7C-2.6 9.5 -2.7 9.3 -2.8 9.1C-2.9 8.9 -2.8 8.7 -2.8 8.5C-2.7 8.3 -2.4 8 -2.4 7.8C-2.4 7.6 -2.8 7.5 -2.9 7.3C-3 7.1 -3.1 6.9 -3.1 6.7C-3.1 6.5 -3.1 6.3 -3 6.1C-2.9 5.9 -2.6 5.6 -2.7 5.4C-2.7 5.3 -3.1 5.1 -3.3 5C-3.5 4.9 -3.6 4.9 -3.7 4.8C-3.9 4.8 -4 4.7 -4.1 4.6C-4.3 4.5 -4.6 4.3 -4.8 4.3C-5 4.3 -5.1 4.7 -5.3 4.9C-5.5 5 -5.7 5.1 -5.9 5.1C-6.1 5.1 -6.4 4.9 -6.5 4.7C-6.7 4.5 -6.5 4.1 -6.7 4C-6.8 3.8 -7.2 3.9 -7.4 3.8C-7.6 3.7 -7.7 3.5 -7.8 3.3C-7.9 3.1 -7.9 2.9 -7.9 2.6C-7.8 2.4 -7.5 2.2 -7.6 2C-7.6 1.8 -8 1.7 -8.1 1.5C-8.3 1.3 -8.4 1.1 -8.4 0.9C-8.4 0.7 -8.4 0.5 -8.3 0.3C-8.2 0.1 -7.9 -0.1 -7.9 -0.3C-7.9 -0.5 -8.3 -0.7 -8.4 -0.9C-8.4 -1.1 -8.5 -1.4 -8.4 -1.6C-8.3 -1.8 -8.1 -2 -7.9 -2.1C-7.7 -2.2 -7.3 -2.2 -7.2 -2.4C-7.1 -2.5 -7.3 -2.9 -7.4 -3.1C-7.5 -3.3 -7.6 -3.4 -7.7 -3.5C-7.7 -3.7 -7.8 -3.9 -7.8 -4.1C-7.8 -4.3 -7.7 -4.6 -7.8 -4.8C-7.9 -5 -8.3 -5 -8.4 -5.1C-8.6 -5.3 -8.7 -5.5 -8.8 -5.7C-8.8 -5.9 -8.7 -6.1 -8.7 -6.3C-8.6 -6.5 -8.2 -6.7 -8.3 -6.9C-8.3 -7.1 -8.6 -7.3 -8.7 -7.5C-8.8 -7.7 -8.9 -7.9 -8.9 -8.1C-8.9 -8.3 -8.8 -8.5 -8.7 -8.7C-8.5 -8.9 -8.2 -9 -8.1 -9.2Z" stroke="#ff552d" fill="none" stroke-width="1.09" stroke-linecap="round" stroke-linejoin="round"/><rect x="1152" y="2996.8" width="12" height="98.8" rx="6" fill="#ff552d"/><rect x="1184" y="3006.0" width="12" height="89.6" rx="6" fill="#00bf5a"/><rect x="1216" y="2978.0" width="12" height="117.6" rx="6" fill="#ff552d"/><path d="M1417.3 3341.1L1421.1 3345.1L1424.8999999999999 3341.1" fill="none" stroke="#111" stroke-width="1.5" stroke-linecap="square"/><path d="M1417.3 3431.1L1421.1 3435.1L1424.8999999999999 3431.1" fill="none" stroke="#111" stroke-width="1.5" stroke-linecap="square"/><path d="M1417.3 3516.2L1421.1 3520.2L1424.8999999999999 3516.2" fill="none" stroke="#111" stroke-width="1.5" stroke-linecap="square"/><path d="M1417.3 3597.2L1421.1 3601.2L1424.8999999999999 3597.2" fill="none" stroke="#111" stroke-width="1.5" stroke-linecap="square"/><path d="M1417.3 3678.2L1421.1 3682.2L1424.8999999999999 3678.2" fill="none" stroke="#111" stroke-width="1.5" stroke-linecap="square"/><path d="M1417.3 3759.2L1421.1 3763.2L1424.8999999999999 3759.2" fill="none" stroke="#111" stroke-width="1.5" stroke-linecap="square"/><path d="M1417.3 3840.2L1421.1 3844.2L1424.8999999999999 3840.2" fill="none" stroke="#111" stroke-width="1.5" stroke-linecap="square"/><path d="M1417.3 3921.2L1421.1 3925.2L1424.8999999999999 3921.2" fill="none" stroke="#111" stroke-width="1.5" stroke-linecap="square"/><path d="M1417.3 4002.2L1421.1 4006.2L1424.8999999999999 4002.2" fill="none" stroke="#111" stroke-width="1.5" stroke-linecap="square"/><path d="M504.6 3321.1C506 3321.3 509.4 3322.7 511.7 3323.6C514 3324.6 516 3325.7 518.3 3326.7C520.6 3327.7 523.5 3328.6 525.4 3329.7C527.2 3330.8 528.5 3331.7 529.4 3333.2C530.3 3334.7 530.7 3337 530.7 3338.8C530.6 3340.6 529.8 3342.5 528.9 3343.8C528 3345.2 526.6 3346.2 525.4 3346.9C524.1 3347.5 522.6 3347.8 521.3 3347.6C520.1 3347.5 518.6 3346.7 517.8 3345.9C516.9 3345.1 516.3 3343.8 516.3 3342.8C516.2 3341.9 516.8 3340.9 517.3 3340.3C517.8 3339.7 519.5 3339.8 519.3 3339.3C519.1 3338.8 517.4 3338 516.3 3337.3C515.2 3336.5 513.7 3335.7 512.7 3334.7C511.7 3333.8 511.2 3332.6 510.2 3331.7C509.2 3330.8 507.7 3330.2 506.7 3329.2C505.6 3328.2 504.4 3326.8 503.9 3325.7C503.3 3324.6 503.3 3323.4 503.4 3322.6C503.5 3321.9 503.3 3320.9 504.6 3321.1ZM507.7 3325.7C508.4 3326.2 510.3 3328.1 512.2 3329.2C514.2 3330.3 517.3 3331 519.3 3332.2C521.3 3333.5 523.3 3335.1 524.3 3336.8C525.4 3338.5 525.2 3341.4 525.4 3342.3M512.2 3327.2L512.7 3329.4M513.2 3332.2L514 3330.2M519.3 3330.2L519.8 3332.7M517.3 3334.7L520.3 3333.2M524.6 3333.2L524.3 3336.8M521.3 3337.8L523.8 3337.3M526.9 3337.5L525.4 3339.8M520.3 3341.6L524.8 3340.3M509.7 3350.2L503.6 3355.7M503.4 3351.4L503.5 3355.8L508.4 3355.8M518.8 3351.2L514.5 3355.5M512.7 3357.2L506.6 3363.1M506.4 3358.5L506.5 3363.3L511.2 3363.3M528.6 3351.2L524.3 3355.5M522.3 3357.5L515.9 3363.3M515.8 3358.7L515.8 3363.3L520.6 3363.3" fill="none" stroke="#3d3dea" stroke-width="1" stroke-linecap="round" stroke-linejoin="round"/><path d="M506.8 3428.6C507 3428.4 507.1 3428.1 507.2 3428C507.4 3427.8 507.6 3427.8 507.9 3427.7C508.1 3427.7 508.3 3427.8 508.5 3427.9C508.7 3428 508.9 3428.3 509.1 3428.3C509.3 3428.3 509.5 3428 509.7 3427.9C509.9 3427.8 510.1 3427.7 510.4 3427.7C510.6 3427.7 510.8 3427.8 511 3427.9C511.2 3428 511.4 3428.4 511.6 3428.4C511.8 3428.4 512 3428.1 512.2 3428C512.4 3427.9 512.6 3427.9 512.8 3427.9C513.1 3427.9 513.3 3428 513.5 3428.1C513.7 3428.2 513.8 3428.5 514 3428.5C514.3 3428.6 514.5 3428.2 514.7 3428.1C514.9 3428.1 515.1 3428 515.3 3428C515.5 3428 515.7 3428.1 515.9 3428.2C516.1 3428.3 516.4 3428.6 516.6 3428.6C516.8 3428.5 516.9 3428.2 517.1 3428.1C517.3 3428 517.5 3427.9 517.7 3427.8C517.9 3427.8 518.1 3427.8 518.4 3427.9C518.6 3428 518.8 3428.2 519 3428.2C519.2 3428.2 519.4 3427.8 519.6 3427.7C519.8 3427.6 520 3427.4 520.2 3427.4C520.4 3427.4 520.6 3427.4 520.8 3427.5C521 3427.6 521.3 3427.9 521.5 3427.9C521.7 3427.8 521.9 3427.5 522.1 3427.4C522.3 3427.3 522.5 3427.2 522.7 3427.3C522.9 3427.3 523.1 3427.4 523.3 3427.5C523.5 3427.6 523.6 3428 523.9 3428C524.1 3428.1 524.3 3427.8 524.5 3427.7C524.8 3427.7 525 3427.7 525.2 3427.8C525.4 3427.8 525.6 3428 525.7 3428.2C525.9 3428.4 525.8 3428.7 526 3428.8C526.1 3429 526.5 3428.9 526.7 3429C526.9 3429.1 527.1 3429.4 527.1 3429.6C527.2 3429.8 527.2 3430 527.1 3430.2C527.1 3430.4 526.8 3430.7 526.8 3430.9C526.9 3431.1 527.2 3431.3 527.4 3431.5C527.5 3431.6 527.6 3431.9 527.6 3432.1C527.6 3432.3 527.6 3432.5 527.5 3432.7C527.4 3432.9 527.1 3433.1 527.1 3433.3C527.1 3433.6 527.5 3433.7 527.6 3433.9C527.7 3434.1 527.7 3434.4 527.7 3434.6C527.7 3434.8 527.6 3435 527.5 3435.2C527.4 3435.4 527 3435.5 527 3435.7C527 3435.9 527.2 3436.2 527.2 3436.4C527.2 3436.7 527.1 3436.9 527 3437.1C526.9 3437.3 526.7 3437.4 526.5 3437.5C526.2 3437.5 525.9 3437.4 525.7 3437.5C525.5 3437.6 525.6 3438 525.4 3438.2C525.2 3438.3 524.9 3438.4 524.7 3438.4C524.5 3438.4 524.3 3438.2 524.1 3438C524 3437.8 524 3437.4 523.9 3437.3C523.7 3437.2 523.3 3437.3 523.1 3437.2C522.9 3437 522.7 3436.8 522.7 3436.6C522.6 3436.4 522.7 3436.1 522.8 3435.9C522.9 3435.7 523.3 3435.5 523.3 3435.3C523.3 3435.1 523 3434.9 522.8 3434.7C522.7 3434.5 522.7 3434.3 522.6 3434.1C522.6 3433.9 522.6 3433.8 522.5 3433.6C522.5 3433.3 522.6 3433 522.5 3432.8C522.4 3432.7 522 3432.7 521.7 3432.7C521.5 3432.6 521.3 3432.6 521.2 3432.5C521 3432.4 520.8 3432.3 520.7 3432.2C520.5 3432 520.3 3431.7 520.1 3431.6C519.9 3431.6 519.7 3431.9 519.5 3432C519.3 3432.1 519.1 3432.2 518.9 3432.2C518.7 3432.2 518.4 3432.1 518.2 3432C518 3431.9 517.8 3431.6 517.6 3431.6C517.4 3431.6 517.2 3431.9 517 3432C516.8 3432.1 516.6 3432.2 516.4 3432.2C516.2 3432.2 516 3432.1 515.8 3432C515.6 3431.9 515.4 3431.6 515.2 3431.6C515 3431.5 514.7 3431.8 514.5 3431.9C514.3 3432 514.1 3432.1 513.9 3432C513.7 3432 513.5 3431.9 513.3 3431.8C513.1 3431.7 512.9 3431.4 512.7 3431.4C512.5 3431.4 512.3 3431.7 512.1 3431.9C511.9 3432 511.7 3432.1 511.6 3432.2C511.4 3432.3 511.3 3432.3 511.2 3432.4C511 3432.5 510.7 3432.7 510.6 3432.9C510.6 3433.1 511 3433.4 511.1 3433.6C511.2 3433.8 511.3 3433.9 511.3 3434.1C511.4 3434.3 511.3 3434.6 511.3 3434.8C511.2 3435 510.9 3435.3 511 3435.5C511 3435.7 511.4 3435.8 511.5 3436C511.6 3436.2 511.7 3436.4 511.7 3436.6C511.8 3436.8 511.7 3437.1 511.6 3437.3C511.5 3437.5 511.1 3437.6 511.1 3437.8C511.1 3438.1 511.4 3438.3 511.5 3438.5C511.6 3438.7 511.6 3438.9 511.6 3439.1C511.6 3439.3 511.5 3439.5 511.4 3439.7C511.3 3439.9 510.9 3440.1 510.9 3440.3C510.9 3440.5 511.2 3440.8 511.4 3441C511.5 3441.1 511.5 3441.3 511.6 3441.5C511.7 3441.7 511.6 3441.8 511.7 3441.9C511.8 3442.1 512.1 3442.4 512.3 3442.4C512.5 3442.4 512.7 3442.1 512.8 3441.9C513 3441.8 513.2 3441.7 513.4 3441.6C513.6 3441.6 513.8 3441.6 514 3441.7C514.3 3441.7 514.5 3442 514.7 3442C514.9 3441.9 515.1 3441.6 515.3 3441.6C515.5 3441.5 515.8 3441.5 516 3441.6C516.2 3441.7 516.4 3441.9 516.5 3442.1C516.6 3442.3 516.6 3442.6 516.7 3442.8C516.9 3442.9 517.3 3442.8 517.4 3442.9C517.6 3443.1 517.8 3443.3 517.8 3443.5C517.9 3443.7 517.8 3444 517.7 3444.2C517.5 3444.4 517.2 3444.5 517.1 3444.7C517.1 3444.9 517.3 3445.2 517.4 3445.4C517.4 3445.7 517.5 3445.9 517.4 3446.1C517.3 3446.3 517.2 3446.5 517.1 3446.6C516.9 3446.8 516.6 3447 516.5 3447.2C516.5 3447.4 516.8 3447.6 516.8 3447.8C516.9 3448.1 517 3448.3 517 3448.5C516.9 3448.7 516.8 3448.9 516.7 3449.1C516.6 3449.3 516.3 3449.4 516.3 3449.7C516.2 3449.9 516.6 3450.1 516.6 3450.3C516.7 3450.5 516.8 3450.7 516.7 3450.9C516.7 3451.1 516.6 3451.4 516.5 3451.5C516.4 3451.7 516 3451.8 515.9 3452C515.9 3452.2 516.1 3452.5 516.1 3452.8C516 3453 515.9 3453.3 515.7 3453.4C515.5 3453.5 515.1 3453.5 514.9 3453.4C514.7 3453.3 514.8 3452.9 514.7 3452.7C514.5 3452.5 514.2 3452.6 514 3452.5C513.8 3452.3 513.6 3452.1 513.6 3451.9C513.5 3451.7 513.5 3451.5 513.6 3451.3C513.6 3451 513.9 3450.8 513.9 3450.6C513.9 3450.4 513.6 3450.2 513.4 3450C513.3 3449.8 513.3 3449.6 513.2 3449.4C513.2 3449.2 513.3 3449 513.4 3448.8C513.5 3448.6 513.8 3448.3 513.8 3448.1C513.8 3447.9 513.4 3447.7 513.3 3447.5C513.2 3447.4 513.1 3447.2 513 3447C513 3446.8 513.1 3446.6 513.1 3446.4C513 3446.1 513.1 3445.7 513 3445.6C512.9 3445.5 512.4 3445.8 512.2 3445.8C512 3445.9 511.9 3446.1 511.7 3446.1C511.5 3446.1 511.3 3446.1 511 3446.1C510.8 3446 510.5 3445.8 510.3 3445.8C510.1 3445.9 510 3446.3 509.8 3446.4C509.6 3446.5 509.2 3446.5 509 3446.5C508.8 3446.4 508.7 3446.1 508.6 3445.9C508.5 3445.7 508.7 3445.3 508.6 3445.2C508.5 3445 508.2 3444.9 508 3444.8C507.8 3444.6 507.7 3444.5 507.6 3444.3C507.6 3444.1 507.6 3443.8 507.6 3443.6C507.6 3443.4 507.9 3443.1 507.8 3442.9C507.8 3442.7 507.4 3442.6 507.3 3442.4C507.2 3442.2 507.1 3442 507 3441.8C507 3441.6 507.1 3441.4 507.1 3441.1C507.2 3440.9 507.5 3440.7 507.5 3440.5C507.5 3440.3 507.1 3440.1 507 3439.9C506.9 3439.7 506.8 3439.5 506.8 3439.3C506.7 3439.1 506.8 3438.9 506.9 3438.7C506.9 3438.5 507.2 3438.2 507.2 3438C507.2 3437.8 506.8 3437.6 506.7 3437.5C506.6 3437.3 506.5 3437.1 506.5 3436.8C506.5 3436.6 506.5 3436.4 506.6 3436.2C506.7 3436 507 3435.8 507 3435.6C507 3435.4 506.6 3435.2 506.5 3435C506.4 3434.8 506.3 3434.6 506.3 3434.4C506.3 3434.2 506.3 3434 506.4 3433.7C506.5 3433.5 506.8 3433.3 506.8 3433.1C506.8 3432.9 506.5 3432.7 506.4 3432.5C506.3 3432.3 506.2 3432.1 506.2 3431.9C506.2 3431.7 506.2 3431.5 506.3 3431.3C506.4 3431.1 506.7 3430.8 506.7 3430.6C506.7 3430.4 506.4 3430.2 506.3 3430C506.2 3429.8 506.1 3429.6 506.1 3429.4C506 3429.2 506.1 3428.9 506.2 3428.8C506.3 3428.6 506.6 3428.7 506.8 3428.6ZM505.9 3423.5L510.5 3419.4M512.2 3417.4L517.8 3412M513.5 3411.7L517.9 3411.8L518 3416.2M515 3423.5L519.5 3419.4M521.3 3417.4L527.1 3412M522.6 3411.7L527.3 3411.8L527.3 3416.2M524.1 3424.7L529.4 3419.3M525.4 3419L529.5 3419.1L529.6 3423.5" fill="none" stroke="#e9154f" stroke-width="1.05" stroke-linecap="round" stroke-linejoin="round"/><path d="M508.3 3502.1C509.6 3502.1 511.1 3503.2 512.2 3504.6C513.3 3506.1 514.5 3508.9 514.7 3510.7C515 3512.6 514.3 3514.5 513.7 3515.8C513.1 3517.1 512.1 3517.9 511.2 3518.5C510.3 3519.1 509.3 3519.3 508.3 3519.3C507.3 3519.3 506.1 3519.1 505.2 3518.5C504.2 3517.9 503.2 3517.1 502.6 3515.8C502.1 3514.5 501.4 3512.6 501.7 3510.7C502 3508.9 503.3 3506.1 504.4 3504.6C505.5 3503.2 507 3502.1 508.3 3502.1ZM508.2 3519.8L508.2 3533.9M521.9 3501.7L521.9 3512.2M521.9 3512.2C522.1 3512.8 522 3514.8 522.8 3515.8C523.7 3516.7 525.6 3517.7 527 3517.7C528.4 3517.7 530.3 3516.7 531.2 3515.8C532 3514.8 532.1 3512.8 532.3 3512.2M532.3 3512.2L532.3 3501.7M527 3501.7L527 3513.7M527 3517.8L527 3533.9" fill="none" stroke="#e8590f" stroke-width="2" stroke-linecap="round" stroke-linejoin="round"/><path d="M506.9 3663.4C507.6 3663.2 512.5 3663.2 513.2 3663.4C514 3663.6 514.1 3664.8 514.1 3665.2C514.2 3665.5 514.2 3667 513.5 3667.2C512.7 3667.4 507.4 3667.4 506.7 3667.2C505.9 3667 506 3665.5 506.1 3665.2C506.1 3664.8 506.2 3663.6 506.9 3663.4ZM506.7 3667.2L506.7 3670.2L513.6 3670.2L513.5 3667.2M506.1 3670.2C505.7 3670.8 504.5 3672.4 504.1 3673.7C503.7 3675.1 503.7 3675.5 503.6 3678.3C503.6 3681.1 503.4 3687.9 503.6 3690.4C503.9 3692.9 504.5 3692.8 505.2 3693.4C505.8 3694.1 507.3 3694.3 507.7 3694.4M513.7 3670.2C514 3670.6 514.8 3671.9 515.3 3672.7C515.7 3673.6 516 3674.4 516.2 3675.3C516.3 3676.1 516.2 3677.3 516.3 3677.7M512.5 3672.2C512.6 3672.7 513 3674.2 513.1 3675.3C513.3 3676.3 513.2 3678 513.2 3678.5M502.1 3669.4L505.8 3668.2M503.1 3665.4L505.8 3666.8M517.0 3669.4a7.4 2.1 0 1 0 14.8 0a7.4 2.1 0 1 0 -14.8 0M518.3 3673.3C518.8 3673.5 520.2 3674.1 521.3 3674.3C522.4 3674.6 523.7 3674.7 524.8 3674.6C526 3674.6 527.4 3674.5 528.4 3674.2C529.4 3674 530.3 3673.5 530.7 3673.3M531.7 3670.2C531.6 3671 531.5 3673.7 531.2 3675.3C530.9 3676.8 530.1 3678.6 529.9 3679.3M517.3 3670.2C517.4 3670.5 517.6 3671.7 517.8 3672.2C517.9 3672.7 518.2 3673.1 518.3 3673.3M509.4 3683.3C509.9 3683 510.7 3681.8 512.2 3681.3C513.7 3680.8 516.5 3680.4 518.3 3680.2C520.1 3680 522 3680 522.8 3680.3C523.7 3680.6 522.9 3681.5 523.3 3681.8C523.8 3682.2 524.5 3682.4 525.4 3682.3C526.2 3682.2 527.3 3681.1 528.4 3681.3C529.4 3681.5 531.1 3683 531.7 3683.3M509.4 3683.3C510 3683.7 511.3 3685 512.7 3685.6C514.2 3686.2 516.6 3686.9 518.3 3687.1C520 3687.4 521.1 3687.4 522.8 3687.1C524.5 3686.9 526.9 3686.2 528.4 3685.6C529.9 3685 531.1 3683.7 531.7 3683.3M509.4 3683.3C509.4 3684.9 509 3691 509.3 3692.9C509.7 3694.9 510.6 3694.4 511.7 3694.9C512.9 3695.5 514.8 3695.9 516.3 3696.2C517.7 3696.5 519 3696.6 520.6 3696.6C522.1 3696.6 523.9 3696.5 525.4 3696.2C526.8 3695.9 528.3 3695.5 529.4 3694.9C530.5 3694.4 531.4 3694.9 531.8 3692.9C532.1 3691 531.7 3684.9 531.7 3683.3M512.2 3684.8C512.7 3684.7 514.4 3684.1 515.3 3684.1C516.1 3684.1 517.1 3684.5 517.5 3684.8C518 3685.2 517.9 3685.9 518 3686.1" fill="none" stroke="#e8590f" stroke-width="1.25" stroke-linecap="round" stroke-linejoin="round"/><path d="M506.7 3830.8L502.1 3830.8L502.1 3856.1L516.5 3856.1M518 3830.8L522.6 3830.8L522.6 3843.3M506.9 3828.8C507.2 3828.5 509.6 3828.9 509.9 3828.8C510.3 3828.6 510.4 3827.2 510.6 3826.9C510.8 3826.6 512 3825.6 512.2 3825.6C512.5 3825.6 513.6 3826.6 513.8 3826.9C514 3827.2 514.2 3828.6 514.5 3828.8C514.8 3828.9 517.3 3828.5 517.5 3828.8C517.8 3829.1 518.5 3832.4 517.6 3832.7C516.7 3833.1 507.8 3833.1 506.9 3832.7C506 3832.4 506.7 3829.1 506.9 3828.8ZM522.6 3845.4C522.3 3845.1 521.5 3844 520.8 3843.6C520.1 3843.2 519.2 3842.8 518.3 3842.9C517.4 3843 516.2 3843.4 515.5 3844.1C514.8 3844.8 514 3846.3 513.8 3847.4C513.6 3848.4 513.8 3849.4 514.2 3850.4C514.6 3851.4 515.4 3852.5 516.3 3853.4C517.1 3854.4 518.2 3855.1 519.3 3856C520.3 3856.8 522 3857.9 522.6 3858.3M522.6 3845.4C522.9 3845.1 523.6 3844 524.3 3843.6C525.1 3843.2 526 3842.8 526.9 3842.9C527.8 3843 528.9 3843.4 529.6 3844.1C530.4 3844.8 531.1 3846.4 531.4 3847.4C531.7 3848.3 531.5 3849.5 531.5 3849.9M522.6 3858.3L529.1 3853M518.3 3851L520.9 3851L522.3 3847.6L524.3 3852.5L526.1 3849.4L527.5 3851L531.9 3851" fill="none" stroke="#e8590f" stroke-width="1.9" stroke-linejoin="round" stroke-linecap="butt"/><g><path d="M508.2 3583.2H521.9L529.1 3590.3999999999996V3611.1a3.2 3.2 0 0 1 -3.2 3.2H508.2a3.2 3.2 0 0 1 -3.2 -3.2V3586.3999999999996a3.2 3.2 0 0 1 3.2 -3.2z" fill="none" stroke="#e8590f" stroke-width="1.65" stroke-linejoin="round"/><path d="M509.8 3605.2999999999997H524.4M509.8 3608.2999999999997H524.4" stroke="#f6b99a" stroke-width="0.9" fill="none"/><path d="M511.4 3590.2999999999997v3.2a2.1 2.1 0 0 0 4.2 0v-3.2M513.5 3590.2999999999997v11.8" fill="none" stroke="#e8590f" stroke-width="0.8"/><ellipse cx="520.2" cy="3593.7" rx="2.6" ry="3.1" fill="none" stroke="#e8590f" stroke-width="0.8"/><path d="M520.2 3596.7999999999997v5.3" stroke="#e8590f" stroke-width="0.8"/></g><g><path d="M508.2 3745.2H521.9L529.1 3752.3999999999996V3773.1a3.2 3.2 0 0 1 -3.2 3.2H508.2a3.2 3.2 0 0 1 -3.2 -3.2V3748.3999999999996a3.2 3.2 0 0 1 3.2 -3.2z" fill="none" stroke="#e8590f" stroke-width="1.65" stroke-linejoin="round"/><path d="M509.8 3767.2999999999997H524.4M509.8 3770.2999999999997H524.4" stroke="#f6b99a" stroke-width="0.9" fill="none"/><path d="M512.3 3752.2l9.3 9.1M521.6 3752.2l-9.3 9.1" stroke="#e8590f" stroke-width="1.1" fill="none" stroke-linecap="round"/></g><g><path d="M508.2 3907.3H521.9L529.1 3914.5V3935.2000000000003a3.2 3.2 0 0 1 -3.2 3.2H508.2a3.2 3.2 0 0 1 -3.2 -3.2V3910.5a3.2 3.2 0 0 1 3.2 -3.2z" fill="none" stroke="#e8590f" stroke-width="1.65" stroke-linejoin="round"/><path d="M509.8 3929.4H524.4M509.8 3932.4H524.4" stroke="#f6b99a" stroke-width="0.9" fill="none"/><circle cx="516.9" cy="3913.4" r="1.1" fill="#e8590f"/><path d="M512.3 3915.8h9.4" stroke="#f09468" stroke-width="1.5"/><path d="M516.9 3915.4v4.5l-3.7 5M516.9 3919.9l3.7 5" stroke="#e8590f" stroke-width="1.5" fill="none" stroke-linecap="round"/></g><g><path d="M508.2 3988.3H521.9L529.1 3995.5V4016.2000000000003a3.2 3.2 0 0 1 -3.2 3.2H508.2a3.2 3.2 0 0 1 -3.2 -3.2V3991.5a3.2 3.2 0 0 1 3.2 -3.2z" fill="none" stroke="#e8590f" stroke-width="1.65" stroke-linejoin="round"/><path d="M509.8 4010.4H524.4M509.8 4013.4H524.4" stroke="#f6b99a" stroke-width="0.9" fill="none"/><circle cx="516.7" cy="3999.2000000000003" r="5.5" fill="#e8590f"/><path d="M513.2 3999.0l2.9 2.6l4.6-4.6" stroke="#fff" stroke-width="0.9" fill="none"/></g><path d="M470 4044.5H1450V4124.5a4 4 0 0 1 -4 4H474a4 4 0 0 1 -4 -4z" fill="#ff0000"/><circle cx="517" cy="4087" r="14" fill="#fff"/><path d="M515.3 4080h3.5l-0.5 8.9h-2.5z" fill="#ff0000"/><rect x="515.4" y="4091.2" width="3.3" height="2.8" fill="#ff0000"/></svg>
<div class="t" style="top:4064.00px;font-size:12.8px;color:#fff;letter-spacing:0.284px;left:559.40px;">Always seek the advice of your physician or other qualified health care provider with any questions you may have regarding a medical condition</div>
<div class="t" style="top:4082.00px;font-size:12.8px;color:#fff;letter-spacing:0.242px;left:559.40px;">or treatment and before undertaking a new health care regimen, and never disregard professional medical advice or delay in seeking it because</div>
<div class="t" style="top:4100.00px;font-size:12.8px;color:#fff;letter-spacing:0.280px;left:559.40px;">of something you have read on this ...</div>
</div>
</body></html>
